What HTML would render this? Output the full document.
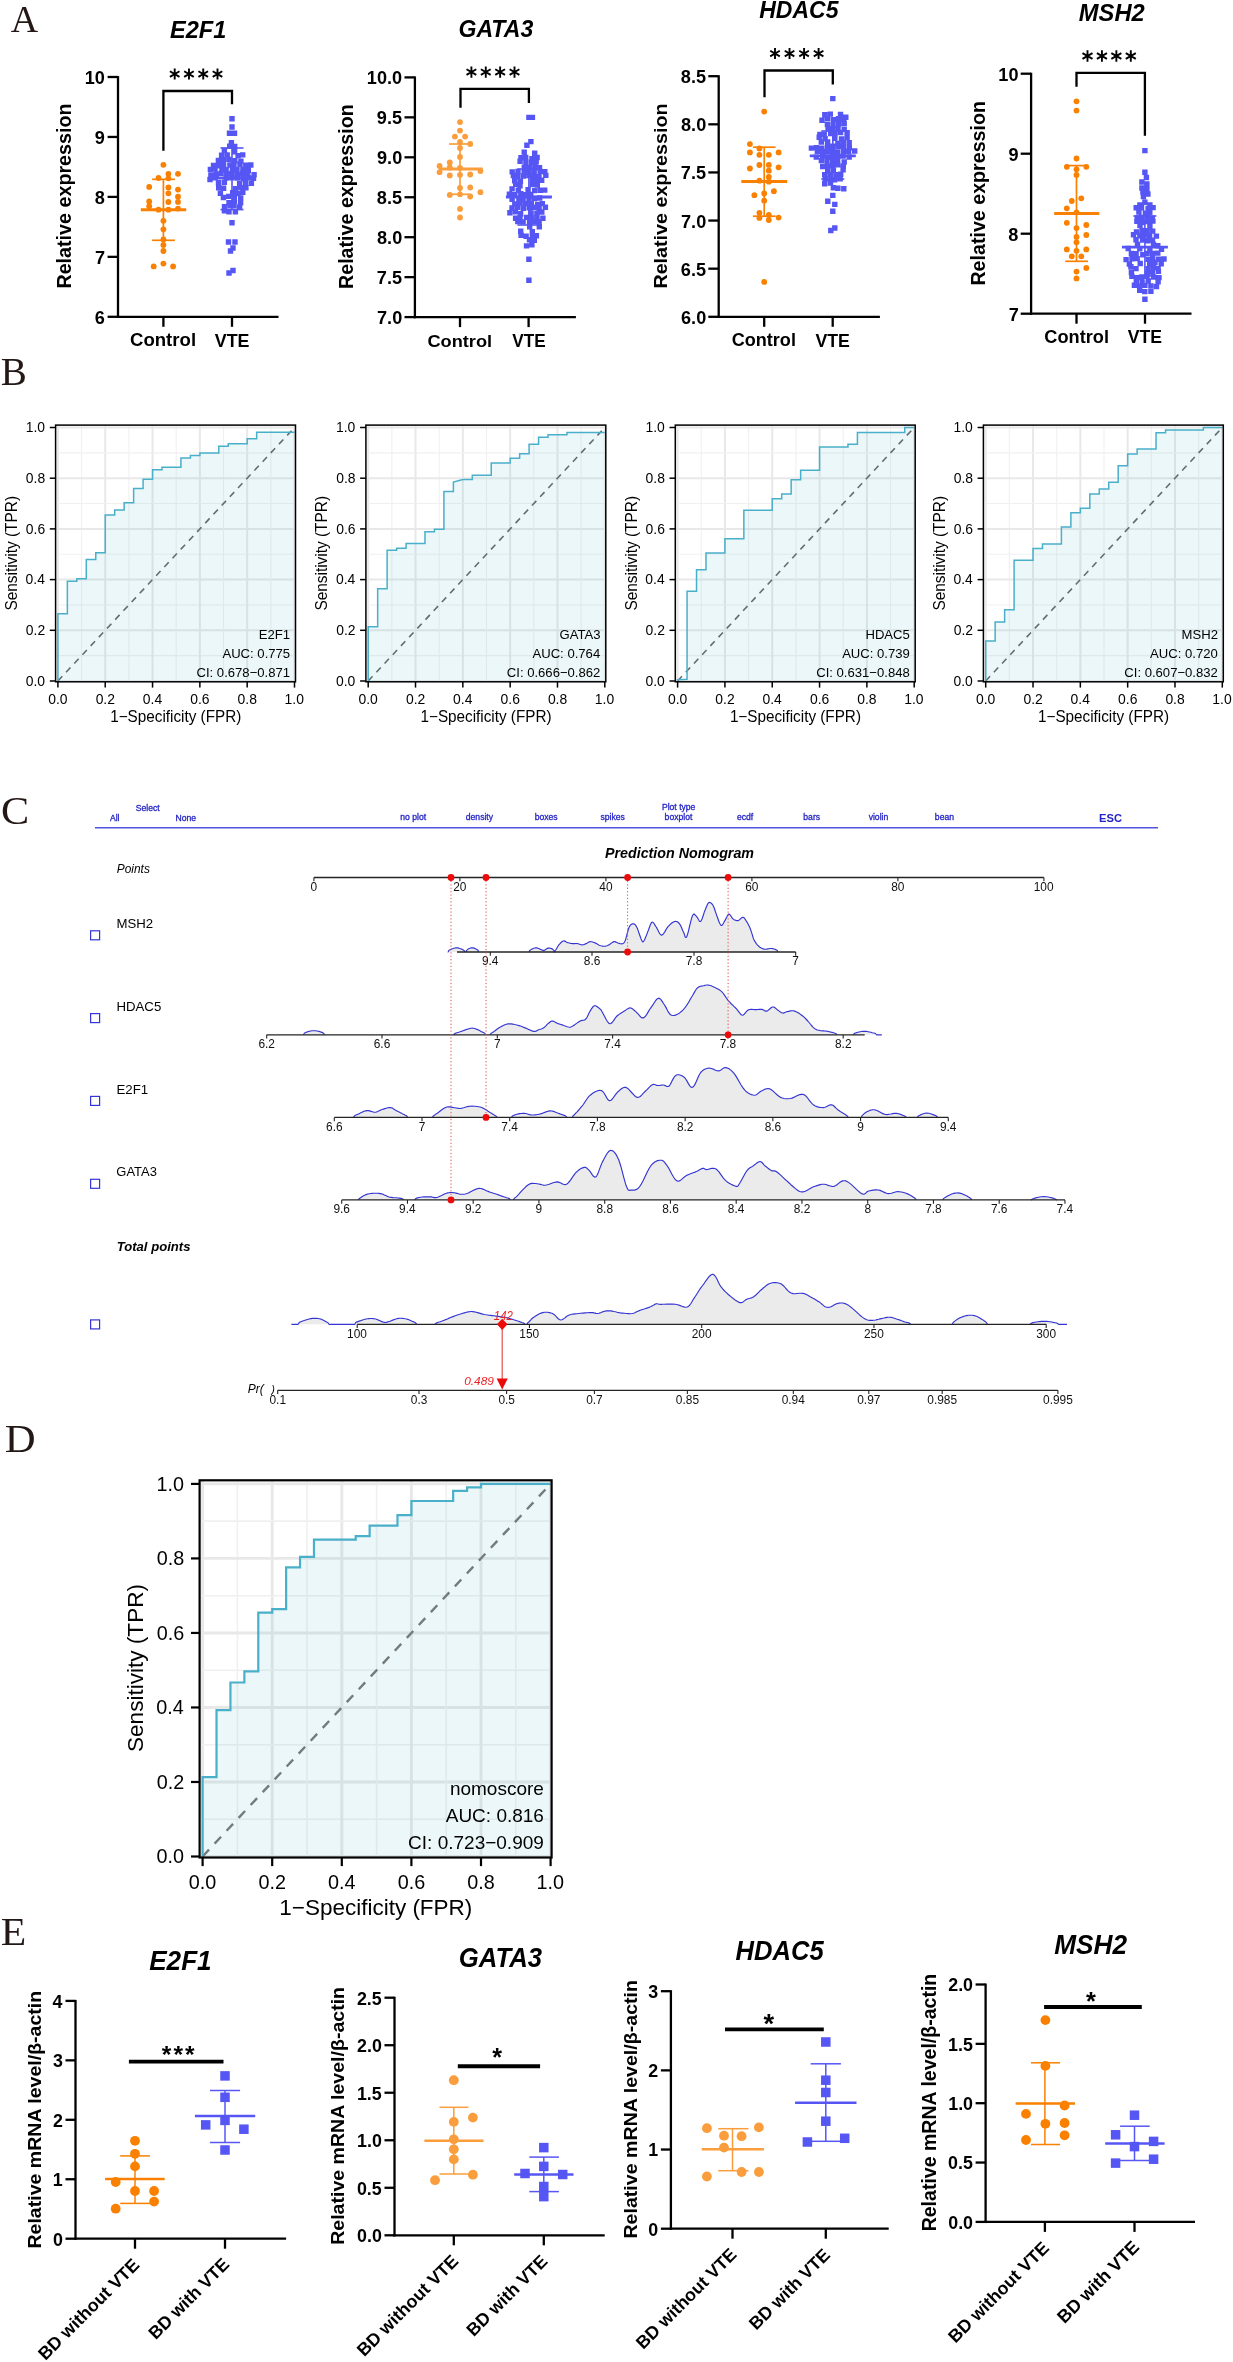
<!DOCTYPE html>
<html><head><meta charset="utf-8"><style>
html,body{margin:0;padding:0;background:#fff;overflow:hidden;}
svg{display:block;will-change:transform;}
</style></head><body>
<svg width="1233" height="2362" viewBox="0 0 1233 2362">
<rect x="0" y="0" width="1233" height="2362" fill="#fff"/>
<line x1="118.00" y1="76.05" x2="118.00" y2="317.95" stroke="#000" stroke-width="2.3" />
<line x1="116.85" y1="316.80" x2="278.50" y2="316.80" stroke="#000" stroke-width="2.3" />
<line x1="107.60" y1="77.00" x2="118.00" y2="77.00" stroke="#000" stroke-width="2.3" />
<line x1="107.60" y1="136.95" x2="118.00" y2="136.95" stroke="#000" stroke-width="2.3" />
<line x1="107.60" y1="196.90" x2="118.00" y2="196.90" stroke="#000" stroke-width="2.3" />
<line x1="107.60" y1="256.85" x2="118.00" y2="256.85" stroke="#000" stroke-width="2.3" />
<line x1="107.60" y1="316.80" x2="118.00" y2="316.80" stroke="#000" stroke-width="2.3" />
<line x1="163.40" y1="316.80" x2="163.40" y2="326.80" stroke="#000" stroke-width="2.3" />
<line x1="232.00" y1="316.80" x2="232.00" y2="326.80" stroke="#000" stroke-width="2.3" />
<text transform="translate(84.71,83.97) scale(0.9750,1)" font-size="18.60" font-family="Liberation Sans" fill="#000" font-weight="bold">10</text>
<text transform="translate(94.87,143.92) scale(0.9750,1)" font-size="18.60" font-family="Liberation Sans" fill="#000" font-weight="bold">9</text>
<text transform="translate(94.69,203.88) scale(0.9750,1)" font-size="18.60" font-family="Liberation Sans" fill="#000" font-weight="bold">8</text>
<text transform="translate(95.05,263.83) scale(0.9750,1)" font-size="18.60" font-family="Liberation Sans" fill="#000" font-weight="bold">7</text>
<text transform="translate(94.87,323.78) scale(0.9750,1)" font-size="18.60" font-family="Liberation Sans" fill="#000" font-weight="bold">6</text>
<text transform="translate(71.17,288.58) rotate(-90) scale(1.0016,1)" font-size="19.68" font-family="Liberation Sans" fill="#000" font-weight="bold">Relative expression</text>
<text transform="translate(169.93,38.00) scale(0.9830,1)" font-size="24.00" font-family="Liberation Sans" fill="#000" font-weight="bold" font-style="italic">E2F1</text>
<text transform="translate(129.96,346.32) scale(1.0214,1)" font-size="18.22" font-family="Liberation Sans" fill="#000" font-weight="bold">Control</text>
<text transform="translate(214.82,346.50) scale(0.9256,1)" font-size="19.28" font-family="Liberation Sans" fill="#000" font-weight="bold">VTE</text>
<polyline points="163.40,150.80 163.40,91.00 232.00,91.00 232.00,104.30" stroke="#000" stroke-width="2.3" fill="none" stroke-linejoin="miter" stroke-linecap="butt"/>
<path d="M174.70,79.60L174.70,68.50M169.89,76.82L179.51,71.28M169.89,71.28L179.51,76.82" stroke="#000" stroke-width="1.9" fill="none"/>
<path d="M188.97,79.60L188.97,68.50M184.16,76.82L193.77,71.28M184.16,71.28L193.77,76.82" stroke="#000" stroke-width="1.9" fill="none"/>
<path d="M203.23,79.60L203.23,68.50M198.43,76.82L208.04,71.28M198.43,71.28L208.04,76.82" stroke="#000" stroke-width="1.9" fill="none"/>
<path d="M217.50,79.60L217.50,68.50M212.69,76.82L222.31,71.28M212.69,71.28L222.31,76.82" stroke="#000" stroke-width="1.9" fill="none"/>
<path d="M228.7,140.0h5.4v5.4h-5.4zM227.0,143.4h5.4v5.4h-5.4zM232.0,143.8h5.4v5.4h-5.4zM221.7,147.7h5.4v5.4h-5.4zM231.9,149.0h5.4v5.4h-5.4zM218.9,152.6h5.4v5.4h-5.4zM224.5,152.2h5.4v5.4h-5.4zM235.4,152.9h5.4v5.4h-5.4zM240.0,152.2h5.4v5.4h-5.4zM215.7,157.7h5.4v5.4h-5.4zM220.8,157.1h5.4v5.4h-5.4zM226.3,156.7h5.4v5.4h-5.4zM232.1,158.0h5.4v5.4h-5.4zM238.2,158.4h5.4v5.4h-5.4zM210.8,162.7h5.4v5.4h-5.4zM215.7,163.0h5.4v5.4h-5.4zM220.9,162.5h5.4v5.4h-5.4zM227.2,162.3h5.4v5.4h-5.4zM231.3,161.8h5.4v5.4h-5.4zM237.3,161.6h5.4v5.4h-5.4zM243.1,162.6h5.4v5.4h-5.4zM248.1,162.3h5.4v5.4h-5.4zM207.7,166.7h5.4v5.4h-5.4zM212.3,166.0h5.4v5.4h-5.4zM219.3,167.1h5.4v5.4h-5.4zM223.4,166.9h5.4v5.4h-5.4zM229.7,167.0h5.4v5.4h-5.4zM234.3,166.9h5.4v5.4h-5.4zM240.2,166.8h5.4v5.4h-5.4zM245.6,167.8h5.4v5.4h-5.4zM208.2,172.3h5.4v5.4h-5.4zM213.6,171.5h5.4v5.4h-5.4zM218.4,170.6h5.4v5.4h-5.4zM224.0,170.9h5.4v5.4h-5.4zM229.3,171.2h5.4v5.4h-5.4zM234.8,171.7h5.4v5.4h-5.4zM240.0,170.6h5.4v5.4h-5.4zM245.0,171.7h5.4v5.4h-5.4zM251.4,172.1h5.4v5.4h-5.4zM207.3,176.8h5.4v5.4h-5.4zM212.4,175.1h5.4v5.4h-5.4zM223.5,175.3h5.4v5.4h-5.4zM229.1,175.2h5.4v5.4h-5.4zM234.7,175.4h5.4v5.4h-5.4zM240.4,176.0h5.4v5.4h-5.4zM245.5,175.1h5.4v5.4h-5.4zM250.8,175.5h5.4v5.4h-5.4zM215.8,180.1h5.4v5.4h-5.4zM221.7,179.7h5.4v5.4h-5.4zM236.9,181.1h5.4v5.4h-5.4zM242.9,180.1h5.4v5.4h-5.4zM248.7,180.7h5.4v5.4h-5.4zM216.0,185.1h5.4v5.4h-5.4zM220.9,185.6h5.4v5.4h-5.4zM232.7,186.1h5.4v5.4h-5.4zM238.0,184.9h5.4v5.4h-5.4zM243.2,185.1h5.4v5.4h-5.4zM217.7,190.7h5.4v5.4h-5.4zM230.0,190.0h5.4v5.4h-5.4zM235.3,190.8h5.4v5.4h-5.4zM240.1,189.7h5.4v5.4h-5.4zM220.7,194.8h5.4v5.4h-5.4zM226.1,193.7h5.4v5.4h-5.4zM231.7,194.5h5.4v5.4h-5.4zM238.0,195.3h5.4v5.4h-5.4zM226.3,200.1h5.4v5.4h-5.4zM231.7,198.5h5.4v5.4h-5.4zM237.9,200.0h5.4v5.4h-5.4zM221.8,204.1h5.4v5.4h-5.4zM227.4,203.2h5.4v5.4h-5.4zM231.3,203.0h5.4v5.4h-5.4zM236.9,204.2h5.4v5.4h-5.4zM221.7,208.0h5.4v5.4h-5.4zM226.3,209.0h5.4v5.4h-5.4zM232.7,209.1h5.4v5.4h-5.4zM229.3,116.0h5.4v5.4h-5.4zM229.3,124.3h5.4v5.4h-5.4zM226.8,130.6h5.4v5.4h-5.4zM231.8,130.6h5.4v5.4h-5.4zM229.3,220.0h5.4v5.4h-5.4zM225.8,239.3h5.4v5.4h-5.4zM232.3,239.3h5.4v5.4h-5.4zM230.3,245.3h5.4v5.4h-5.4zM227.8,248.3h5.4v5.4h-5.4zM230.3,267.8h5.4v5.4h-5.4zM226.3,270.3h5.4v5.4h-5.4z" fill="#5656F4"/>
<line x1="209.00" y1="178.00" x2="255.00" y2="178.00" stroke="#5656F4" stroke-width="2.8" />
<line x1="220.50" y1="148.00" x2="243.50" y2="148.00" stroke="#5656F4" stroke-width="1.6" />
<line x1="220.50" y1="209.60" x2="243.50" y2="209.60" stroke="#5656F4" stroke-width="1.6" />
<line x1="232.00" y1="148.00" x2="232.00" y2="209.60" stroke="#5656F4" stroke-width="1.6" />
<circle cx="163.40" cy="164.80" r="2.90" fill="#F98000"/>
<circle cx="168.40" cy="173.80" r="2.90" fill="#F98000"/>
<circle cx="178.00" cy="173.80" r="2.90" fill="#F98000"/>
<circle cx="158.50" cy="178.00" r="2.90" fill="#F98000"/>
<circle cx="168.40" cy="178.30" r="2.90" fill="#F98000"/>
<circle cx="149.20" cy="186.90" r="2.90" fill="#F98000"/>
<circle cx="168.40" cy="187.50" r="2.90" fill="#F98000"/>
<circle cx="178.00" cy="189.60" r="2.90" fill="#F98000"/>
<circle cx="168.40" cy="193.30" r="2.90" fill="#F98000"/>
<circle cx="178.00" cy="196.70" r="2.90" fill="#F98000"/>
<circle cx="149.20" cy="201.40" r="2.90" fill="#F98000"/>
<circle cx="168.40" cy="202.00" r="2.90" fill="#F98000"/>
<circle cx="178.00" cy="201.90" r="2.90" fill="#F98000"/>
<circle cx="149.20" cy="206.20" r="2.90" fill="#F98000"/>
<circle cx="158.50" cy="209.70" r="2.90" fill="#F98000"/>
<circle cx="168.40" cy="209.70" r="2.90" fill="#F98000"/>
<circle cx="178.00" cy="208.60" r="2.90" fill="#F98000"/>
<circle cx="163.40" cy="220.80" r="2.90" fill="#F98000"/>
<circle cx="163.40" cy="229.30" r="2.90" fill="#F98000"/>
<circle cx="163.40" cy="239.50" r="2.90" fill="#F98000"/>
<circle cx="163.40" cy="245.00" r="2.90" fill="#F98000"/>
<circle cx="163.40" cy="251.00" r="2.90" fill="#F98000"/>
<circle cx="163.40" cy="263.60" r="2.90" fill="#F98000"/>
<circle cx="153.70" cy="266.40" r="2.90" fill="#F98000"/>
<circle cx="173.10" cy="266.40" r="2.90" fill="#F98000"/>
<line x1="140.80" y1="209.80" x2="186.20" y2="209.80" stroke="#F98000" stroke-width="3.0" />
<line x1="152.10" y1="179.30" x2="174.90" y2="179.30" stroke="#F98000" stroke-width="1.7" />
<line x1="152.10" y1="240.30" x2="174.90" y2="240.30" stroke="#F98000" stroke-width="1.7" />
<line x1="163.40" y1="179.30" x2="163.40" y2="240.30" stroke="#F98000" stroke-width="1.7" />
<line x1="414.90" y1="76.45" x2="414.90" y2="318.25" stroke="#000" stroke-width="2.3" />
<line x1="413.75" y1="317.10" x2="575.90" y2="317.10" stroke="#000" stroke-width="2.3" />
<line x1="404.50" y1="77.40" x2="414.90" y2="77.40" stroke="#000" stroke-width="2.3" />
<line x1="404.50" y1="117.35" x2="414.90" y2="117.35" stroke="#000" stroke-width="2.3" />
<line x1="404.50" y1="157.30" x2="414.90" y2="157.30" stroke="#000" stroke-width="2.3" />
<line x1="404.50" y1="197.25" x2="414.90" y2="197.25" stroke="#000" stroke-width="2.3" />
<line x1="404.50" y1="237.20" x2="414.90" y2="237.20" stroke="#000" stroke-width="2.3" />
<line x1="404.50" y1="277.15" x2="414.90" y2="277.15" stroke="#000" stroke-width="2.3" />
<line x1="404.50" y1="317.10" x2="414.90" y2="317.10" stroke="#000" stroke-width="2.3" />
<line x1="460.00" y1="317.10" x2="460.00" y2="327.10" stroke="#000" stroke-width="2.3" />
<line x1="528.60" y1="317.10" x2="528.60" y2="327.10" stroke="#000" stroke-width="2.3" />
<text transform="translate(366.86,84.38) scale(0.9750,1)" font-size="18.60" font-family="Liberation Sans" fill="#000" font-weight="bold">10.0</text>
<text transform="translate(376.84,124.33) scale(0.9750,1)" font-size="18.60" font-family="Liberation Sans" fill="#000" font-weight="bold">9.5</text>
<text transform="translate(377.02,164.28) scale(0.9750,1)" font-size="18.60" font-family="Liberation Sans" fill="#000" font-weight="bold">9.0</text>
<text transform="translate(376.84,204.22) scale(0.9750,1)" font-size="18.60" font-family="Liberation Sans" fill="#000" font-weight="bold">8.5</text>
<text transform="translate(377.02,244.18) scale(0.9750,1)" font-size="18.60" font-family="Liberation Sans" fill="#000" font-weight="bold">8.0</text>
<text transform="translate(376.84,284.12) scale(0.9750,1)" font-size="18.60" font-family="Liberation Sans" fill="#000" font-weight="bold">7.5</text>
<text transform="translate(377.02,324.08) scale(0.9750,1)" font-size="18.60" font-family="Liberation Sans" fill="#000" font-weight="bold">7.0</text>
<text transform="translate(353.19,288.98) rotate(-90) scale(1.0049,1)" font-size="19.57" font-family="Liberation Sans" fill="#000" font-weight="bold">Relative expression</text>
<text transform="translate(458.45,37.46) scale(0.9701,1)" font-size="23.80" font-family="Liberation Sans" fill="#000" font-weight="bold" font-style="italic">GATA3</text>
<text transform="translate(427.47,346.83) scale(1.0546,1)" font-size="17.26" font-family="Liberation Sans" fill="#000" font-weight="bold">Control</text>
<text transform="translate(512.23,347.00) scale(0.9425,1)" font-size="18.26" font-family="Liberation Sans" fill="#000" font-weight="bold">VTE</text>
<polyline points="460.50,107.70 460.50,88.90 528.90,88.90 528.90,102.90" stroke="#000" stroke-width="2.3" fill="none" stroke-linejoin="miter" stroke-linecap="butt"/>
<path d="M471.40,77.70L471.40,66.40M466.51,74.88L476.29,69.23M466.51,69.23L476.29,74.88" stroke="#000" stroke-width="1.9" fill="none"/>
<path d="M485.77,77.70L485.77,66.40M480.87,74.88L490.66,69.23M480.87,69.23L490.66,74.88" stroke="#000" stroke-width="1.9" fill="none"/>
<path d="M500.13,77.70L500.13,66.40M495.24,74.88L505.03,69.23M495.24,69.23L505.03,74.88" stroke="#000" stroke-width="1.9" fill="none"/>
<path d="M514.50,77.70L514.50,66.40M509.61,74.88L519.39,69.23M509.61,69.23L519.39,74.88" stroke="#000" stroke-width="1.9" fill="none"/>
<path d="M521.5,149.4h5.4v5.4h-5.4zM532.0,150.6h5.4v5.4h-5.4zM518.3,155.1h5.4v5.4h-5.4zM523.0,154.8h5.4v5.4h-5.4zM529.3,155.9h5.4v5.4h-5.4zM534.4,154.8h5.4v5.4h-5.4zM517.4,158.6h5.4v5.4h-5.4zM523.2,159.3h5.4v5.4h-5.4zM528.9,159.6h5.4v5.4h-5.4zM533.5,159.2h5.4v5.4h-5.4zM521.6,164.4h5.4v5.4h-5.4zM526.8,164.7h5.4v5.4h-5.4zM532.3,164.6h5.4v5.4h-5.4zM536.8,165.1h5.4v5.4h-5.4zM509.5,169.2h5.4v5.4h-5.4zM515.3,168.8h5.4v5.4h-5.4zM521.5,168.7h5.4v5.4h-5.4zM526.0,169.5h5.4v5.4h-5.4zM531.5,168.8h5.4v5.4h-5.4zM537.4,168.7h5.4v5.4h-5.4zM542.1,169.1h5.4v5.4h-5.4zM510.7,172.8h5.4v5.4h-5.4zM515.1,174.2h5.4v5.4h-5.4zM520.8,173.3h5.4v5.4h-5.4zM526.3,172.9h5.4v5.4h-5.4zM531.6,174.2h5.4v5.4h-5.4zM536.3,173.9h5.4v5.4h-5.4zM543.1,172.7h5.4v5.4h-5.4zM512.0,178.2h5.4v5.4h-5.4zM517.7,178.7h5.4v5.4h-5.4zM529.5,177.4h5.4v5.4h-5.4zM534.9,177.7h5.4v5.4h-5.4zM539.0,177.6h5.4v5.4h-5.4zM513.0,181.7h5.4v5.4h-5.4zM517.3,183.0h5.4v5.4h-5.4zM529.4,181.8h5.4v5.4h-5.4zM534.6,182.3h5.4v5.4h-5.4zM509.4,186.2h5.4v5.4h-5.4zM515.6,187.6h5.4v5.4h-5.4zM525.4,187.0h5.4v5.4h-5.4zM532.0,187.9h5.4v5.4h-5.4zM537.6,187.5h5.4v5.4h-5.4zM542.0,187.4h5.4v5.4h-5.4zM506.7,191.6h5.4v5.4h-5.4zM512.1,191.9h5.4v5.4h-5.4zM518.1,191.0h5.4v5.4h-5.4zM523.1,191.9h5.4v5.4h-5.4zM528.1,191.8h5.4v5.4h-5.4zM509.4,196.6h5.4v5.4h-5.4zM516.2,197.2h5.4v5.4h-5.4zM520.4,196.2h5.4v5.4h-5.4zM526.3,196.5h5.4v5.4h-5.4zM531.9,195.8h5.4v5.4h-5.4zM537.0,195.3h5.4v5.4h-5.4zM512.1,201.3h5.4v5.4h-5.4zM517.5,200.3h5.4v5.4h-5.4zM523.0,200.9h5.4v5.4h-5.4zM528.6,201.2h5.4v5.4h-5.4zM535.0,201.8h5.4v5.4h-5.4zM539.6,200.9h5.4v5.4h-5.4zM509.3,205.3h5.4v5.4h-5.4zM514.9,204.7h5.4v5.4h-5.4zM520.6,205.5h5.4v5.4h-5.4zM526.4,205.1h5.4v5.4h-5.4zM531.4,204.5h5.4v5.4h-5.4zM536.4,205.1h5.4v5.4h-5.4zM542.7,204.5h5.4v5.4h-5.4zM507.2,210.1h5.4v5.4h-5.4zM512.8,209.2h5.4v5.4h-5.4zM517.9,211.0h5.4v5.4h-5.4zM528.4,210.2h5.4v5.4h-5.4zM534.2,210.6h5.4v5.4h-5.4zM539.1,209.3h5.4v5.4h-5.4zM512.9,215.6h5.4v5.4h-5.4zM517.3,215.0h5.4v5.4h-5.4zM523.9,214.7h5.4v5.4h-5.4zM528.8,215.3h5.4v5.4h-5.4zM534.3,214.7h5.4v5.4h-5.4zM540.2,215.6h5.4v5.4h-5.4zM515.1,218.8h5.4v5.4h-5.4zM520.4,219.2h5.4v5.4h-5.4zM526.9,219.5h5.4v5.4h-5.4zM531.0,219.0h5.4v5.4h-5.4zM536.4,219.1h5.4v5.4h-5.4zM527.0,224.2h5.4v5.4h-5.4zM536.6,224.2h5.4v5.4h-5.4zM518.0,228.5h5.4v5.4h-5.4zM529.6,229.0h5.4v5.4h-5.4zM518.4,232.6h5.4v5.4h-5.4zM523.4,233.5h5.4v5.4h-5.4zM529.7,233.7h5.4v5.4h-5.4zM533.7,233.0h5.4v5.4h-5.4zM526.8,237.1h5.4v5.4h-5.4zM531.6,237.5h5.4v5.4h-5.4zM523.8,243.2h5.4v5.4h-5.4zM529.2,242.2h5.4v5.4h-5.4zM526.2,114.7h5.4v5.4h-5.4zM529.7,114.7h5.4v5.4h-5.4zM528.2,138.9h5.4v5.4h-5.4zM524.2,142.6h5.4v5.4h-5.4zM526.2,256.5h5.4v5.4h-5.4zM526.2,277.6h5.4v5.4h-5.4z" fill="#5656F4"/>
<line x1="505.90" y1="197.00" x2="551.90" y2="197.00" stroke="#5656F4" stroke-width="2.8" />
<line x1="517.40" y1="169.00" x2="540.40" y2="169.00" stroke="#5656F4" stroke-width="1.6" />
<line x1="517.40" y1="225.00" x2="540.40" y2="225.00" stroke="#5656F4" stroke-width="1.6" />
<line x1="528.90" y1="169.00" x2="528.90" y2="225.00" stroke="#5656F4" stroke-width="1.6" />
<circle cx="460.00" cy="122.10" r="2.90" fill="#FA9D3C"/>
<circle cx="460.00" cy="130.60" r="2.90" fill="#FA9D3C"/>
<circle cx="454.90" cy="136.60" r="2.90" fill="#FA9D3C"/>
<circle cx="465.10" cy="136.60" r="2.90" fill="#FA9D3C"/>
<circle cx="460.00" cy="141.80" r="2.90" fill="#FA9D3C"/>
<circle cx="470.20" cy="144.00" r="2.90" fill="#FA9D3C"/>
<circle cx="460.00" cy="148.00" r="2.90" fill="#FA9D3C"/>
<circle cx="460.00" cy="156.90" r="2.90" fill="#FA9D3C"/>
<circle cx="449.80" cy="162.40" r="2.90" fill="#FA9D3C"/>
<circle cx="439.60" cy="165.90" r="2.90" fill="#FA9D3C"/>
<circle cx="439.60" cy="172.20" r="2.90" fill="#FA9D3C"/>
<circle cx="449.80" cy="167.50" r="2.90" fill="#FA9D3C"/>
<circle cx="460.00" cy="168.00" r="2.90" fill="#FA9D3C"/>
<circle cx="480.40" cy="171.00" r="2.90" fill="#FA9D3C"/>
<circle cx="449.80" cy="175.40" r="2.90" fill="#FA9D3C"/>
<circle cx="460.00" cy="174.80" r="2.90" fill="#FA9D3C"/>
<circle cx="470.20" cy="174.50" r="2.90" fill="#FA9D3C"/>
<circle cx="460.00" cy="188.00" r="2.90" fill="#FA9D3C"/>
<circle cx="470.20" cy="187.50" r="2.90" fill="#FA9D3C"/>
<circle cx="480.40" cy="192.20" r="2.90" fill="#FA9D3C"/>
<circle cx="449.80" cy="194.90" r="2.90" fill="#FA9D3C"/>
<circle cx="460.00" cy="194.30" r="2.90" fill="#FA9D3C"/>
<circle cx="470.20" cy="196.50" r="2.90" fill="#FA9D3C"/>
<circle cx="460.00" cy="208.90" r="2.90" fill="#FA9D3C"/>
<circle cx="460.00" cy="217.50" r="2.90" fill="#FA9D3C"/>
<line x1="439.00" y1="169.00" x2="482.70" y2="169.00" stroke="#FA9D3C" stroke-width="3.0" />
<line x1="449.00" y1="144.00" x2="470.40" y2="144.00" stroke="#FA9D3C" stroke-width="1.7" />
<line x1="449.00" y1="194.30" x2="470.40" y2="194.30" stroke="#FA9D3C" stroke-width="1.7" />
<line x1="460.00" y1="144.00" x2="460.00" y2="194.30" stroke="#FA9D3C" stroke-width="1.7" />
<line x1="718.70" y1="75.25" x2="718.70" y2="317.95" stroke="#000" stroke-width="2.3" />
<line x1="717.55" y1="316.80" x2="879.90" y2="316.80" stroke="#000" stroke-width="2.3" />
<line x1="708.30" y1="76.20" x2="718.70" y2="76.20" stroke="#000" stroke-width="2.3" />
<line x1="708.30" y1="124.32" x2="718.70" y2="124.32" stroke="#000" stroke-width="2.3" />
<line x1="708.30" y1="172.44" x2="718.70" y2="172.44" stroke="#000" stroke-width="2.3" />
<line x1="708.30" y1="220.56" x2="718.70" y2="220.56" stroke="#000" stroke-width="2.3" />
<line x1="708.30" y1="268.68" x2="718.70" y2="268.68" stroke="#000" stroke-width="2.3" />
<line x1="708.30" y1="316.80" x2="718.70" y2="316.80" stroke="#000" stroke-width="2.3" />
<line x1="764.20" y1="316.80" x2="764.20" y2="326.80" stroke="#000" stroke-width="2.3" />
<line x1="832.70" y1="316.80" x2="832.70" y2="326.80" stroke="#000" stroke-width="2.3" />
<text transform="translate(680.84,83.17) scale(0.9750,1)" font-size="18.60" font-family="Liberation Sans" fill="#000" font-weight="bold">8.5</text>
<text transform="translate(681.02,131.29) scale(0.9750,1)" font-size="18.60" font-family="Liberation Sans" fill="#000" font-weight="bold">8.0</text>
<text transform="translate(680.84,179.41) scale(0.9750,1)" font-size="18.60" font-family="Liberation Sans" fill="#000" font-weight="bold">7.5</text>
<text transform="translate(681.02,227.53) scale(0.9750,1)" font-size="18.60" font-family="Liberation Sans" fill="#000" font-weight="bold">7.0</text>
<text transform="translate(680.84,275.66) scale(0.9750,1)" font-size="18.60" font-family="Liberation Sans" fill="#000" font-weight="bold">6.5</text>
<text transform="translate(681.02,323.78) scale(0.9750,1)" font-size="18.60" font-family="Liberation Sans" fill="#000" font-weight="bold">6.0</text>
<text transform="translate(666.96,288.58) rotate(-90) scale(1.0240,1)" font-size="19.25" font-family="Liberation Sans" fill="#000" font-weight="bold">Relative expression</text>
<text transform="translate(759.24,18.45) scale(0.9329,1)" font-size="24.65" font-family="Liberation Sans" fill="#000" font-weight="bold" font-style="italic">HDAC5</text>
<text transform="translate(731.68,346.32) scale(0.9927,1)" font-size="18.22" font-family="Liberation Sans" fill="#000" font-weight="bold">Control</text>
<text transform="translate(815.42,346.50) scale(0.9202,1)" font-size="19.28" font-family="Liberation Sans" fill="#000" font-weight="bold">VTE</text>
<polyline points="764.50,97.30 764.50,70.50 832.80,70.50 832.80,84.50" stroke="#000" stroke-width="2.3" fill="none" stroke-linejoin="miter" stroke-linecap="butt"/>
<path d="M775.00,59.10L775.00,48.00M770.19,56.32L779.81,50.77M770.19,50.77L779.81,56.32" stroke="#000" stroke-width="1.9" fill="none"/>
<path d="M789.53,59.10L789.53,48.00M784.73,56.32L794.34,50.77M784.73,50.77L794.34,56.32" stroke="#000" stroke-width="1.9" fill="none"/>
<path d="M804.07,59.10L804.07,48.00M799.26,56.32L808.87,50.77M799.26,50.77L808.87,56.32" stroke="#000" stroke-width="1.9" fill="none"/>
<path d="M818.60,59.10L818.60,48.00M813.79,56.32L823.41,50.77M813.79,50.77L823.41,56.32" stroke="#000" stroke-width="1.9" fill="none"/>
<path d="M822.1,112.0h5.4v5.4h-5.4zM827.6,111.4h5.4v5.4h-5.4zM837.8,111.8h5.4v5.4h-5.4zM819.3,117.6h5.4v5.4h-5.4zM824.9,116.2h5.4v5.4h-5.4zM830.7,116.9h5.4v5.4h-5.4zM835.8,116.0h5.4v5.4h-5.4zM841.0,116.5h5.4v5.4h-5.4zM824.7,121.9h5.4v5.4h-5.4zM830.4,122.3h5.4v5.4h-5.4zM836.0,121.4h5.4v5.4h-5.4zM841.5,120.7h5.4v5.4h-5.4zM825.4,126.0h5.4v5.4h-5.4zM829.8,126.1h5.4v5.4h-5.4zM835.3,126.3h5.4v5.4h-5.4zM841.5,126.5h5.4v5.4h-5.4zM817.2,131.7h5.4v5.4h-5.4zM821.5,131.4h5.4v5.4h-5.4zM828.0,130.8h5.4v5.4h-5.4zM832.3,131.4h5.4v5.4h-5.4zM837.9,129.8h5.4v5.4h-5.4zM844.4,129.9h5.4v5.4h-5.4zM816.5,134.6h5.4v5.4h-5.4zM822.4,136.0h5.4v5.4h-5.4zM832.1,135.7h5.4v5.4h-5.4zM838.8,136.3h5.4v5.4h-5.4zM844.4,134.9h5.4v5.4h-5.4zM818.6,139.3h5.4v5.4h-5.4zM824.9,139.2h5.4v5.4h-5.4zM835.2,140.8h5.4v5.4h-5.4zM840.7,139.8h5.4v5.4h-5.4zM846.5,140.1h5.4v5.4h-5.4zM808.7,145.4h5.4v5.4h-5.4zM813.8,144.9h5.4v5.4h-5.4zM819.0,145.5h5.4v5.4h-5.4zM824.8,143.5h5.4v5.4h-5.4zM830.2,143.5h5.4v5.4h-5.4zM835.7,143.6h5.4v5.4h-5.4zM840.8,144.9h5.4v5.4h-5.4zM846.6,145.0h5.4v5.4h-5.4zM814.6,148.6h5.4v5.4h-5.4zM819.4,148.7h5.4v5.4h-5.4zM824.4,148.8h5.4v5.4h-5.4zM829.8,148.9h5.4v5.4h-5.4zM834.7,149.2h5.4v5.4h-5.4zM840.6,148.5h5.4v5.4h-5.4zM845.9,148.5h5.4v5.4h-5.4zM852.0,148.3h5.4v5.4h-5.4zM813.6,154.4h5.4v5.4h-5.4zM819.9,153.0h5.4v5.4h-5.4zM824.9,154.5h5.4v5.4h-5.4zM829.7,152.9h5.4v5.4h-5.4zM835.0,154.3h5.4v5.4h-5.4zM840.4,153.3h5.4v5.4h-5.4zM846.5,154.3h5.4v5.4h-5.4zM818.7,157.9h5.4v5.4h-5.4zM824.3,158.0h5.4v5.4h-5.4zM830.0,158.1h5.4v5.4h-5.4zM834.9,157.3h5.4v5.4h-5.4zM841.5,159.3h5.4v5.4h-5.4zM820.0,163.8h5.4v5.4h-5.4zM825.1,163.6h5.4v5.4h-5.4zM830.1,162.5h5.4v5.4h-5.4zM835.1,162.0h5.4v5.4h-5.4zM840.6,163.5h5.4v5.4h-5.4zM825.0,168.3h5.4v5.4h-5.4zM830.7,167.7h5.4v5.4h-5.4zM840.4,167.1h5.4v5.4h-5.4zM822.0,171.9h5.4v5.4h-5.4zM827.6,171.8h5.4v5.4h-5.4zM833.4,172.1h5.4v5.4h-5.4zM838.0,171.5h5.4v5.4h-5.4zM822.5,176.0h5.4v5.4h-5.4zM828.1,177.3h5.4v5.4h-5.4zM832.0,177.0h5.4v5.4h-5.4zM837.5,176.2h5.4v5.4h-5.4zM822.0,181.1h5.4v5.4h-5.4zM827.8,180.3h5.4v5.4h-5.4zM830.7,185.1h5.4v5.4h-5.4zM835.2,185.5h5.4v5.4h-5.4zM841.1,186.1h5.4v5.4h-5.4zM830.1,95.9h5.4v5.4h-5.4zM843.1,114.5h5.4v5.4h-5.4zM830.1,192.7h5.4v5.4h-5.4zM825.1,198.5h5.4v5.4h-5.4zM832.1,201.7h5.4v5.4h-5.4zM830.1,208.5h5.4v5.4h-5.4zM828.1,227.8h5.4v5.4h-5.4zM832.1,225.3h5.4v5.4h-5.4z" fill="#5656F4"/>
<line x1="809.80" y1="155.90" x2="855.80" y2="155.90" stroke="#5656F4" stroke-width="2.8" />
<line x1="821.30" y1="131.00" x2="844.30" y2="131.00" stroke="#5656F4" stroke-width="1.6" />
<line x1="821.30" y1="179.00" x2="844.30" y2="179.00" stroke="#5656F4" stroke-width="1.6" />
<line x1="832.80" y1="131.00" x2="832.80" y2="179.00" stroke="#5656F4" stroke-width="1.6" />
<circle cx="764.20" cy="111.60" r="2.90" fill="#F98000"/>
<circle cx="749.90" cy="144.10" r="2.90" fill="#F98000"/>
<circle cx="759.40" cy="148.50" r="2.90" fill="#F98000"/>
<circle cx="749.90" cy="152.40" r="2.90" fill="#F98000"/>
<circle cx="778.60" cy="152.40" r="2.90" fill="#F98000"/>
<circle cx="759.40" cy="154.80" r="2.90" fill="#F98000"/>
<circle cx="768.80" cy="154.80" r="2.90" fill="#F98000"/>
<circle cx="759.40" cy="165.00" r="2.90" fill="#F98000"/>
<circle cx="768.80" cy="164.90" r="2.90" fill="#F98000"/>
<circle cx="749.90" cy="168.50" r="2.90" fill="#F98000"/>
<circle cx="778.60" cy="167.30" r="2.90" fill="#F98000"/>
<circle cx="768.80" cy="170.70" r="2.90" fill="#F98000"/>
<circle cx="768.80" cy="177.00" r="2.90" fill="#F98000"/>
<circle cx="759.40" cy="180.70" r="2.90" fill="#F98000"/>
<circle cx="768.80" cy="181.70" r="2.90" fill="#F98000"/>
<circle cx="773.90" cy="191.20" r="2.90" fill="#F98000"/>
<circle cx="754.40" cy="195.20" r="2.90" fill="#F98000"/>
<circle cx="764.20" cy="193.50" r="2.90" fill="#F98000"/>
<circle cx="764.20" cy="200.70" r="2.90" fill="#F98000"/>
<circle cx="759.40" cy="212.80" r="2.90" fill="#F98000"/>
<circle cx="759.40" cy="217.90" r="2.90" fill="#F98000"/>
<circle cx="768.80" cy="214.90" r="2.90" fill="#F98000"/>
<circle cx="778.60" cy="217.60" r="2.90" fill="#F98000"/>
<circle cx="768.80" cy="220.00" r="2.90" fill="#F98000"/>
<circle cx="764.20" cy="281.90" r="2.90" fill="#F98000"/>
<line x1="741.30" y1="181.50" x2="787.20" y2="181.50" stroke="#F98000" stroke-width="3.0" />
<line x1="752.90" y1="147.20" x2="775.60" y2="147.20" stroke="#F98000" stroke-width="1.7" />
<line x1="752.90" y1="216.20" x2="775.60" y2="216.20" stroke="#F98000" stroke-width="1.7" />
<line x1="764.20" y1="147.20" x2="764.20" y2="216.20" stroke="#F98000" stroke-width="1.7" />
<line x1="1031.10" y1="72.75" x2="1031.10" y2="314.85" stroke="#000" stroke-width="2.3" />
<line x1="1029.95" y1="313.70" x2="1191.50" y2="313.70" stroke="#000" stroke-width="2.3" />
<line x1="1020.70" y1="73.70" x2="1031.10" y2="73.70" stroke="#000" stroke-width="2.3" />
<line x1="1020.70" y1="153.70" x2="1031.10" y2="153.70" stroke="#000" stroke-width="2.3" />
<line x1="1020.70" y1="233.70" x2="1031.10" y2="233.70" stroke="#000" stroke-width="2.3" />
<line x1="1020.70" y1="313.70" x2="1031.10" y2="313.70" stroke="#000" stroke-width="2.3" />
<line x1="1076.50" y1="313.70" x2="1076.50" y2="323.70" stroke="#000" stroke-width="2.3" />
<line x1="1145.00" y1="313.70" x2="1145.00" y2="323.70" stroke="#000" stroke-width="2.3" />
<text transform="translate(998.31,80.67) scale(0.9750,1)" font-size="18.60" font-family="Liberation Sans" fill="#000" font-weight="bold">10</text>
<text transform="translate(1008.47,160.67) scale(0.9750,1)" font-size="18.60" font-family="Liberation Sans" fill="#000" font-weight="bold">9</text>
<text transform="translate(1008.29,240.67) scale(0.9750,1)" font-size="18.60" font-family="Liberation Sans" fill="#000" font-weight="bold">8</text>
<text transform="translate(1008.65,320.68) scale(0.9750,1)" font-size="18.60" font-family="Liberation Sans" fill="#000" font-weight="bold">7</text>
<text transform="translate(985.19,285.58) rotate(-90) scale(1.0043,1)" font-size="19.57" font-family="Liberation Sans" fill="#000" font-weight="bold">Relative expression</text>
<text transform="translate(1078.83,21.46) scale(0.9787,1)" font-size="24.23" font-family="Liberation Sans" fill="#000" font-weight="bold" font-style="italic">MSH2</text>
<text transform="translate(1044.27,343.02) scale(1.0144,1)" font-size="17.95" font-family="Liberation Sans" fill="#000" font-weight="bold">Control</text>
<text transform="translate(1127.72,343.20) scale(0.9287,1)" font-size="18.99" font-family="Liberation Sans" fill="#000" font-weight="bold">VTE</text>
<polyline points="1076.50,86.70 1076.50,72.80 1144.90,72.80 1144.90,135.80" stroke="#000" stroke-width="2.3" fill="none" stroke-linejoin="miter" stroke-linecap="butt"/>
<path d="M1087.50,61.80L1087.50,50.20M1082.48,58.90L1092.52,53.10M1082.48,53.10L1092.52,58.90" stroke="#000" stroke-width="1.9" fill="none"/>
<path d="M1101.93,61.80L1101.93,50.20M1096.91,58.90L1106.96,53.10M1096.91,53.10L1106.96,58.90" stroke="#000" stroke-width="1.9" fill="none"/>
<path d="M1116.37,61.80L1116.37,50.20M1111.34,58.90L1121.39,53.10M1111.34,53.10L1121.39,58.90" stroke="#000" stroke-width="1.9" fill="none"/>
<path d="M1130.80,61.80L1130.80,50.20M1125.78,58.90L1135.82,53.10M1125.78,53.10L1135.82,58.90" stroke="#000" stroke-width="1.9" fill="none"/>
<path d="M1133.5,205.1h5.4v5.4h-5.4zM1138.8,205.1h5.4v5.4h-5.4zM1145.4,205.8h5.4v5.4h-5.4zM1150.4,204.9h5.4v5.4h-5.4zM1136.2,209.3h5.4v5.4h-5.4zM1142.7,210.5h5.4v5.4h-5.4zM1147.1,209.5h5.4v5.4h-5.4zM1134.5,215.2h5.4v5.4h-5.4zM1138.8,214.7h5.4v5.4h-5.4zM1144.9,213.9h5.4v5.4h-5.4zM1149.6,215.4h5.4v5.4h-5.4zM1134.2,218.7h5.4v5.4h-5.4zM1139.6,219.9h5.4v5.4h-5.4zM1144.9,218.9h5.4v5.4h-5.4zM1150.2,218.4h5.4v5.4h-5.4zM1137.3,222.8h5.4v5.4h-5.4zM1147.2,223.8h5.4v5.4h-5.4zM1133.8,229.3h5.4v5.4h-5.4zM1139.4,227.7h5.4v5.4h-5.4zM1144.5,228.0h5.4v5.4h-5.4zM1150.0,228.4h5.4v5.4h-5.4zM1130.8,232.0h5.4v5.4h-5.4zM1137.2,233.1h5.4v5.4h-5.4zM1141.9,232.3h5.4v5.4h-5.4zM1146.9,233.3h5.4v5.4h-5.4zM1153.7,233.4h5.4v5.4h-5.4zM1133.3,237.1h5.4v5.4h-5.4zM1139.9,237.3h5.4v5.4h-5.4zM1145.1,238.1h5.4v5.4h-5.4zM1149.8,237.4h5.4v5.4h-5.4zM1134.8,241.8h5.4v5.4h-5.4zM1150.8,241.8h5.4v5.4h-5.4zM1155.1,243.1h5.4v5.4h-5.4zM1125.5,245.8h5.4v5.4h-5.4zM1137.1,246.0h5.4v5.4h-5.4zM1147.2,247.7h5.4v5.4h-5.4zM1158.8,246.5h5.4v5.4h-5.4zM1128.7,250.8h5.4v5.4h-5.4zM1133.4,251.1h5.4v5.4h-5.4zM1140.1,252.0h5.4v5.4h-5.4zM1144.2,250.8h5.4v5.4h-5.4zM1149.8,250.8h5.4v5.4h-5.4zM1155.1,250.4h5.4v5.4h-5.4zM1123.4,256.9h5.4v5.4h-5.4zM1129.3,256.2h5.4v5.4h-5.4zM1134.5,255.9h5.4v5.4h-5.4zM1145.5,256.7h5.4v5.4h-5.4zM1150.0,256.2h5.4v5.4h-5.4zM1155.9,256.5h5.4v5.4h-5.4zM1161.3,256.3h5.4v5.4h-5.4zM1126.7,261.4h5.4v5.4h-5.4zM1137.5,260.8h5.4v5.4h-5.4zM1147.0,261.4h5.4v5.4h-5.4zM1152.3,259.8h5.4v5.4h-5.4zM1158.5,261.0h5.4v5.4h-5.4zM1128.2,264.1h5.4v5.4h-5.4zM1133.3,265.9h5.4v5.4h-5.4zM1145.4,265.9h5.4v5.4h-5.4zM1150.9,264.5h5.4v5.4h-5.4zM1155.4,265.9h5.4v5.4h-5.4zM1128.7,269.8h5.4v5.4h-5.4zM1144.9,270.4h5.4v5.4h-5.4zM1149.7,269.4h5.4v5.4h-5.4zM1155.7,268.7h5.4v5.4h-5.4zM1129.2,273.5h5.4v5.4h-5.4zM1133.9,274.9h5.4v5.4h-5.4zM1139.1,274.3h5.4v5.4h-5.4zM1144.3,273.5h5.4v5.4h-5.4zM1150.9,274.3h5.4v5.4h-5.4zM1156.3,274.9h5.4v5.4h-5.4zM1133.6,278.5h5.4v5.4h-5.4zM1139.4,279.5h5.4v5.4h-5.4zM1145.5,278.3h5.4v5.4h-5.4zM1155.4,279.0h5.4v5.4h-5.4zM1131.7,282.5h5.4v5.4h-5.4zM1136.9,283.5h5.4v5.4h-5.4zM1142.2,282.7h5.4v5.4h-5.4zM1148.2,283.2h5.4v5.4h-5.4zM1153.8,283.8h5.4v5.4h-5.4zM1137.0,287.7h5.4v5.4h-5.4zM1142.1,288.9h5.4v5.4h-5.4zM1148.2,288.7h5.4v5.4h-5.4zM1142.2,147.9h5.4v5.4h-5.4zM1142.2,169.5h5.4v5.4h-5.4zM1143.7,174.8h5.4v5.4h-5.4zM1139.2,179.3h5.4v5.4h-5.4zM1144.2,181.3h5.4v5.4h-5.4zM1139.2,185.3h5.4v5.4h-5.4zM1144.2,186.3h5.4v5.4h-5.4zM1140.2,189.3h5.4v5.4h-5.4zM1145.2,191.3h5.4v5.4h-5.4zM1140.7,193.8h5.4v5.4h-5.4zM1142.2,199.6h5.4v5.4h-5.4zM1142.2,296.6h5.4v5.4h-5.4zM1137.2,202.3h5.4v5.4h-5.4zM1147.2,202.3h5.4v5.4h-5.4z" fill="#5656F4"/>
<line x1="1121.90" y1="247.10" x2="1167.90" y2="247.10" stroke="#5656F4" stroke-width="2.8" />
<line x1="1133.40" y1="216.00" x2="1156.40" y2="216.00" stroke="#5656F4" stroke-width="1.6" />
<line x1="1133.40" y1="276.00" x2="1156.40" y2="276.00" stroke="#5656F4" stroke-width="1.6" />
<line x1="1144.90" y1="216.00" x2="1144.90" y2="276.00" stroke="#5656F4" stroke-width="1.6" />
<circle cx="1076.50" cy="101.30" r="2.90" fill="#F98000"/>
<circle cx="1076.50" cy="110.60" r="2.90" fill="#F98000"/>
<circle cx="1076.50" cy="158.50" r="2.90" fill="#F98000"/>
<circle cx="1066.80" cy="166.80" r="2.90" fill="#F98000"/>
<circle cx="1086.30" cy="166.80" r="2.90" fill="#F98000"/>
<circle cx="1076.50" cy="169.30" r="2.90" fill="#F98000"/>
<circle cx="1076.50" cy="174.90" r="2.90" fill="#F98000"/>
<circle cx="1081.30" cy="198.30" r="2.90" fill="#F98000"/>
<circle cx="1071.80" cy="201.00" r="2.90" fill="#F98000"/>
<circle cx="1066.80" cy="208.30" r="2.90" fill="#F98000"/>
<circle cx="1076.50" cy="212.30" r="2.90" fill="#F98000"/>
<circle cx="1066.80" cy="222.80" r="2.90" fill="#F98000"/>
<circle cx="1086.30" cy="225.00" r="2.90" fill="#F98000"/>
<circle cx="1076.50" cy="228.10" r="2.90" fill="#F98000"/>
<circle cx="1086.30" cy="235.00" r="2.90" fill="#F98000"/>
<circle cx="1076.50" cy="236.90" r="2.90" fill="#F98000"/>
<circle cx="1076.50" cy="242.30" r="2.90" fill="#F98000"/>
<circle cx="1066.80" cy="249.40" r="2.90" fill="#F98000"/>
<circle cx="1076.50" cy="250.80" r="2.90" fill="#F98000"/>
<circle cx="1086.30" cy="249.40" r="2.90" fill="#F98000"/>
<circle cx="1071.80" cy="256.30" r="2.90" fill="#F98000"/>
<circle cx="1081.30" cy="256.30" r="2.90" fill="#F98000"/>
<circle cx="1086.30" cy="267.90" r="2.90" fill="#F98000"/>
<circle cx="1076.50" cy="271.60" r="2.90" fill="#F98000"/>
<circle cx="1076.50" cy="278.40" r="2.90" fill="#F98000"/>
<line x1="1054.20" y1="213.40" x2="1099.30" y2="213.40" stroke="#F98000" stroke-width="3.0" />
<line x1="1065.30" y1="165.60" x2="1088.00" y2="165.60" stroke="#F98000" stroke-width="1.7" />
<line x1="1065.30" y1="261.30" x2="1088.00" y2="261.30" stroke="#F98000" stroke-width="1.7" />
<line x1="1076.50" y1="165.60" x2="1076.50" y2="261.30" stroke="#F98000" stroke-width="1.7" />
<line x1="57.90" y1="425.10" x2="57.90" y2="681.80" stroke="#e8e8e8" stroke-width="2.0" />
<line x1="55.60" y1="681.00" x2="295.50" y2="681.00" stroke="#e8e8e8" stroke-width="2.0" />
<line x1="81.56" y1="425.10" x2="81.56" y2="681.80" stroke="#f0f0f0" stroke-width="1.1" />
<line x1="55.60" y1="655.65" x2="295.50" y2="655.65" stroke="#f0f0f0" stroke-width="1.1" />
<line x1="105.22" y1="425.10" x2="105.22" y2="681.80" stroke="#e8e8e8" stroke-width="2.0" />
<line x1="55.60" y1="630.30" x2="295.50" y2="630.30" stroke="#e8e8e8" stroke-width="2.0" />
<line x1="128.88" y1="425.10" x2="128.88" y2="681.80" stroke="#f0f0f0" stroke-width="1.1" />
<line x1="55.60" y1="604.95" x2="295.50" y2="604.95" stroke="#f0f0f0" stroke-width="1.1" />
<line x1="152.54" y1="425.10" x2="152.54" y2="681.80" stroke="#e8e8e8" stroke-width="2.0" />
<line x1="55.60" y1="579.60" x2="295.50" y2="579.60" stroke="#e8e8e8" stroke-width="2.0" />
<line x1="176.20" y1="425.10" x2="176.20" y2="681.80" stroke="#f0f0f0" stroke-width="1.1" />
<line x1="55.60" y1="554.25" x2="295.50" y2="554.25" stroke="#f0f0f0" stroke-width="1.1" />
<line x1="199.86" y1="425.10" x2="199.86" y2="681.80" stroke="#e8e8e8" stroke-width="2.0" />
<line x1="55.60" y1="528.90" x2="295.50" y2="528.90" stroke="#e8e8e8" stroke-width="2.0" />
<line x1="223.52" y1="425.10" x2="223.52" y2="681.80" stroke="#f0f0f0" stroke-width="1.1" />
<line x1="55.60" y1="503.55" x2="295.50" y2="503.55" stroke="#f0f0f0" stroke-width="1.1" />
<line x1="247.18" y1="425.10" x2="247.18" y2="681.80" stroke="#e8e8e8" stroke-width="2.0" />
<line x1="55.60" y1="478.20" x2="295.50" y2="478.20" stroke="#e8e8e8" stroke-width="2.0" />
<line x1="270.84" y1="425.10" x2="270.84" y2="681.80" stroke="#f0f0f0" stroke-width="1.1" />
<line x1="55.60" y1="452.85" x2="295.50" y2="452.85" stroke="#f0f0f0" stroke-width="1.1" />
<line x1="294.50" y1="425.10" x2="294.50" y2="681.80" stroke="#e8e8e8" stroke-width="2.0" />
<line x1="55.60" y1="427.50" x2="295.50" y2="427.50" stroke="#e8e8e8" stroke-width="2.0" />
<polygon points="57.90,681.00 57.90,613.87 67.36,613.87 67.36,581.30 76.83,581.30 76.83,578.80 86.29,578.80 86.29,559.51 95.76,559.51 95.76,552.75 105.22,552.75 105.22,514.92 114.68,514.92 114.68,509.91 124.15,509.91 124.15,502.65 133.61,502.65 133.61,488.62 143.08,488.62 143.08,479.35 152.54,479.35 152.54,469.83 162.00,469.83 162.00,467.33 180.93,467.33 180.93,458.06 190.40,458.06 190.40,455.56 199.86,455.56 199.86,453.05 218.79,453.05 218.79,446.29 228.25,446.29 228.25,443.78 247.18,443.78 247.18,438.77 256.64,438.77 256.64,432.26 294.50,432.26 294.50,681.00 57.90,681.00" fill="#4AAFC9" fill-opacity="0.105" stroke="none"/>
<line x1="57.90" y1="681.00" x2="294.50" y2="427.50" stroke="#5f6f6f" stroke-width="1.6" stroke-dasharray="6.4,5.6"/>
<polyline points="57.90,681.00 57.90,613.87 67.36,613.87 67.36,581.30 76.83,581.30 76.83,578.80 86.29,578.80 86.29,559.51 95.76,559.51 95.76,552.75 105.22,552.75 105.22,514.92 114.68,514.92 114.68,509.91 124.15,509.91 124.15,502.65 133.61,502.65 133.61,488.62 143.08,488.62 143.08,479.35 152.54,479.35 152.54,469.83 162.00,469.83 162.00,467.33 180.93,467.33 180.93,458.06 190.40,458.06 190.40,455.56 199.86,455.56 199.86,453.05 218.79,453.05 218.79,446.29 228.25,446.29 228.25,443.78 247.18,443.78 247.18,438.77 256.64,438.77 256.64,432.26 294.50,432.26" stroke="#4AAFC9" stroke-width="1.5" fill="none" stroke-linejoin="miter"/>
<rect x="55.60" y="425.10" width="239.90" height="256.70" fill="none" stroke="#000" stroke-width="1.5" />
<line x1="49.80" y1="681.00" x2="55.60" y2="681.00" stroke="#000" stroke-width="1.5" />
<line x1="57.90" y1="681.80" x2="57.90" y2="687.60" stroke="#000" stroke-width="1.5" />
<text transform="translate(25.73,685.87) scale(1.0000,1)" font-size="13.90" font-family="Liberation Sans" fill="#000">0.0</text>
<text transform="translate(48.24,703.90) scale(1.0000,1)" font-size="13.90" font-family="Liberation Sans" fill="#000">0.0</text>
<line x1="49.80" y1="630.30" x2="55.60" y2="630.30" stroke="#000" stroke-width="1.5" />
<line x1="105.22" y1="681.80" x2="105.22" y2="687.60" stroke="#000" stroke-width="1.5" />
<text transform="translate(25.87,635.16) scale(1.0000,1)" font-size="13.90" font-family="Liberation Sans" fill="#000">0.2</text>
<text transform="translate(95.63,703.90) scale(1.0000,1)" font-size="13.90" font-family="Liberation Sans" fill="#000">0.2</text>
<line x1="49.80" y1="579.60" x2="55.60" y2="579.60" stroke="#000" stroke-width="1.5" />
<line x1="152.54" y1="681.80" x2="152.54" y2="687.60" stroke="#000" stroke-width="1.5" />
<text transform="translate(25.60,584.47) scale(1.0000,1)" font-size="13.90" font-family="Liberation Sans" fill="#000">0.4</text>
<text transform="translate(142.81,703.90) scale(1.0000,1)" font-size="13.90" font-family="Liberation Sans" fill="#000">0.4</text>
<line x1="49.80" y1="528.90" x2="55.60" y2="528.90" stroke="#000" stroke-width="1.5" />
<line x1="199.86" y1="681.80" x2="199.86" y2="687.60" stroke="#000" stroke-width="1.5" />
<text transform="translate(25.87,533.76) scale(1.0000,1)" font-size="13.90" font-family="Liberation Sans" fill="#000">0.6</text>
<text transform="translate(190.27,703.90) scale(1.0000,1)" font-size="13.90" font-family="Liberation Sans" fill="#000">0.6</text>
<line x1="49.80" y1="478.20" x2="55.60" y2="478.20" stroke="#000" stroke-width="1.5" />
<line x1="247.18" y1="681.80" x2="247.18" y2="687.60" stroke="#000" stroke-width="1.5" />
<text transform="translate(25.87,483.06) scale(1.0000,1)" font-size="13.90" font-family="Liberation Sans" fill="#000">0.8</text>
<text transform="translate(237.59,703.90) scale(1.0000,1)" font-size="13.90" font-family="Liberation Sans" fill="#000">0.8</text>
<line x1="49.80" y1="427.50" x2="55.60" y2="427.50" stroke="#000" stroke-width="1.5" />
<line x1="294.50" y1="681.80" x2="294.50" y2="687.60" stroke="#000" stroke-width="1.5" />
<text transform="translate(25.73,432.37) scale(1.0000,1)" font-size="13.90" font-family="Liberation Sans" fill="#000">1.0</text>
<text transform="translate(284.56,703.90) scale(1.0000,1)" font-size="13.90" font-family="Liberation Sans" fill="#000">1.0</text>
<text transform="translate(17.13,610.57) rotate(-90) scale(0.9879,1)" font-size="15.59" font-family="Liberation Sans" fill="#000">Sensitivity (TPR)</text>
<text transform="translate(110.18,721.63) scale(0.9803,1)" font-size="15.59" font-family="Liberation Sans" fill="#000">1−Specificity (FPR)</text>
<text transform="translate(258.85,639.20) scale(1.0000,1)" font-size="13.10" font-family="Liberation Sans" fill="#000">E2F1</text>
<text transform="translate(222.43,657.90) scale(1.0000,1)" font-size="13.10" font-family="Liberation Sans" fill="#000">AUC: 0.775</text>
<text transform="translate(196.49,676.70) scale(1.0000,1)" font-size="13.10" font-family="Liberation Sans" fill="#000">CI: 0.678−0.871</text>
<line x1="368.20" y1="425.10" x2="368.20" y2="681.80" stroke="#e8e8e8" stroke-width="2.0" />
<line x1="365.90" y1="681.00" x2="605.80" y2="681.00" stroke="#e8e8e8" stroke-width="2.0" />
<line x1="391.86" y1="425.10" x2="391.86" y2="681.80" stroke="#f0f0f0" stroke-width="1.1" />
<line x1="365.90" y1="655.65" x2="605.80" y2="655.65" stroke="#f0f0f0" stroke-width="1.1" />
<line x1="415.52" y1="425.10" x2="415.52" y2="681.80" stroke="#e8e8e8" stroke-width="2.0" />
<line x1="365.90" y1="630.30" x2="605.80" y2="630.30" stroke="#e8e8e8" stroke-width="2.0" />
<line x1="439.18" y1="425.10" x2="439.18" y2="681.80" stroke="#f0f0f0" stroke-width="1.1" />
<line x1="365.90" y1="604.95" x2="605.80" y2="604.95" stroke="#f0f0f0" stroke-width="1.1" />
<line x1="462.84" y1="425.10" x2="462.84" y2="681.80" stroke="#e8e8e8" stroke-width="2.0" />
<line x1="365.90" y1="579.60" x2="605.80" y2="579.60" stroke="#e8e8e8" stroke-width="2.0" />
<line x1="486.50" y1="425.10" x2="486.50" y2="681.80" stroke="#f0f0f0" stroke-width="1.1" />
<line x1="365.90" y1="554.25" x2="605.80" y2="554.25" stroke="#f0f0f0" stroke-width="1.1" />
<line x1="510.16" y1="425.10" x2="510.16" y2="681.80" stroke="#e8e8e8" stroke-width="2.0" />
<line x1="365.90" y1="528.90" x2="605.80" y2="528.90" stroke="#e8e8e8" stroke-width="2.0" />
<line x1="533.82" y1="425.10" x2="533.82" y2="681.80" stroke="#f0f0f0" stroke-width="1.1" />
<line x1="365.90" y1="503.55" x2="605.80" y2="503.55" stroke="#f0f0f0" stroke-width="1.1" />
<line x1="557.48" y1="425.10" x2="557.48" y2="681.80" stroke="#e8e8e8" stroke-width="2.0" />
<line x1="365.90" y1="478.20" x2="605.80" y2="478.20" stroke="#e8e8e8" stroke-width="2.0" />
<line x1="581.14" y1="425.10" x2="581.14" y2="681.80" stroke="#f0f0f0" stroke-width="1.1" />
<line x1="365.90" y1="452.85" x2="605.80" y2="452.85" stroke="#f0f0f0" stroke-width="1.1" />
<line x1="604.80" y1="425.10" x2="604.80" y2="681.80" stroke="#e8e8e8" stroke-width="2.0" />
<line x1="365.90" y1="427.50" x2="605.80" y2="427.50" stroke="#e8e8e8" stroke-width="2.0" />
<polygon points="368.20,681.00 368.20,626.68 377.66,626.68 377.66,588.65 387.13,588.65 387.13,550.37 396.59,550.37 396.59,548.30 406.06,548.30 406.06,543.39 424.98,543.39 424.98,531.75 434.45,531.75 434.45,529.16 443.91,529.16 443.91,491.39 453.38,491.39 453.38,482.08 462.84,479.49 472.30,479.49 472.30,475.35 491.23,475.35 491.23,462.94 510.16,462.94 510.16,458.28 519.62,458.28 519.62,453.63 529.09,453.63 529.09,444.31 538.55,444.31 538.55,437.33 548.02,437.33 548.02,434.74 566.94,434.74 566.94,432.41 604.80,432.41 604.80,681.00 368.20,681.00" fill="#4AAFC9" fill-opacity="0.105" stroke="none"/>
<line x1="368.20" y1="681.00" x2="604.80" y2="427.50" stroke="#5f6f6f" stroke-width="1.6" stroke-dasharray="6.4,5.6"/>
<polyline points="368.20,681.00 368.20,626.68 377.66,626.68 377.66,588.65 387.13,588.65 387.13,550.37 396.59,550.37 396.59,548.30 406.06,548.30 406.06,543.39 424.98,543.39 424.98,531.75 434.45,531.75 434.45,529.16 443.91,529.16 443.91,491.39 453.38,491.39 453.38,482.08 462.84,479.49 472.30,479.49 472.30,475.35 491.23,475.35 491.23,462.94 510.16,462.94 510.16,458.28 519.62,458.28 519.62,453.63 529.09,453.63 529.09,444.31 538.55,444.31 538.55,437.33 548.02,437.33 548.02,434.74 566.94,434.74 566.94,432.41 604.80,432.41" stroke="#4AAFC9" stroke-width="1.5" fill="none" stroke-linejoin="miter"/>
<rect x="365.90" y="425.10" width="239.90" height="256.70" fill="none" stroke="#000" stroke-width="1.5" />
<line x1="360.10" y1="681.00" x2="365.90" y2="681.00" stroke="#000" stroke-width="1.5" />
<line x1="368.20" y1="681.80" x2="368.20" y2="687.60" stroke="#000" stroke-width="1.5" />
<text transform="translate(336.03,685.87) scale(1.0000,1)" font-size="13.90" font-family="Liberation Sans" fill="#000">0.0</text>
<text transform="translate(358.54,703.90) scale(1.0000,1)" font-size="13.90" font-family="Liberation Sans" fill="#000">0.0</text>
<line x1="360.10" y1="630.30" x2="365.90" y2="630.30" stroke="#000" stroke-width="1.5" />
<line x1="415.52" y1="681.80" x2="415.52" y2="687.60" stroke="#000" stroke-width="1.5" />
<text transform="translate(336.17,635.16) scale(1.0000,1)" font-size="13.90" font-family="Liberation Sans" fill="#000">0.2</text>
<text transform="translate(405.93,703.90) scale(1.0000,1)" font-size="13.90" font-family="Liberation Sans" fill="#000">0.2</text>
<line x1="360.10" y1="579.60" x2="365.90" y2="579.60" stroke="#000" stroke-width="1.5" />
<line x1="462.84" y1="681.80" x2="462.84" y2="687.60" stroke="#000" stroke-width="1.5" />
<text transform="translate(335.90,584.47) scale(1.0000,1)" font-size="13.90" font-family="Liberation Sans" fill="#000">0.4</text>
<text transform="translate(453.11,703.90) scale(1.0000,1)" font-size="13.90" font-family="Liberation Sans" fill="#000">0.4</text>
<line x1="360.10" y1="528.90" x2="365.90" y2="528.90" stroke="#000" stroke-width="1.5" />
<line x1="510.16" y1="681.80" x2="510.16" y2="687.60" stroke="#000" stroke-width="1.5" />
<text transform="translate(336.17,533.76) scale(1.0000,1)" font-size="13.90" font-family="Liberation Sans" fill="#000">0.6</text>
<text transform="translate(500.57,703.90) scale(1.0000,1)" font-size="13.90" font-family="Liberation Sans" fill="#000">0.6</text>
<line x1="360.10" y1="478.20" x2="365.90" y2="478.20" stroke="#000" stroke-width="1.5" />
<line x1="557.48" y1="681.80" x2="557.48" y2="687.60" stroke="#000" stroke-width="1.5" />
<text transform="translate(336.17,483.06) scale(1.0000,1)" font-size="13.90" font-family="Liberation Sans" fill="#000">0.8</text>
<text transform="translate(547.89,703.90) scale(1.0000,1)" font-size="13.90" font-family="Liberation Sans" fill="#000">0.8</text>
<line x1="360.10" y1="427.50" x2="365.90" y2="427.50" stroke="#000" stroke-width="1.5" />
<line x1="604.80" y1="681.80" x2="604.80" y2="687.60" stroke="#000" stroke-width="1.5" />
<text transform="translate(336.03,432.37) scale(1.0000,1)" font-size="13.90" font-family="Liberation Sans" fill="#000">1.0</text>
<text transform="translate(594.86,703.90) scale(1.0000,1)" font-size="13.90" font-family="Liberation Sans" fill="#000">1.0</text>
<text transform="translate(327.43,610.57) rotate(-90) scale(0.9879,1)" font-size="15.59" font-family="Liberation Sans" fill="#000">Sensitivity (TPR)</text>
<text transform="translate(420.48,721.63) scale(0.9803,1)" font-size="15.59" font-family="Liberation Sans" fill="#000">1−Specificity (FPR)</text>
<text transform="translate(559.45,639.20) scale(1.0000,1)" font-size="13.10" font-family="Liberation Sans" fill="#000">GATA3</text>
<text transform="translate(532.47,657.90) scale(1.0000,1)" font-size="13.10" font-family="Liberation Sans" fill="#000">AUC: 0.764</text>
<text transform="translate(506.79,676.70) scale(1.0000,1)" font-size="13.10" font-family="Liberation Sans" fill="#000">CI: 0.666−0.862</text>
<line x1="677.60" y1="425.10" x2="677.60" y2="681.80" stroke="#e8e8e8" stroke-width="2.0" />
<line x1="675.30" y1="681.00" x2="915.20" y2="681.00" stroke="#e8e8e8" stroke-width="2.0" />
<line x1="701.26" y1="425.10" x2="701.26" y2="681.80" stroke="#f0f0f0" stroke-width="1.1" />
<line x1="675.30" y1="655.65" x2="915.20" y2="655.65" stroke="#f0f0f0" stroke-width="1.1" />
<line x1="724.92" y1="425.10" x2="724.92" y2="681.80" stroke="#e8e8e8" stroke-width="2.0" />
<line x1="675.30" y1="630.30" x2="915.20" y2="630.30" stroke="#e8e8e8" stroke-width="2.0" />
<line x1="748.58" y1="425.10" x2="748.58" y2="681.80" stroke="#f0f0f0" stroke-width="1.1" />
<line x1="675.30" y1="604.95" x2="915.20" y2="604.95" stroke="#f0f0f0" stroke-width="1.1" />
<line x1="772.24" y1="425.10" x2="772.24" y2="681.80" stroke="#e8e8e8" stroke-width="2.0" />
<line x1="675.30" y1="579.60" x2="915.20" y2="579.60" stroke="#e8e8e8" stroke-width="2.0" />
<line x1="795.90" y1="425.10" x2="795.90" y2="681.80" stroke="#f0f0f0" stroke-width="1.1" />
<line x1="675.30" y1="554.25" x2="915.20" y2="554.25" stroke="#f0f0f0" stroke-width="1.1" />
<line x1="819.56" y1="425.10" x2="819.56" y2="681.80" stroke="#e8e8e8" stroke-width="2.0" />
<line x1="675.30" y1="528.90" x2="915.20" y2="528.90" stroke="#e8e8e8" stroke-width="2.0" />
<line x1="843.22" y1="425.10" x2="843.22" y2="681.80" stroke="#f0f0f0" stroke-width="1.1" />
<line x1="675.30" y1="503.55" x2="915.20" y2="503.55" stroke="#f0f0f0" stroke-width="1.1" />
<line x1="866.88" y1="425.10" x2="866.88" y2="681.80" stroke="#e8e8e8" stroke-width="2.0" />
<line x1="675.30" y1="478.20" x2="915.20" y2="478.20" stroke="#e8e8e8" stroke-width="2.0" />
<line x1="890.54" y1="425.10" x2="890.54" y2="681.80" stroke="#f0f0f0" stroke-width="1.1" />
<line x1="675.30" y1="452.85" x2="915.20" y2="452.85" stroke="#f0f0f0" stroke-width="1.1" />
<line x1="914.20" y1="425.10" x2="914.20" y2="681.80" stroke="#e8e8e8" stroke-width="2.0" />
<line x1="675.30" y1="427.50" x2="915.20" y2="427.50" stroke="#e8e8e8" stroke-width="2.0" />
<polygon points="677.60,681.00 677.60,679.71 687.06,679.19 687.06,591.24 696.53,591.24 696.53,569.77 705.99,569.77 705.99,552.96 724.92,552.96 724.92,538.73 743.85,538.73 743.85,510.28 772.24,510.28 772.24,498.64 781.70,498.64 781.70,493.98 791.17,493.98 791.17,479.75 800.63,479.75 800.63,470.18 819.56,470.18 819.56,446.90 847.95,446.90 847.95,444.31 857.42,444.31 857.42,432.41 904.74,432.41 904.74,427.50 914.20,427.50 914.20,681.00 677.60,681.00" fill="#4AAFC9" fill-opacity="0.105" stroke="none"/>
<line x1="677.60" y1="681.00" x2="914.20" y2="427.50" stroke="#5f6f6f" stroke-width="1.6" stroke-dasharray="6.4,5.6"/>
<polyline points="677.60,681.00 677.60,679.71 687.06,679.19 687.06,591.24 696.53,591.24 696.53,569.77 705.99,569.77 705.99,552.96 724.92,552.96 724.92,538.73 743.85,538.73 743.85,510.28 772.24,510.28 772.24,498.64 781.70,498.64 781.70,493.98 791.17,493.98 791.17,479.75 800.63,479.75 800.63,470.18 819.56,470.18 819.56,446.90 847.95,446.90 847.95,444.31 857.42,444.31 857.42,432.41 904.74,432.41 904.74,427.50 914.20,427.50" stroke="#4AAFC9" stroke-width="1.5" fill="none" stroke-linejoin="miter"/>
<rect x="675.30" y="425.10" width="239.90" height="256.70" fill="none" stroke="#000" stroke-width="1.5" />
<line x1="669.50" y1="681.00" x2="675.30" y2="681.00" stroke="#000" stroke-width="1.5" />
<line x1="677.60" y1="681.80" x2="677.60" y2="687.60" stroke="#000" stroke-width="1.5" />
<text transform="translate(645.43,685.87) scale(1.0000,1)" font-size="13.90" font-family="Liberation Sans" fill="#000">0.0</text>
<text transform="translate(667.94,703.90) scale(1.0000,1)" font-size="13.90" font-family="Liberation Sans" fill="#000">0.0</text>
<line x1="669.50" y1="630.30" x2="675.30" y2="630.30" stroke="#000" stroke-width="1.5" />
<line x1="724.92" y1="681.80" x2="724.92" y2="687.60" stroke="#000" stroke-width="1.5" />
<text transform="translate(645.57,635.16) scale(1.0000,1)" font-size="13.90" font-family="Liberation Sans" fill="#000">0.2</text>
<text transform="translate(715.33,703.90) scale(1.0000,1)" font-size="13.90" font-family="Liberation Sans" fill="#000">0.2</text>
<line x1="669.50" y1="579.60" x2="675.30" y2="579.60" stroke="#000" stroke-width="1.5" />
<line x1="772.24" y1="681.80" x2="772.24" y2="687.60" stroke="#000" stroke-width="1.5" />
<text transform="translate(645.30,584.47) scale(1.0000,1)" font-size="13.90" font-family="Liberation Sans" fill="#000">0.4</text>
<text transform="translate(762.51,703.90) scale(1.0000,1)" font-size="13.90" font-family="Liberation Sans" fill="#000">0.4</text>
<line x1="669.50" y1="528.90" x2="675.30" y2="528.90" stroke="#000" stroke-width="1.5" />
<line x1="819.56" y1="681.80" x2="819.56" y2="687.60" stroke="#000" stroke-width="1.5" />
<text transform="translate(645.57,533.76) scale(1.0000,1)" font-size="13.90" font-family="Liberation Sans" fill="#000">0.6</text>
<text transform="translate(809.97,703.90) scale(1.0000,1)" font-size="13.90" font-family="Liberation Sans" fill="#000">0.6</text>
<line x1="669.50" y1="478.20" x2="675.30" y2="478.20" stroke="#000" stroke-width="1.5" />
<line x1="866.88" y1="681.80" x2="866.88" y2="687.60" stroke="#000" stroke-width="1.5" />
<text transform="translate(645.57,483.06) scale(1.0000,1)" font-size="13.90" font-family="Liberation Sans" fill="#000">0.8</text>
<text transform="translate(857.29,703.90) scale(1.0000,1)" font-size="13.90" font-family="Liberation Sans" fill="#000">0.8</text>
<line x1="669.50" y1="427.50" x2="675.30" y2="427.50" stroke="#000" stroke-width="1.5" />
<line x1="914.20" y1="681.80" x2="914.20" y2="687.60" stroke="#000" stroke-width="1.5" />
<text transform="translate(645.43,432.37) scale(1.0000,1)" font-size="13.90" font-family="Liberation Sans" fill="#000">1.0</text>
<text transform="translate(904.26,703.90) scale(1.0000,1)" font-size="13.90" font-family="Liberation Sans" fill="#000">1.0</text>
<text transform="translate(636.83,610.57) rotate(-90) scale(0.9879,1)" font-size="15.59" font-family="Liberation Sans" fill="#000">Sensitivity (TPR)</text>
<text transform="translate(729.88,721.63) scale(0.9803,1)" font-size="15.59" font-family="Liberation Sans" fill="#000">1−Specificity (FPR)</text>
<text transform="translate(865.45,639.20) scale(1.0000,1)" font-size="13.10" font-family="Liberation Sans" fill="#000">HDAC5</text>
<text transform="translate(842.13,657.90) scale(1.0000,1)" font-size="13.10" font-family="Liberation Sans" fill="#000">AUC: 0.739</text>
<text transform="translate(816.19,676.70) scale(1.0000,1)" font-size="13.10" font-family="Liberation Sans" fill="#000">CI: 0.631−0.848</text>
<line x1="985.70" y1="425.10" x2="985.70" y2="681.80" stroke="#e8e8e8" stroke-width="2.0" />
<line x1="983.40" y1="681.00" x2="1223.30" y2="681.00" stroke="#e8e8e8" stroke-width="2.0" />
<line x1="1009.36" y1="425.10" x2="1009.36" y2="681.80" stroke="#f0f0f0" stroke-width="1.1" />
<line x1="983.40" y1="655.65" x2="1223.30" y2="655.65" stroke="#f0f0f0" stroke-width="1.1" />
<line x1="1033.02" y1="425.10" x2="1033.02" y2="681.80" stroke="#e8e8e8" stroke-width="2.0" />
<line x1="983.40" y1="630.30" x2="1223.30" y2="630.30" stroke="#e8e8e8" stroke-width="2.0" />
<line x1="1056.68" y1="425.10" x2="1056.68" y2="681.80" stroke="#f0f0f0" stroke-width="1.1" />
<line x1="983.40" y1="604.95" x2="1223.30" y2="604.95" stroke="#f0f0f0" stroke-width="1.1" />
<line x1="1080.34" y1="425.10" x2="1080.34" y2="681.80" stroke="#e8e8e8" stroke-width="2.0" />
<line x1="983.40" y1="579.60" x2="1223.30" y2="579.60" stroke="#e8e8e8" stroke-width="2.0" />
<line x1="1104.00" y1="425.10" x2="1104.00" y2="681.80" stroke="#f0f0f0" stroke-width="1.1" />
<line x1="983.40" y1="554.25" x2="1223.30" y2="554.25" stroke="#f0f0f0" stroke-width="1.1" />
<line x1="1127.66" y1="425.10" x2="1127.66" y2="681.80" stroke="#e8e8e8" stroke-width="2.0" />
<line x1="983.40" y1="528.90" x2="1223.30" y2="528.90" stroke="#e8e8e8" stroke-width="2.0" />
<line x1="1151.32" y1="425.10" x2="1151.32" y2="681.80" stroke="#f0f0f0" stroke-width="1.1" />
<line x1="983.40" y1="503.55" x2="1223.30" y2="503.55" stroke="#f0f0f0" stroke-width="1.1" />
<line x1="1174.98" y1="425.10" x2="1174.98" y2="681.80" stroke="#e8e8e8" stroke-width="2.0" />
<line x1="983.40" y1="478.20" x2="1223.30" y2="478.20" stroke="#e8e8e8" stroke-width="2.0" />
<line x1="1198.64" y1="425.10" x2="1198.64" y2="681.80" stroke="#f0f0f0" stroke-width="1.1" />
<line x1="983.40" y1="452.85" x2="1223.30" y2="452.85" stroke="#f0f0f0" stroke-width="1.1" />
<line x1="1222.30" y1="425.10" x2="1222.30" y2="681.80" stroke="#e8e8e8" stroke-width="2.0" />
<line x1="983.40" y1="427.50" x2="1223.30" y2="427.50" stroke="#e8e8e8" stroke-width="2.0" />
<polygon points="985.70,681.00 985.70,640.91 995.16,640.91 995.16,622.02 1004.63,622.02 1004.63,609.86 1014.09,609.86 1014.09,560.20 1033.02,560.20 1033.02,548.56 1042.48,548.56 1042.48,543.90 1061.41,543.90 1061.41,527.09 1070.88,527.09 1070.88,512.86 1080.34,512.86 1080.34,508.21 1089.80,508.21 1089.80,493.98 1099.27,493.98 1099.27,489.06 1108.73,489.06 1108.73,482.34 1118.20,482.34 1118.20,465.78 1127.66,465.78 1127.66,453.88 1137.12,453.88 1137.12,448.97 1156.05,448.97 1156.05,432.67 1165.52,432.67 1165.52,430.09 1203.37,430.09 1203.37,427.50 1222.30,427.50 1222.30,681.00 985.70,681.00" fill="#4AAFC9" fill-opacity="0.105" stroke="none"/>
<line x1="985.70" y1="681.00" x2="1222.30" y2="427.50" stroke="#5f6f6f" stroke-width="1.6" stroke-dasharray="6.4,5.6"/>
<polyline points="985.70,681.00 985.70,640.91 995.16,640.91 995.16,622.02 1004.63,622.02 1004.63,609.86 1014.09,609.86 1014.09,560.20 1033.02,560.20 1033.02,548.56 1042.48,548.56 1042.48,543.90 1061.41,543.90 1061.41,527.09 1070.88,527.09 1070.88,512.86 1080.34,512.86 1080.34,508.21 1089.80,508.21 1089.80,493.98 1099.27,493.98 1099.27,489.06 1108.73,489.06 1108.73,482.34 1118.20,482.34 1118.20,465.78 1127.66,465.78 1127.66,453.88 1137.12,453.88 1137.12,448.97 1156.05,448.97 1156.05,432.67 1165.52,432.67 1165.52,430.09 1203.37,430.09 1203.37,427.50 1222.30,427.50" stroke="#4AAFC9" stroke-width="1.5" fill="none" stroke-linejoin="miter"/>
<rect x="983.40" y="425.10" width="239.90" height="256.70" fill="none" stroke="#000" stroke-width="1.5" />
<line x1="977.60" y1="681.00" x2="983.40" y2="681.00" stroke="#000" stroke-width="1.5" />
<line x1="985.70" y1="681.80" x2="985.70" y2="687.60" stroke="#000" stroke-width="1.5" />
<text transform="translate(953.53,685.87) scale(1.0000,1)" font-size="13.90" font-family="Liberation Sans" fill="#000">0.0</text>
<text transform="translate(976.04,703.90) scale(1.0000,1)" font-size="13.90" font-family="Liberation Sans" fill="#000">0.0</text>
<line x1="977.60" y1="630.30" x2="983.40" y2="630.30" stroke="#000" stroke-width="1.5" />
<line x1="1033.02" y1="681.80" x2="1033.02" y2="687.60" stroke="#000" stroke-width="1.5" />
<text transform="translate(953.67,635.16) scale(1.0000,1)" font-size="13.90" font-family="Liberation Sans" fill="#000">0.2</text>
<text transform="translate(1023.43,703.90) scale(1.0000,1)" font-size="13.90" font-family="Liberation Sans" fill="#000">0.2</text>
<line x1="977.60" y1="579.60" x2="983.40" y2="579.60" stroke="#000" stroke-width="1.5" />
<line x1="1080.34" y1="681.80" x2="1080.34" y2="687.60" stroke="#000" stroke-width="1.5" />
<text transform="translate(953.40,584.47) scale(1.0000,1)" font-size="13.90" font-family="Liberation Sans" fill="#000">0.4</text>
<text transform="translate(1070.61,703.90) scale(1.0000,1)" font-size="13.90" font-family="Liberation Sans" fill="#000">0.4</text>
<line x1="977.60" y1="528.90" x2="983.40" y2="528.90" stroke="#000" stroke-width="1.5" />
<line x1="1127.66" y1="681.80" x2="1127.66" y2="687.60" stroke="#000" stroke-width="1.5" />
<text transform="translate(953.67,533.76) scale(1.0000,1)" font-size="13.90" font-family="Liberation Sans" fill="#000">0.6</text>
<text transform="translate(1118.07,703.90) scale(1.0000,1)" font-size="13.90" font-family="Liberation Sans" fill="#000">0.6</text>
<line x1="977.60" y1="478.20" x2="983.40" y2="478.20" stroke="#000" stroke-width="1.5" />
<line x1="1174.98" y1="681.80" x2="1174.98" y2="687.60" stroke="#000" stroke-width="1.5" />
<text transform="translate(953.67,483.06) scale(1.0000,1)" font-size="13.90" font-family="Liberation Sans" fill="#000">0.8</text>
<text transform="translate(1165.39,703.90) scale(1.0000,1)" font-size="13.90" font-family="Liberation Sans" fill="#000">0.8</text>
<line x1="977.60" y1="427.50" x2="983.40" y2="427.50" stroke="#000" stroke-width="1.5" />
<line x1="1222.30" y1="681.80" x2="1222.30" y2="687.60" stroke="#000" stroke-width="1.5" />
<text transform="translate(953.53,432.37) scale(1.0000,1)" font-size="13.90" font-family="Liberation Sans" fill="#000">1.0</text>
<text transform="translate(1212.36,703.90) scale(1.0000,1)" font-size="13.90" font-family="Liberation Sans" fill="#000">1.0</text>
<text transform="translate(944.93,610.57) rotate(-90) scale(0.9879,1)" font-size="15.59" font-family="Liberation Sans" fill="#000">Sensitivity (TPR)</text>
<text transform="translate(1037.98,721.63) scale(0.9803,1)" font-size="15.59" font-family="Liberation Sans" fill="#000">1−Specificity (FPR)</text>
<text transform="translate(1181.54,639.20) scale(1.0000,1)" font-size="13.10" font-family="Liberation Sans" fill="#000">MSH2</text>
<text transform="translate(1150.10,657.90) scale(1.0000,1)" font-size="13.10" font-family="Liberation Sans" fill="#000">AUC: 0.720</text>
<text transform="translate(1124.29,676.70) scale(1.0000,1)" font-size="13.10" font-family="Liberation Sans" fill="#000">CI: 0.607−0.832</text>
<line x1="202.60" y1="1480.30" x2="202.60" y2="1857.50" stroke="#e8e8e8" stroke-width="2.9" />
<line x1="199.60" y1="1856.50" x2="551.60" y2="1856.50" stroke="#e8e8e8" stroke-width="2.9" />
<line x1="237.40" y1="1480.30" x2="237.40" y2="1857.50" stroke="#f0f0f0" stroke-width="1.6" />
<line x1="199.60" y1="1819.24" x2="551.60" y2="1819.24" stroke="#f0f0f0" stroke-width="1.6" />
<line x1="272.20" y1="1480.30" x2="272.20" y2="1857.50" stroke="#e8e8e8" stroke-width="2.9" />
<line x1="199.60" y1="1781.98" x2="551.60" y2="1781.98" stroke="#e8e8e8" stroke-width="2.9" />
<line x1="307.00" y1="1480.30" x2="307.00" y2="1857.50" stroke="#f0f0f0" stroke-width="1.6" />
<line x1="199.60" y1="1744.72" x2="551.60" y2="1744.72" stroke="#f0f0f0" stroke-width="1.6" />
<line x1="341.80" y1="1480.30" x2="341.80" y2="1857.50" stroke="#e8e8e8" stroke-width="2.9" />
<line x1="199.60" y1="1707.46" x2="551.60" y2="1707.46" stroke="#e8e8e8" stroke-width="2.9" />
<line x1="376.60" y1="1480.30" x2="376.60" y2="1857.50" stroke="#f0f0f0" stroke-width="1.6" />
<line x1="199.60" y1="1670.20" x2="551.60" y2="1670.20" stroke="#f0f0f0" stroke-width="1.6" />
<line x1="411.40" y1="1480.30" x2="411.40" y2="1857.50" stroke="#e8e8e8" stroke-width="2.9" />
<line x1="199.60" y1="1632.94" x2="551.60" y2="1632.94" stroke="#e8e8e8" stroke-width="2.9" />
<line x1="446.20" y1="1480.30" x2="446.20" y2="1857.50" stroke="#f0f0f0" stroke-width="1.6" />
<line x1="199.60" y1="1595.68" x2="551.60" y2="1595.68" stroke="#f0f0f0" stroke-width="1.6" />
<line x1="481.00" y1="1480.30" x2="481.00" y2="1857.50" stroke="#e8e8e8" stroke-width="2.9" />
<line x1="199.60" y1="1558.42" x2="551.60" y2="1558.42" stroke="#e8e8e8" stroke-width="2.9" />
<line x1="515.80" y1="1480.30" x2="515.80" y2="1857.50" stroke="#f0f0f0" stroke-width="1.6" />
<line x1="199.60" y1="1521.16" x2="551.60" y2="1521.16" stroke="#f0f0f0" stroke-width="1.6" />
<line x1="550.60" y1="1480.30" x2="550.60" y2="1857.50" stroke="#e8e8e8" stroke-width="2.9" />
<line x1="199.60" y1="1483.90" x2="551.60" y2="1483.90" stroke="#e8e8e8" stroke-width="2.9" />
<polygon points="202.60,1856.50 202.60,1777.05 216.52,1777.05 216.52,1710.18 230.44,1710.18 230.44,1682.52 244.36,1682.52 244.36,1671.46 258.28,1671.46 258.28,1612.63 272.20,1612.63 272.20,1609.11 286.12,1609.11 286.12,1567.37 300.04,1567.37 300.04,1556.81 313.96,1556.81 313.96,1539.71 355.72,1539.71 355.72,1536.19 369.64,1536.19 369.64,1525.64 397.48,1525.64 397.48,1515.08 411.40,1515.08 411.40,1501.00 453.16,1501.00 453.16,1490.94 467.08,1490.94 467.08,1487.42 481.00,1487.42 481.00,1483.90 550.60,1483.90 550.60,1856.50 202.60,1856.50" fill="#4AAFC9" fill-opacity="0.105" stroke="none"/>
<line x1="202.60" y1="1856.50" x2="550.60" y2="1483.90" stroke="#747b7b" stroke-width="2.4" stroke-dasharray="9.4,8.2"/>
<polyline points="202.60,1856.50 202.60,1777.05 216.52,1777.05 216.52,1710.18 230.44,1710.18 230.44,1682.52 244.36,1682.52 244.36,1671.46 258.28,1671.46 258.28,1612.63 272.20,1612.63 272.20,1609.11 286.12,1609.11 286.12,1567.37 300.04,1567.37 300.04,1556.81 313.96,1556.81 313.96,1539.71 355.72,1539.71 355.72,1536.19 369.64,1536.19 369.64,1525.64 397.48,1525.64 397.48,1515.08 411.40,1515.08 411.40,1501.00 453.16,1501.00 453.16,1490.94 467.08,1490.94 467.08,1487.42 481.00,1487.42 481.00,1483.90 550.60,1483.90" stroke="#4AAFC9" stroke-width="2.2" fill="none" stroke-linejoin="miter"/>
<rect x="199.60" y="1480.30" width="352.00" height="377.20" fill="none" stroke="#000" stroke-width="2.2" />
<line x1="191.00" y1="1856.50" x2="199.60" y2="1856.50" stroke="#000" stroke-width="2.2" />
<line x1="202.60" y1="1857.50" x2="202.60" y2="1866.10" stroke="#000" stroke-width="2.2" />
<text transform="translate(156.57,1863.43) scale(1.0000,1)" font-size="19.80" font-family="Liberation Sans" fill="#000">0.0</text>
<text transform="translate(188.84,1888.80) scale(1.0000,1)" font-size="19.80" font-family="Liberation Sans" fill="#000">0.0</text>
<line x1="191.00" y1="1781.98" x2="199.60" y2="1781.98" stroke="#000" stroke-width="2.2" />
<line x1="272.20" y1="1857.50" x2="272.20" y2="1866.10" stroke="#000" stroke-width="2.2" />
<text transform="translate(156.77,1788.91) scale(1.0000,1)" font-size="19.80" font-family="Liberation Sans" fill="#000">0.2</text>
<text transform="translate(258.54,1888.80) scale(1.0000,1)" font-size="19.80" font-family="Liberation Sans" fill="#000">0.2</text>
<line x1="191.00" y1="1707.46" x2="199.60" y2="1707.46" stroke="#000" stroke-width="2.2" />
<line x1="341.80" y1="1857.50" x2="341.80" y2="1866.10" stroke="#000" stroke-width="2.2" />
<text transform="translate(156.37,1714.39) scale(1.0000,1)" font-size="19.80" font-family="Liberation Sans" fill="#000">0.4</text>
<text transform="translate(327.94,1888.80) scale(1.0000,1)" font-size="19.80" font-family="Liberation Sans" fill="#000">0.4</text>
<line x1="191.00" y1="1632.94" x2="199.60" y2="1632.94" stroke="#000" stroke-width="2.2" />
<line x1="411.40" y1="1857.50" x2="411.40" y2="1866.10" stroke="#000" stroke-width="2.2" />
<text transform="translate(156.77,1639.87) scale(1.0000,1)" font-size="19.80" font-family="Liberation Sans" fill="#000">0.6</text>
<text transform="translate(397.74,1888.80) scale(1.0000,1)" font-size="19.80" font-family="Liberation Sans" fill="#000">0.6</text>
<line x1="191.00" y1="1558.42" x2="199.60" y2="1558.42" stroke="#000" stroke-width="2.2" />
<line x1="481.00" y1="1857.50" x2="481.00" y2="1866.10" stroke="#000" stroke-width="2.2" />
<text transform="translate(156.77,1565.35) scale(1.0000,1)" font-size="19.80" font-family="Liberation Sans" fill="#000">0.8</text>
<text transform="translate(467.34,1888.80) scale(1.0000,1)" font-size="19.80" font-family="Liberation Sans" fill="#000">0.8</text>
<line x1="191.00" y1="1483.90" x2="199.60" y2="1483.90" stroke="#000" stroke-width="2.2" />
<line x1="550.60" y1="1857.50" x2="550.60" y2="1866.10" stroke="#000" stroke-width="2.2" />
<text transform="translate(156.57,1490.83) scale(1.0000,1)" font-size="19.80" font-family="Liberation Sans" fill="#000">1.0</text>
<text transform="translate(536.44,1888.80) scale(1.0000,1)" font-size="19.80" font-family="Liberation Sans" fill="#000">1.0</text>
<text transform="translate(143.14,1752.03) rotate(-90) scale(0.9952,1)" font-size="22.69" font-family="Liberation Sans" fill="#000">Sensitivity (TPR)</text>
<text transform="translate(279.30,1915.08) scale(1.0012,1)" font-size="22.47" font-family="Liberation Sans" fill="#000">1−Specificity (FPR)</text>
<text transform="translate(449.90,1794.70) scale(1.0000,1)" font-size="19.00" font-family="Liberation Sans" fill="#000">nomoscore</text>
<text transform="translate(445.72,1822.00) scale(1.0000,1)" font-size="19.00" font-family="Liberation Sans" fill="#000">AUC: 0.816</text>
<text transform="translate(408.10,1849.20) scale(1.0000,1)" font-size="19.00" font-family="Liberation Sans" fill="#000">CI: 0.723−0.909</text>
<line x1="95.00" y1="827.70" x2="1158.00" y2="827.70" stroke="#5252E0" stroke-width="1.4" />
<text stroke="#2424C4" stroke-width="0.3" transform="translate(109.98,821.00) scale(1.0000,1)" font-size="8.60" font-family="Liberation Sans" fill="#2424C4">All</text>
<text stroke="#2424C4" stroke-width="0.3" transform="translate(175.59,821.00) scale(1.0000,1)" font-size="8.60" font-family="Liberation Sans" fill="#2424C4">None</text>
<text stroke="#2424C4" stroke-width="0.3" transform="translate(135.77,811.20) scale(1.0000,1)" font-size="8.60" font-family="Liberation Sans" fill="#2424C4">Select</text>
<text stroke="#2424C4" stroke-width="0.3" transform="translate(400.34,820.30) scale(1.0000,1)" font-size="8.60" font-family="Liberation Sans" fill="#2424C4">no plot</text>
<text stroke="#2424C4" stroke-width="0.3" transform="translate(465.80,820.30) scale(1.0000,1)" font-size="8.60" font-family="Liberation Sans" fill="#2424C4">density</text>
<text stroke="#2424C4" stroke-width="0.3" transform="translate(534.63,820.30) scale(1.0000,1)" font-size="8.60" font-family="Liberation Sans" fill="#2424C4">boxes</text>
<text stroke="#2424C4" stroke-width="0.3" transform="translate(600.47,820.30) scale(1.0000,1)" font-size="8.60" font-family="Liberation Sans" fill="#2424C4">spikes</text>
<text stroke="#2424C4" stroke-width="0.3" transform="translate(661.94,810.00) scale(1.0000,1)" font-size="8.60" font-family="Liberation Sans" fill="#2424C4">Plot type</text>
<text stroke="#2424C4" stroke-width="0.3" transform="translate(664.60,820.30) scale(1.0000,1)" font-size="8.60" font-family="Liberation Sans" fill="#2424C4">boxplot</text>
<text stroke="#2424C4" stroke-width="0.3" transform="translate(737.00,820.30) scale(1.0000,1)" font-size="8.60" font-family="Liberation Sans" fill="#2424C4">ecdf</text>
<text stroke="#2424C4" stroke-width="0.3" transform="translate(803.33,820.30) scale(1.0000,1)" font-size="8.60" font-family="Liberation Sans" fill="#2424C4">bars</text>
<text stroke="#2424C4" stroke-width="0.3" transform="translate(868.65,820.30) scale(1.0000,1)" font-size="8.60" font-family="Liberation Sans" fill="#2424C4">violin</text>
<text stroke="#2424C4" stroke-width="0.3" transform="translate(934.85,820.30) scale(1.0000,1)" font-size="8.60" font-family="Liberation Sans" fill="#2424C4">bean</text>
<text transform="translate(1099.00,822.20) scale(1.0000,1)" font-size="11.20" font-family="Liberation Sans" fill="#2424C4" font-weight="bold">ESC</text>
<text transform="translate(605.01,857.74) scale(1.0133,1)" font-size="14.09" font-family="Liberation Sans" fill="#000" font-weight="bold" font-style="italic">Prediction Nomogram</text>
<text transform="translate(116.74,872.67) scale(0.9373,1)" font-size="12.74" font-family="Liberation Sans" fill="#000" font-style="italic">Points</text>
<text transform="translate(116.44,928.27) scale(0.9976,1)" font-size="13.24" font-family="Liberation Sans" fill="#000">MSH2</text>
<text transform="translate(116.44,1010.87) scale(1.0093,1)" font-size="13.10" font-family="Liberation Sans" fill="#000">HDAC5</text>
<text transform="translate(116.44,1093.80) scale(0.9991,1)" font-size="13.29" font-family="Liberation Sans" fill="#000">E2F1</text>
<text transform="translate(116.35,1176.47) scale(1.0010,1)" font-size="12.96" font-family="Liberation Sans" fill="#000">GATA3</text>
<text transform="translate(116.68,1251.11) scale(1.0250,1)" font-size="12.80" font-family="Liberation Sans" fill="#000" font-weight="bold" font-style="italic">Total points</text>
<rect x="90.60" y="930.80" width="9.00" height="9.00" fill="none" stroke="#3535D5" stroke-width="1.2" />
<rect x="90.60" y="1013.60" width="9.00" height="9.00" fill="none" stroke="#3535D5" stroke-width="1.2" />
<rect x="90.60" y="1096.40" width="9.00" height="9.00" fill="none" stroke="#3535D5" stroke-width="1.2" />
<rect x="90.60" y="1179.30" width="9.00" height="9.00" fill="none" stroke="#3535D5" stroke-width="1.2" />
<rect x="90.60" y="1319.90" width="9.00" height="9.00" fill="none" stroke="#3535D5" stroke-width="1.2" />
<polygon points="447.6,952.0 448.1,952.0 448.8,950.6 449.7,950.1 450.6,949.6 451.6,949.1 452.4,948.8 453.3,948.5 454.1,948.2 454.9,948.0 455.7,947.9 456.5,947.8 457.3,947.8 458.1,947.9 459.0,948.2 459.8,948.5 460.7,948.8 461.5,949.1 462.2,949.4 462.8,949.7 463.4,950.1 463.9,950.5 464.4,950.8 464.9,952.0 465.4,952.0 466.0,952.0 466.5,950.5 467.0,950.1 467.5,949.6 468.1,949.1 468.7,948.8 469.3,948.5 469.9,948.3 470.5,948.0 471.2,947.9 471.9,947.8 472.6,947.8 473.3,947.9 474.0,948.1 474.8,948.4 475.5,948.8 476.2,949.1 476.8,949.4 477.3,949.8 477.8,950.1 478.2,950.5 478.5,952.0 478.8,952.0 479.0,952.0 479.0,952.0 447.6,952.0" fill="#ebebeb" stroke="none"/>
<polygon points="528.7,952.0 529.0,952.0 529.5,950.7 530.0,950.3 530.6,949.9 531.3,949.4 531.9,949.1 532.6,948.8 533.2,948.5 533.9,948.2 534.7,948.0 535.4,947.8 536.1,947.8 536.9,947.9 537.7,948.2 538.5,948.5 539.3,948.8 540.0,949.2 540.7,949.4 541.3,949.7 541.8,949.9 542.3,950.2 542.8,950.3 543.3,950.4 543.9,950.4 544.6,950.2 545.3,949.8 546.0,949.3 546.7,948.8 547.4,948.4 548.1,948.1 548.8,948.1 549.5,948.1 550.2,948.2 550.8,948.4 551.4,948.6 552.0,948.8 552.6,949.1 553.0,949.6 553.5,950.2 553.9,950.6 554.4,952.0 555.0,950.7 555.5,950.2 556.2,949.3 556.8,948.2 557.5,947.0 558.2,945.8 558.8,944.9 559.6,944.1 560.3,943.2 561.1,942.5 561.9,941.8 562.6,941.3 563.4,941.0 564.1,940.9 564.8,941.1 565.5,941.5 566.2,941.9 566.9,942.3 567.6,942.6 568.4,942.8 569.2,943.0 570.0,943.2 570.8,943.4 571.7,943.5 572.5,943.6 573.3,943.6 574.1,943.6 574.9,943.6 575.7,943.5 576.5,943.5 577.3,943.6 578.2,943.8 579.0,944.0 579.8,944.3 580.7,944.6 581.5,944.8 582.2,944.9 582.9,944.8 583.6,944.7 584.2,944.4 584.8,944.2 585.4,943.9 586.1,943.6 586.8,943.3 587.5,942.9 588.1,942.4 588.9,942.1 589.6,941.8 590.3,941.6 591.1,941.7 591.9,941.8 592.7,942.0 593.5,942.3 594.4,942.6 595.2,942.9 596.0,943.3 596.8,943.8 597.6,944.3 598.4,944.8 599.2,945.2 600.0,945.5 600.9,945.8 601.7,946.0 602.5,946.1 603.4,946.2 604.2,946.2 604.9,946.2 605.6,946.1 606.2,946.0 606.8,945.8 607.5,945.5 608.1,945.2 608.8,944.9 609.6,944.4 610.5,943.8 611.4,943.1 612.3,942.4 613.2,941.9 614.0,941.6 614.8,941.6 615.6,941.9 616.3,942.2 617.1,942.6 617.8,943.0 618.5,943.3 619.3,943.4 620.0,943.6 620.8,943.7 621.5,943.8 622.2,943.8 622.8,943.6 623.3,943.3 623.7,943.0 624.1,942.6 624.5,942.0 624.9,941.2 625.4,940.0 625.9,938.3 626.6,936.0 627.2,933.5 627.9,931.0 628.6,928.7 629.2,927.0 629.9,925.9 630.6,925.0 631.2,924.4 631.9,924.0 632.5,923.8 633.1,923.8 633.7,923.8 634.3,924.0 634.9,924.4 635.4,925.0 636.0,925.9 636.7,927.0 637.5,928.8 638.3,931.1 639.2,933.7 640.1,936.2 640.9,938.4 641.6,940.0 642.1,941.0 642.5,941.6 642.8,941.9 643.1,941.9 643.4,941.5 643.8,941.0 644.4,940.1 645.0,938.7 645.7,937.1 646.4,935.4 647.1,933.6 647.7,931.9 648.4,930.2 649.1,928.2 649.8,926.2 650.5,924.4 651.2,923.0 652.0,922.2 652.6,922.1 653.3,922.6 654.0,923.5 654.7,924.6 655.4,925.9 656.2,927.0 657.0,928.4 657.9,930.1 658.8,931.9 659.7,933.6 660.7,934.7 661.7,935.2 662.7,934.6 663.8,933.3 664.9,931.6 666.0,929.6 667.1,927.8 668.2,926.4 669.3,925.3 670.4,924.2 671.5,923.3 672.6,922.5 673.7,921.9 674.7,921.5 675.6,921.4 676.4,921.5 677.3,921.8 678.0,922.3 678.8,923.0 679.5,923.8 680.2,924.8 680.9,926.2 681.6,927.7 682.2,929.2 682.8,930.7 683.4,931.9 684.0,933.2 684.5,934.7 684.9,936.2 685.4,937.2 686.0,937.5 686.7,936.8 687.5,934.5 688.5,930.9 689.5,926.5 690.6,922.1 691.6,918.2 692.5,915.7 693.3,914.5 693.9,914.1 694.6,914.4 695.1,915.0 695.8,915.7 696.4,916.3 697.1,917.1 697.8,918.3 698.5,919.6 699.2,920.8 699.9,921.5 700.6,921.5 701.3,920.6 702.0,919.0 702.7,917.0 703.5,914.8 704.1,912.6 704.8,910.8 705.5,909.2 706.1,907.5 706.8,905.9 707.4,904.5 708.1,903.4 708.7,902.7 709.4,902.4 710.1,902.5 710.8,902.9 711.6,903.5 712.3,904.3 712.9,905.3 713.6,906.6 714.3,908.2 714.9,910.0 715.5,912.0 716.2,913.9 716.8,915.7 717.5,917.5 718.2,919.5 718.9,921.5 719.7,923.3 720.4,924.6 721.1,925.4 721.7,925.5 722.4,924.9 723.0,924.0 723.7,922.8 724.3,921.6 724.9,920.6 725.6,919.4 726.2,918.1 726.9,916.7 727.5,915.4 728.2,914.5 728.8,914.1 729.5,914.3 730.2,915.0 730.9,916.0 731.6,917.1 732.3,918.2 733.1,918.9 733.8,919.4 734.6,919.9 735.5,920.2 736.3,920.5 737.1,920.6 737.9,920.6 738.8,920.2 739.6,919.6 740.5,918.8 741.3,918.1 742.1,917.5 742.8,917.3 743.4,917.4 744.0,917.7 744.5,918.2 744.9,918.9 745.5,919.7 746.0,920.6 746.7,921.6 747.4,922.8 748.1,924.1 748.8,925.5 749.6,927.1 750.3,928.7 750.9,930.4 751.5,932.4 752.2,934.4 752.8,936.5 753.4,938.4 754.1,940.0 754.9,941.4 755.7,942.7 756.5,943.8 757.3,944.8 758.2,945.7 759.0,946.5 759.9,947.2 760.8,947.8 761.7,948.2 762.6,948.6 763.5,948.9 764.5,949.1 765.6,949.2 766.7,949.1 767.9,948.9 769.0,948.7 770.1,948.5 771.0,948.5 771.9,948.5 772.6,948.6 773.3,948.8 774.0,949.0 774.6,949.2 775.2,949.4 775.9,949.7 776.6,950.1 777.3,950.5 777.9,952.0 778.4,952.0 778.8,952.0 778.8,952.0 528.7,952.0" fill="#ebebeb" stroke="none"/>
<path d="M447.6,952.0L448.1,952.0L448.8,950.6L449.7,950.1L450.6,949.6L451.6,949.1L452.4,948.8L453.3,948.5L454.1,948.2L454.9,948.0L455.7,947.9L456.5,947.8L457.3,947.8L458.1,947.9L459.0,948.2L459.8,948.5L460.7,948.8L461.5,949.1L462.2,949.4L462.8,949.7L463.4,950.1L463.9,950.5L464.4,950.8L464.9,952.0M466.0,952.0L466.5,950.5L467.0,950.1L467.5,949.6L468.1,949.1L468.7,948.8L469.3,948.5L469.9,948.3L470.5,948.0L471.2,947.9L471.9,947.8L472.6,947.8L473.3,947.9L474.0,948.1L474.8,948.4L475.5,948.8L476.2,949.1L476.8,949.4L477.3,949.8L477.8,950.1L478.2,950.5L478.5,952.0M529.0,952.0L529.5,950.7L530.0,950.3L530.6,949.9L531.3,949.4L531.9,949.1L532.6,948.8L533.2,948.5L533.9,948.2L534.7,948.0L535.4,947.8L536.1,947.8L536.9,947.9L537.7,948.2L538.5,948.5L539.3,948.8L540.0,949.2L540.7,949.4L541.3,949.7L541.8,949.9L542.3,950.2L542.8,950.3L543.3,950.4L543.9,950.4L544.6,950.2L545.3,949.8L546.0,949.3L546.7,948.8L547.4,948.4L548.1,948.1L548.8,948.1L549.5,948.1L550.2,948.2L550.8,948.4L551.4,948.6L552.0,948.8L552.6,949.1L553.0,949.6L553.5,950.2L553.9,950.6L554.4,952.0L555.0,950.7L555.5,950.2L556.2,949.3L556.8,948.2L557.5,947.0L558.2,945.8L558.8,944.9L559.6,944.1L560.3,943.2L561.1,942.5L561.9,941.8L562.6,941.3L563.4,941.0L564.1,940.9L564.8,941.1L565.5,941.5L566.2,941.9L566.9,942.3L567.6,942.6L568.4,942.8L569.2,943.0L570.0,943.2L570.8,943.4L571.7,943.5L572.5,943.6L573.3,943.6L574.1,943.6L574.9,943.6L575.7,943.5L576.5,943.5L577.3,943.6L578.2,943.8L579.0,944.0L579.8,944.3L580.7,944.6L581.5,944.8L582.2,944.9L582.9,944.8L583.6,944.7L584.2,944.4L584.8,944.2L585.4,943.9L586.1,943.6L586.8,943.3L587.5,942.9L588.1,942.4L588.9,942.1L589.6,941.8L590.3,941.6L591.1,941.7L591.9,941.8L592.7,942.0L593.5,942.3L594.4,942.6L595.2,942.9L596.0,943.3L596.8,943.8L597.6,944.3L598.4,944.8L599.2,945.2L600.0,945.5L600.9,945.8L601.7,946.0L602.5,946.1L603.4,946.2L604.2,946.2L604.9,946.2L605.6,946.1L606.2,946.0L606.8,945.8L607.5,945.5L608.1,945.2L608.8,944.9L609.6,944.4L610.5,943.8L611.4,943.1L612.3,942.4L613.2,941.9L614.0,941.6L614.8,941.6L615.6,941.9L616.3,942.2L617.1,942.6L617.8,943.0L618.5,943.3L619.3,943.4L620.0,943.6L620.8,943.7L621.5,943.8L622.2,943.8L622.8,943.6L623.3,943.3L623.7,943.0L624.1,942.6L624.5,942.0L624.9,941.2L625.4,940.0L625.9,938.3L626.6,936.0L627.2,933.5L627.9,931.0L628.6,928.7L629.2,927.0L629.9,925.9L630.6,925.0L631.2,924.4L631.9,924.0L632.5,923.8L633.1,923.8L633.7,923.8L634.3,924.0L634.9,924.4L635.4,925.0L636.0,925.9L636.7,927.0L637.5,928.8L638.3,931.1L639.2,933.7L640.1,936.2L640.9,938.4L641.6,940.0L642.1,941.0L642.5,941.6L642.8,941.9L643.1,941.9L643.4,941.5L643.8,941.0L644.4,940.1L645.0,938.7L645.7,937.1L646.4,935.4L647.1,933.6L647.7,931.9L648.4,930.2L649.1,928.2L649.8,926.2L650.5,924.4L651.2,923.0L652.0,922.2L652.6,922.1L653.3,922.6L654.0,923.5L654.7,924.6L655.4,925.9L656.2,927.0L657.0,928.4L657.9,930.1L658.8,931.9L659.7,933.6L660.7,934.7L661.7,935.2L662.7,934.6L663.8,933.3L664.9,931.6L666.0,929.6L667.1,927.8L668.2,926.4L669.3,925.3L670.4,924.2L671.5,923.3L672.6,922.5L673.7,921.9L674.7,921.5L675.6,921.4L676.4,921.5L677.3,921.8L678.0,922.3L678.8,923.0L679.5,923.8L680.2,924.8L680.9,926.2L681.6,927.7L682.2,929.2L682.8,930.7L683.4,931.9L684.0,933.2L684.5,934.7L684.9,936.2L685.4,937.2L686.0,937.5L686.7,936.8L687.5,934.5L688.5,930.9L689.5,926.5L690.6,922.1L691.6,918.2L692.5,915.7L693.3,914.5L693.9,914.1L694.6,914.4L695.1,915.0L695.8,915.7L696.4,916.3L697.1,917.1L697.8,918.3L698.5,919.6L699.2,920.8L699.9,921.5L700.6,921.5L701.3,920.6L702.0,919.0L702.7,917.0L703.5,914.8L704.1,912.6L704.8,910.8L705.5,909.2L706.1,907.5L706.8,905.9L707.4,904.5L708.1,903.4L708.7,902.7L709.4,902.4L710.1,902.5L710.8,902.9L711.6,903.5L712.3,904.3L712.9,905.3L713.6,906.6L714.3,908.2L714.9,910.0L715.5,912.0L716.2,913.9L716.8,915.7L717.5,917.5L718.2,919.5L718.9,921.5L719.7,923.3L720.4,924.6L721.1,925.4L721.7,925.5L722.4,924.9L723.0,924.0L723.7,922.8L724.3,921.6L724.9,920.6L725.6,919.4L726.2,918.1L726.9,916.7L727.5,915.4L728.2,914.5L728.8,914.1L729.5,914.3L730.2,915.0L730.9,916.0L731.6,917.1L732.3,918.2L733.1,918.9L733.8,919.4L734.6,919.9L735.5,920.2L736.3,920.5L737.1,920.6L737.9,920.6L738.8,920.2L739.6,919.6L740.5,918.8L741.3,918.1L742.1,917.5L742.8,917.3L743.4,917.4L744.0,917.7L744.5,918.2L744.9,918.9L745.5,919.7L746.0,920.6L746.7,921.6L747.4,922.8L748.1,924.1L748.8,925.5L749.6,927.1L750.3,928.7L750.9,930.4L751.5,932.4L752.2,934.4L752.8,936.5L753.4,938.4L754.1,940.0L754.9,941.4L755.7,942.7L756.5,943.8L757.3,944.8L758.2,945.7L759.0,946.5L759.9,947.2L760.8,947.8L761.7,948.2L762.6,948.6L763.5,948.9L764.5,949.1L765.6,949.2L766.7,949.1L767.9,948.9L769.0,948.7L770.1,948.5L771.0,948.5L771.9,948.5L772.6,948.6L773.3,948.8L774.0,949.0L774.6,949.2L775.2,949.4L775.9,949.7L776.6,950.1L777.3,950.5L777.9,952.0" fill="none" stroke="#3434D2" stroke-width="1.15" stroke-linejoin="round"/>
<polygon points="301.9,1034.8 302.5,1034.8 303.4,1034.8 304.4,1033.2 305.6,1032.6 306.7,1032.1 307.7,1031.7 308.8,1031.4 309.8,1031.2 310.8,1031.0 311.8,1030.8 312.9,1030.7 313.9,1030.7 314.9,1030.7 316.0,1030.8 317.0,1031.0 318.0,1031.2 319.0,1031.4 320.1,1031.7 321.2,1032.1 322.4,1032.6 323.5,1033.2 324.6,1034.8 325.6,1034.8 326.2,1034.8 326.2,1034.8 301.9,1034.8" fill="#ebebeb" stroke="none"/>
<polygon points="451.1,1034.8 452.2,1034.8 453.6,1034.8 455.3,1033.3 457.0,1032.7 458.8,1032.2 460.2,1031.7 461.5,1031.3 462.6,1030.9 463.7,1030.5 464.7,1030.1 465.7,1029.7 466.7,1029.4 467.7,1029.1 468.6,1028.8 469.6,1028.6 470.5,1028.3 471.4,1028.2 472.2,1028.1 473.1,1028.2 473.9,1028.3 474.6,1028.5 475.4,1028.8 476.2,1029.1 477.1,1029.4 478.0,1029.8 479.0,1030.3 480.0,1030.8 481.0,1031.4 482.0,1031.9 482.9,1032.3 483.9,1032.8 484.8,1033.2 485.7,1034.8 486.7,1034.8 487.6,1034.8 488.4,1034.8 489.3,1034.8 490.1,1034.8 490.9,1033.5 491.6,1033.1 492.4,1032.6 493.3,1032.0 494.2,1031.4 495.1,1030.7 496.0,1030.0 496.9,1029.3 498.0,1028.5 499.1,1027.8 500.4,1027.1 501.8,1026.3 503.3,1025.5 504.8,1024.8 506.4,1024.3 507.9,1023.9 509.5,1023.8 511.1,1023.9 512.8,1024.1 514.5,1024.5 516.1,1024.8 517.6,1025.2 519.1,1025.6 520.5,1026.0 521.8,1026.5 523.1,1027.1 524.4,1027.6 525.8,1028.1 527.1,1028.7 528.6,1029.4 530.0,1030.0 531.4,1030.6 532.7,1031.1 533.9,1031.4 534.9,1031.4 535.7,1031.2 536.5,1030.9 537.2,1030.5 538.0,1030.1 538.7,1029.7 539.5,1029.5 540.3,1029.2 541.2,1029.0 542.0,1028.7 542.8,1028.3 543.6,1027.8 544.4,1027.2 545.3,1026.4 546.1,1025.6 546.9,1024.7 547.7,1023.9 548.5,1023.3 549.2,1022.7 549.8,1022.2 550.4,1021.7 551.1,1021.3 551.7,1021.1 552.4,1021.0 553.0,1021.1 553.7,1021.3 554.4,1021.7 555.1,1022.1 555.8,1022.6 556.6,1022.9 557.4,1023.3 558.2,1023.6 559.1,1023.9 560.1,1024.2 561.0,1024.5 562.1,1024.9 563.2,1025.3 564.5,1025.8 565.9,1026.3 567.2,1026.7 568.4,1027.0 569.5,1027.2 570.5,1027.1 571.3,1026.8 572.1,1026.4 572.8,1025.9 573.6,1025.4 574.4,1024.9 575.3,1024.3 576.3,1023.6 577.3,1022.9 578.3,1022.2 579.3,1021.5 580.3,1021.0 581.2,1020.6 582.2,1020.4 583.1,1020.3 584.0,1020.1 584.9,1019.7 585.8,1019.0 586.5,1018.1 587.3,1016.8 587.9,1015.4 588.6,1013.9 589.3,1012.5 590.0,1011.3 590.7,1010.1 591.4,1008.9 592.2,1007.8 592.9,1006.8 593.7,1006.1 594.5,1005.7 595.5,1005.8 596.5,1006.3 597.6,1007.0 598.6,1007.8 599.6,1008.6 600.4,1009.3 600.9,1009.7 601.1,1010.0 601.3,1010.3 601.5,1010.7 601.8,1011.3 602.4,1012.3 603.3,1014.0 604.5,1016.2 605.8,1018.7 607.1,1021.0 608.5,1022.9 609.7,1023.7 610.9,1023.5 612.2,1022.5 613.4,1020.9 614.6,1019.1 615.8,1017.3 617.0,1016.0 618.3,1015.0 619.5,1014.1 620.8,1013.2 622.0,1012.5 623.2,1011.8 624.3,1011.1 625.4,1010.4 626.4,1009.6 627.4,1008.9 628.4,1008.4 629.4,1008.0 630.4,1007.9 631.4,1008.2 632.4,1008.8 633.4,1009.6 634.4,1010.5 635.4,1011.4 636.5,1012.3 637.6,1013.4 638.7,1014.7 639.8,1016.0 640.9,1017.2 642.1,1017.9 643.3,1017.9 644.6,1017.1 645.9,1015.6 647.2,1013.6 648.5,1011.4 649.8,1009.3 651.1,1007.4 652.4,1005.6 653.6,1003.7 654.9,1001.7 656.1,1000.0 657.3,998.8 658.4,998.2 659.5,998.4 660.5,999.2 661.5,1000.4 662.5,1001.9 663.5,1003.5 664.5,1005.0 665.5,1006.6 666.5,1008.4 667.4,1010.3 668.4,1012.2 669.5,1013.7 670.6,1014.7 671.7,1015.3 672.9,1015.5 674.1,1015.4 675.4,1015.1 676.6,1014.6 677.9,1014.0 679.1,1013.3 680.3,1012.4 681.6,1011.3 682.8,1010.1 684.0,1008.8 685.2,1007.4 686.2,1006.0 687.3,1004.4 688.3,1002.8 689.3,1001.1 690.2,999.4 691.2,997.7 692.3,996.0 693.3,994.2 694.3,992.4 695.3,990.7 696.3,989.2 697.3,988.0 698.4,987.2 699.4,986.6 700.4,986.3 701.5,986.1 702.5,986.0 703.4,985.8 704.3,985.6 705.1,985.3 705.8,985.2 706.6,985.0 707.4,985.0 708.3,985.1 709.2,985.2 710.2,985.5 711.2,985.8 712.2,986.3 713.3,986.7 714.4,987.3 715.5,987.8 716.7,988.4 717.9,989.0 719.2,989.7 720.4,990.6 721.7,991.6 722.9,993.0 724.1,994.6 725.3,996.3 726.5,998.1 727.7,999.8 729.0,1001.4 730.2,1002.7 731.4,1004.0 732.7,1005.2 733.9,1006.4 735.1,1007.5 736.3,1008.7 737.3,1009.9 738.4,1011.3 739.4,1012.7 740.4,1014.0 741.3,1014.8 742.3,1015.2 743.3,1015.0 744.3,1014.1 745.3,1013.0 746.3,1011.7 747.3,1010.6 748.4,1009.9 749.6,1009.5 750.8,1009.4 752.1,1009.4 753.3,1009.5 754.6,1009.6 755.7,1009.6 756.8,1009.6 757.9,1009.5 758.9,1009.4 759.9,1009.3 760.9,1009.3 761.8,1009.4 762.7,1009.6 763.5,1010.0 764.2,1010.5 765.0,1010.9 765.8,1011.1 766.7,1011.1 767.6,1010.7 768.6,1009.9 769.7,1009.0 770.8,1008.0 771.8,1007.3 772.7,1007.0 773.6,1007.0 774.5,1007.4 775.3,1008.0 776.0,1008.6 776.8,1009.3 777.6,1009.9 778.4,1010.4 779.2,1011.1 780.0,1011.7 780.9,1012.3 781.7,1012.8 782.5,1013.0 783.3,1013.1 784.0,1012.9 784.8,1012.5 785.5,1012.2 786.4,1011.8 787.3,1011.6 788.4,1011.4 789.5,1011.1 790.7,1010.9 791.9,1010.7 793.3,1010.8 794.6,1011.1 796.1,1011.7 797.7,1012.5 799.4,1013.6 801.0,1014.7 802.7,1016.0 804.4,1017.4 806.0,1019.0 807.8,1021.0 809.5,1023.0 811.1,1025.0 812.7,1026.8 814.1,1028.1 815.3,1029.0 816.4,1029.6 817.3,1030.0 818.2,1030.2 819.2,1030.3 820.2,1030.6 821.3,1030.8 822.5,1030.9 823.7,1030.9 824.9,1031.0 826.2,1031.1 827.5,1031.3 828.9,1031.6 830.4,1032.0 832.0,1032.4 833.5,1032.8 834.9,1033.2 836.0,1033.5 836.9,1034.8 837.7,1034.8 838.4,1034.8 838.9,1034.8 839.3,1034.8 839.7,1034.8 839.7,1034.8 451.1,1034.8" fill="#ebebeb" stroke="none"/>
<polygon points="851.8,1034.8 852.5,1034.8 853.4,1034.8 854.4,1033.4 855.6,1033.0 856.8,1032.6 857.9,1032.3 859.0,1032.0 860.2,1031.7 861.4,1031.5 862.6,1031.4 863.9,1031.3 865.2,1031.3 866.6,1031.4 868.0,1031.7 869.4,1032.0 870.9,1032.3 872.3,1032.7 873.7,1033.0 875.2,1033.3 876.7,1034.8 878.3,1034.8 879.7,1034.8 880.9,1034.8 881.8,1034.8 881.8,1034.8 851.8,1034.8" fill="#ebebeb" stroke="none"/>
<path d="M303.4,1034.8L304.4,1033.2L305.6,1032.6L306.7,1032.1L307.7,1031.7L308.8,1031.4L309.8,1031.2L310.8,1031.0L311.8,1030.8L312.9,1030.7L313.9,1030.7L314.9,1030.7L316.0,1030.8L317.0,1031.0L318.0,1031.2L319.0,1031.4L320.1,1031.7L321.2,1032.1L322.4,1032.6L323.5,1033.2L324.6,1034.8M453.6,1034.8L455.3,1033.3L457.0,1032.7L458.8,1032.2L460.2,1031.7L461.5,1031.3L462.6,1030.9L463.7,1030.5L464.7,1030.1L465.7,1029.7L466.7,1029.4L467.7,1029.1L468.6,1028.8L469.6,1028.6L470.5,1028.3L471.4,1028.2L472.2,1028.1L473.1,1028.2L473.9,1028.3L474.6,1028.5L475.4,1028.8L476.2,1029.1L477.1,1029.4L478.0,1029.8L479.0,1030.3L480.0,1030.8L481.0,1031.4L482.0,1031.9L482.9,1032.3L483.9,1032.8L484.8,1033.2L485.7,1034.8M490.1,1034.8L490.9,1033.5L491.6,1033.1L492.4,1032.6L493.3,1032.0L494.2,1031.4L495.1,1030.7L496.0,1030.0L496.9,1029.3L498.0,1028.5L499.1,1027.8L500.4,1027.1L501.8,1026.3L503.3,1025.5L504.8,1024.8L506.4,1024.3L507.9,1023.9L509.5,1023.8L511.1,1023.9L512.8,1024.1L514.5,1024.5L516.1,1024.8L517.6,1025.2L519.1,1025.6L520.5,1026.0L521.8,1026.5L523.1,1027.1L524.4,1027.6L525.8,1028.1L527.1,1028.7L528.6,1029.4L530.0,1030.0L531.4,1030.6L532.7,1031.1L533.9,1031.4L534.9,1031.4L535.7,1031.2L536.5,1030.9L537.2,1030.5L538.0,1030.1L538.7,1029.7L539.5,1029.5L540.3,1029.2L541.2,1029.0L542.0,1028.7L542.8,1028.3L543.6,1027.8L544.4,1027.2L545.3,1026.4L546.1,1025.6L546.9,1024.7L547.7,1023.9L548.5,1023.3L549.2,1022.7L549.8,1022.2L550.4,1021.7L551.1,1021.3L551.7,1021.1L552.4,1021.0L553.0,1021.1L553.7,1021.3L554.4,1021.7L555.1,1022.1L555.8,1022.6L556.6,1022.9L557.4,1023.3L558.2,1023.6L559.1,1023.9L560.1,1024.2L561.0,1024.5L562.1,1024.9L563.2,1025.3L564.5,1025.8L565.9,1026.3L567.2,1026.7L568.4,1027.0L569.5,1027.2L570.5,1027.1L571.3,1026.8L572.1,1026.4L572.8,1025.9L573.6,1025.4L574.4,1024.9L575.3,1024.3L576.3,1023.6L577.3,1022.9L578.3,1022.2L579.3,1021.5L580.3,1021.0L581.2,1020.6L582.2,1020.4L583.1,1020.3L584.0,1020.1L584.9,1019.7L585.8,1019.0L586.5,1018.1L587.3,1016.8L587.9,1015.4L588.6,1013.9L589.3,1012.5L590.0,1011.3L590.7,1010.1L591.4,1008.9L592.2,1007.8L592.9,1006.8L593.7,1006.1L594.5,1005.7L595.5,1005.8L596.5,1006.3L597.6,1007.0L598.6,1007.8L599.6,1008.6L600.4,1009.3L600.9,1009.7L601.1,1010.0L601.3,1010.3L601.5,1010.7L601.8,1011.3L602.4,1012.3L603.3,1014.0L604.5,1016.2L605.8,1018.7L607.1,1021.0L608.5,1022.9L609.7,1023.7L610.9,1023.5L612.2,1022.5L613.4,1020.9L614.6,1019.1L615.8,1017.3L617.0,1016.0L618.3,1015.0L619.5,1014.1L620.8,1013.2L622.0,1012.5L623.2,1011.8L624.3,1011.1L625.4,1010.4L626.4,1009.6L627.4,1008.9L628.4,1008.4L629.4,1008.0L630.4,1007.9L631.4,1008.2L632.4,1008.8L633.4,1009.6L634.4,1010.5L635.4,1011.4L636.5,1012.3L637.6,1013.4L638.7,1014.7L639.8,1016.0L640.9,1017.2L642.1,1017.9L643.3,1017.9L644.6,1017.1L645.9,1015.6L647.2,1013.6L648.5,1011.4L649.8,1009.3L651.1,1007.4L652.4,1005.6L653.6,1003.7L654.9,1001.7L656.1,1000.0L657.3,998.8L658.4,998.2L659.5,998.4L660.5,999.2L661.5,1000.4L662.5,1001.9L663.5,1003.5L664.5,1005.0L665.5,1006.6L666.5,1008.4L667.4,1010.3L668.4,1012.2L669.5,1013.7L670.6,1014.7L671.7,1015.3L672.9,1015.5L674.1,1015.4L675.4,1015.1L676.6,1014.6L677.9,1014.0L679.1,1013.3L680.3,1012.4L681.6,1011.3L682.8,1010.1L684.0,1008.8L685.2,1007.4L686.2,1006.0L687.3,1004.4L688.3,1002.8L689.3,1001.1L690.2,999.4L691.2,997.7L692.3,996.0L693.3,994.2L694.3,992.4L695.3,990.7L696.3,989.2L697.3,988.0L698.4,987.2L699.4,986.6L700.4,986.3L701.5,986.1L702.5,986.0L703.4,985.8L704.3,985.6L705.1,985.3L705.8,985.2L706.6,985.0L707.4,985.0L708.3,985.1L709.2,985.2L710.2,985.5L711.2,985.8L712.2,986.3L713.3,986.7L714.4,987.3L715.5,987.8L716.7,988.4L717.9,989.0L719.2,989.7L720.4,990.6L721.7,991.6L722.9,993.0L724.1,994.6L725.3,996.3L726.5,998.1L727.7,999.8L729.0,1001.4L730.2,1002.7L731.4,1004.0L732.7,1005.2L733.9,1006.4L735.1,1007.5L736.3,1008.7L737.3,1009.9L738.4,1011.3L739.4,1012.7L740.4,1014.0L741.3,1014.8L742.3,1015.2L743.3,1015.0L744.3,1014.1L745.3,1013.0L746.3,1011.7L747.3,1010.6L748.4,1009.9L749.6,1009.5L750.8,1009.4L752.1,1009.4L753.3,1009.5L754.6,1009.6L755.7,1009.6L756.8,1009.6L757.9,1009.5L758.9,1009.4L759.9,1009.3L760.9,1009.3L761.8,1009.4L762.7,1009.6L763.5,1010.0L764.2,1010.5L765.0,1010.9L765.8,1011.1L766.7,1011.1L767.6,1010.7L768.6,1009.9L769.7,1009.0L770.8,1008.0L771.8,1007.3L772.7,1007.0L773.6,1007.0L774.5,1007.4L775.3,1008.0L776.0,1008.6L776.8,1009.3L777.6,1009.9L778.4,1010.4L779.2,1011.1L780.0,1011.7L780.9,1012.3L781.7,1012.8L782.5,1013.0L783.3,1013.1L784.0,1012.9L784.8,1012.5L785.5,1012.2L786.4,1011.8L787.3,1011.6L788.4,1011.4L789.5,1011.1L790.7,1010.9L791.9,1010.7L793.3,1010.8L794.6,1011.1L796.1,1011.7L797.7,1012.5L799.4,1013.6L801.0,1014.7L802.7,1016.0L804.4,1017.4L806.0,1019.0L807.8,1021.0L809.5,1023.0L811.1,1025.0L812.7,1026.8L814.1,1028.1L815.3,1029.0L816.4,1029.6L817.3,1030.0L818.2,1030.2L819.2,1030.3L820.2,1030.6L821.3,1030.8L822.5,1030.9L823.7,1030.9L824.9,1031.0L826.2,1031.1L827.5,1031.3L828.9,1031.6L830.4,1032.0L832.0,1032.4L833.5,1032.8L834.9,1033.2L836.0,1033.5L836.9,1034.8M853.4,1034.8L854.4,1033.4L855.6,1033.0L856.8,1032.6L857.9,1032.3L859.0,1032.0L860.2,1031.7L861.4,1031.5L862.6,1031.4L863.9,1031.3L865.2,1031.3L866.6,1031.4L868.0,1031.7L869.4,1032.0L870.9,1032.3L872.3,1032.7L873.7,1033.0L875.2,1033.3L876.7,1034.8L878.3,1034.8L879.7,1034.8L880.9,1034.8L881.8,1034.8" fill="none" stroke="#3434D2" stroke-width="1.15" stroke-linejoin="round"/>
<polygon points="351.7,1117.4 352.4,1117.4 353.5,1117.4 354.6,1115.8 356.0,1115.1 357.3,1114.5 358.6,1113.9 359.9,1113.3 361.3,1112.6 362.7,1111.9 364.1,1111.3 365.5,1110.9 366.9,1110.6 368.3,1110.6 369.7,1110.9 371.1,1111.4 372.5,1111.8 373.9,1112.2 375.2,1112.3 376.4,1112.0 377.5,1111.6 378.6,1111.1 379.7,1110.5 380.8,1110.0 382.1,1109.5 383.4,1109.1 384.8,1108.6 386.3,1108.2 387.7,1107.8 389.1,1107.6 390.3,1107.6 391.4,1107.7 392.3,1108.1 393.2,1108.6 394.0,1109.2 394.9,1109.8 395.8,1110.3 396.9,1110.9 398.0,1111.5 399.2,1112.1 400.4,1112.7 401.6,1113.3 402.7,1113.9 404.0,1114.5 405.3,1115.2 406.6,1115.8 407.8,1117.4 408.9,1117.4 409.6,1117.4 409.6,1117.4 351.7,1117.4" fill="#ebebeb" stroke="none"/>
<polygon points="431.7,1117.4 432.4,1117.4 433.4,1115.9 434.6,1115.1 435.9,1114.1 437.3,1113.2 438.6,1112.3 439.9,1111.3 441.2,1110.3 442.6,1109.3 444.1,1108.3 445.5,1107.5 446.9,1107.0 448.3,1106.8 449.7,1106.9 451.2,1107.1 452.6,1107.4 453.9,1107.7 455.1,1107.8 456.2,1108.0 457.0,1108.1 457.8,1108.3 458.6,1108.4 459.5,1108.5 460.7,1108.4 462.0,1108.2 463.6,1107.8 465.2,1107.3 466.9,1106.8 468.6,1106.4 470.3,1106.2 472.0,1106.1 473.7,1106.2 475.4,1106.3 477.0,1106.5 478.6,1106.7 480.0,1107.0 481.1,1107.3 482.1,1107.7 483.0,1108.1 483.8,1108.5 484.6,1109.0 485.5,1109.5 486.4,1110.0 487.3,1110.6 488.1,1111.2 489.0,1111.8 490.0,1112.4 491.0,1113.1 492.1,1113.8 493.4,1114.6 494.8,1115.4 496.0,1116.1 497.1,1117.4 497.9,1117.4 497.9,1117.4 431.7,1117.4" fill="#ebebeb" stroke="none"/>
<polygon points="510.3,1117.4 510.9,1117.4 511.6,1117.4 512.5,1115.9 513.6,1115.4 514.7,1114.9 515.8,1114.5 517.0,1114.2 518.4,1113.9 519.8,1113.6 521.2,1113.5 522.7,1113.4 524.1,1113.4 525.5,1113.5 526.8,1113.8 528.2,1114.2 529.6,1114.6 531.0,1114.9 532.4,1115.0 533.7,1115.0 535.1,1114.9 536.4,1114.8 537.8,1114.5 539.2,1114.2 540.6,1113.9 542.2,1113.4 543.7,1112.8 545.4,1112.1 547.0,1111.5 548.7,1111.1 550.3,1110.9 551.9,1111.0 553.5,1111.4 555.1,1112.0 556.7,1112.7 558.3,1113.3 559.9,1113.9 561.7,1114.5 563.5,1115.1 565.4,1115.8 567.1,1117.4 568.5,1117.4 569.6,1117.4 569.6,1117.4 510.3,1117.4" fill="#ebebeb" stroke="none"/>
<polygon points="571.5,1117.4 571.9,1117.4 572.3,1117.4 572.9,1116.0 573.5,1115.5 574.3,1114.8 575.1,1113.9 576.0,1112.9 577.1,1111.8 578.3,1110.5 579.5,1109.2 580.7,1107.7 582.0,1106.2 583.3,1104.5 584.6,1102.5 585.9,1100.5 587.3,1098.5 588.7,1096.7 590.3,1095.2 592.0,1093.8 593.8,1092.6 595.8,1091.5 597.7,1090.7 599.6,1090.3 601.3,1090.5 602.8,1091.5 604.3,1093.5 605.6,1095.8 606.9,1098.1 608.2,1099.9 609.6,1100.7 611.0,1100.3 612.3,1099.0 613.7,1097.2 615.1,1095.2 616.5,1093.3 617.8,1091.8 619.2,1090.7 620.5,1089.5 621.8,1088.5 623.2,1087.7 624.6,1087.3 626.1,1087.4 627.8,1088.4 629.7,1090.3 631.6,1092.5 633.6,1094.7 635.4,1096.5 637.2,1097.4 638.7,1097.2 640.2,1096.5 641.6,1095.2 642.9,1093.7 644.2,1092.3 645.5,1091.0 646.8,1089.9 648.0,1088.6 649.1,1087.4 650.3,1086.3 651.4,1085.3 652.4,1084.7 653.4,1084.4 654.4,1084.5 655.3,1084.7 656.1,1085.1 657.0,1085.4 657.9,1085.5 658.8,1085.5 659.8,1085.4 660.7,1085.2 661.6,1085.1 662.5,1085.0 663.4,1085.0 664.3,1085.2 665.2,1085.6 666.1,1086.1 667.0,1086.5 668.0,1086.5 669.0,1086.1 670.0,1084.8 671.1,1082.9 672.2,1080.6 673.4,1078.4 674.6,1076.5 675.9,1075.3 677.2,1074.8 678.5,1074.7 679.9,1075.0 681.3,1075.5 682.7,1076.3 684.1,1077.2 685.5,1078.7 686.9,1080.9 688.3,1083.4 689.6,1085.6 691.0,1087.1 692.4,1087.4 693.8,1086.3 695.2,1083.9 696.5,1080.9 697.9,1077.7 699.3,1074.7 700.7,1072.5 702.0,1071.1 703.4,1070.0 704.7,1069.2 706.1,1068.7 707.5,1068.3 708.9,1068.1 710.5,1068.2 712.2,1068.7 713.9,1069.4 715.5,1070.2 717.1,1070.7 718.6,1070.9 719.9,1070.6 721.1,1069.9 722.1,1069.1 723.2,1068.3 724.3,1067.7 725.5,1067.6 726.8,1067.9 728.0,1068.3 729.4,1069.1 730.8,1070.1 732.2,1071.4 733.8,1073.1 735.5,1075.4 737.3,1078.4 739.2,1081.7 741.1,1085.0 743.0,1087.9 744.8,1090.2 746.5,1091.8 748.2,1093.1 749.9,1094.0 751.5,1094.6 753.0,1095.0 754.5,1095.2 755.7,1095.0 756.9,1094.4 758.0,1093.5 759.0,1092.6 760.1,1091.7 761.3,1091.0 762.6,1090.4 763.9,1089.7 765.2,1089.1 766.6,1088.7 768.1,1088.5 769.6,1088.8 771.3,1089.7 773.1,1091.1 775.0,1092.9 777.0,1094.7 778.9,1096.2 780.7,1097.4 782.3,1098.0 784.0,1098.5 785.6,1098.7 787.1,1098.7 788.7,1098.7 790.3,1098.5 792.0,1098.1 793.7,1097.4 795.4,1096.5 797.0,1095.7 798.6,1095.0 800.0,1094.6 801.1,1094.4 802.0,1094.3 802.8,1094.3 803.6,1094.5 804.4,1095.0 805.5,1095.7 806.7,1096.9 808.0,1098.5 809.3,1100.3 810.8,1102.2 812.3,1103.8 813.7,1105.1 815.3,1106.0 816.9,1106.6 818.6,1107.1 820.2,1107.4 821.9,1107.5 823.4,1107.6 824.9,1107.3 826.3,1106.7 827.7,1106.0 829.1,1105.3 830.4,1104.9 831.7,1104.8 832.9,1105.2 833.9,1106.0 834.9,1107.0 836.0,1108.1 837.2,1109.2 838.6,1110.3 840.3,1111.5 842.3,1112.8 844.5,1114.1 846.6,1115.4 848.3,1117.4 849.6,1117.4 849.6,1117.4 571.5,1117.4" fill="#ebebeb" stroke="none"/>
<polygon points="860.6,1117.4 861.2,1117.4 862.0,1115.8 862.9,1114.9 863.9,1113.9 865.0,1113.0 866.1,1112.3 867.3,1111.6 868.6,1111.0 869.9,1110.4 871.4,1110.0 872.8,1109.7 874.4,1109.8 876.1,1110.2 877.9,1111.0 879.8,1112.0 881.7,1113.1 883.6,1113.9 885.4,1114.5 887.3,1114.6 889.1,1114.3 891.0,1114.0 892.8,1113.6 894.6,1113.3 896.5,1113.4 898.4,1113.8 900.6,1114.4 902.7,1115.2 904.7,1116.0 906.3,1117.4 907.5,1117.4 907.5,1117.4 860.6,1117.4" fill="#ebebeb" stroke="none"/>
<polygon points="915.8,1117.4 917.0,1117.4 918.6,1115.8 920.5,1114.9 922.6,1114.0 924.8,1113.3 926.8,1113.1 928.9,1113.3 931.3,1114.0 933.7,1114.9 936.0,1115.8 937.9,1117.4 939.2,1117.4 939.2,1117.4 915.8,1117.4" fill="#ebebeb" stroke="none"/>
<path d="M353.5,1117.4L354.6,1115.8L356.0,1115.1L357.3,1114.5L358.6,1113.9L359.9,1113.3L361.3,1112.6L362.7,1111.9L364.1,1111.3L365.5,1110.9L366.9,1110.6L368.3,1110.6L369.7,1110.9L371.1,1111.4L372.5,1111.8L373.9,1112.2L375.2,1112.3L376.4,1112.0L377.5,1111.6L378.6,1111.1L379.7,1110.5L380.8,1110.0L382.1,1109.5L383.4,1109.1L384.8,1108.6L386.3,1108.2L387.7,1107.8L389.1,1107.6L390.3,1107.6L391.4,1107.7L392.3,1108.1L393.2,1108.6L394.0,1109.2L394.9,1109.8L395.8,1110.3L396.9,1110.9L398.0,1111.5L399.2,1112.1L400.4,1112.7L401.6,1113.3L402.7,1113.9L404.0,1114.5L405.3,1115.2L406.6,1115.8L407.8,1117.4M432.4,1117.4L433.4,1115.9L434.6,1115.1L435.9,1114.1L437.3,1113.2L438.6,1112.3L439.9,1111.3L441.2,1110.3L442.6,1109.3L444.1,1108.3L445.5,1107.5L446.9,1107.0L448.3,1106.8L449.7,1106.9L451.2,1107.1L452.6,1107.4L453.9,1107.7L455.1,1107.8L456.2,1108.0L457.0,1108.1L457.8,1108.3L458.6,1108.4L459.5,1108.5L460.7,1108.4L462.0,1108.2L463.6,1107.8L465.2,1107.3L466.9,1106.8L468.6,1106.4L470.3,1106.2L472.0,1106.1L473.7,1106.2L475.4,1106.3L477.0,1106.5L478.6,1106.7L480.0,1107.0L481.1,1107.3L482.1,1107.7L483.0,1108.1L483.8,1108.5L484.6,1109.0L485.5,1109.5L486.4,1110.0L487.3,1110.6L488.1,1111.2L489.0,1111.8L490.0,1112.4L491.0,1113.1L492.1,1113.8L493.4,1114.6L494.8,1115.4L496.0,1116.1L497.1,1117.4M511.6,1117.4L512.5,1115.9L513.6,1115.4L514.7,1114.9L515.8,1114.5L517.0,1114.2L518.4,1113.9L519.8,1113.6L521.2,1113.5L522.7,1113.4L524.1,1113.4L525.5,1113.5L526.8,1113.8L528.2,1114.2L529.6,1114.6L531.0,1114.9L532.4,1115.0L533.7,1115.0L535.1,1114.9L536.4,1114.8L537.8,1114.5L539.2,1114.2L540.6,1113.9L542.2,1113.4L543.7,1112.8L545.4,1112.1L547.0,1111.5L548.7,1111.1L550.3,1110.9L551.9,1111.0L553.5,1111.4L555.1,1112.0L556.7,1112.7L558.3,1113.3L559.9,1113.9L561.7,1114.5L563.5,1115.1L565.4,1115.8L567.1,1117.4M572.3,1117.4L572.9,1116.0L573.5,1115.5L574.3,1114.8L575.1,1113.9L576.0,1112.9L577.1,1111.8L578.3,1110.5L579.5,1109.2L580.7,1107.7L582.0,1106.2L583.3,1104.5L584.6,1102.5L585.9,1100.5L587.3,1098.5L588.7,1096.7L590.3,1095.2L592.0,1093.8L593.8,1092.6L595.8,1091.5L597.7,1090.7L599.6,1090.3L601.3,1090.5L602.8,1091.5L604.3,1093.5L605.6,1095.8L606.9,1098.1L608.2,1099.9L609.6,1100.7L611.0,1100.3L612.3,1099.0L613.7,1097.2L615.1,1095.2L616.5,1093.3L617.8,1091.8L619.2,1090.7L620.5,1089.5L621.8,1088.5L623.2,1087.7L624.6,1087.3L626.1,1087.4L627.8,1088.4L629.7,1090.3L631.6,1092.5L633.6,1094.7L635.4,1096.5L637.2,1097.4L638.7,1097.2L640.2,1096.5L641.6,1095.2L642.9,1093.7L644.2,1092.3L645.5,1091.0L646.8,1089.9L648.0,1088.6L649.1,1087.4L650.3,1086.3L651.4,1085.3L652.4,1084.7L653.4,1084.4L654.4,1084.5L655.3,1084.7L656.1,1085.1L657.0,1085.4L657.9,1085.5L658.8,1085.5L659.8,1085.4L660.7,1085.2L661.6,1085.1L662.5,1085.0L663.4,1085.0L664.3,1085.2L665.2,1085.6L666.1,1086.1L667.0,1086.5L668.0,1086.5L669.0,1086.1L670.0,1084.8L671.1,1082.9L672.2,1080.6L673.4,1078.4L674.6,1076.5L675.9,1075.3L677.2,1074.8L678.5,1074.7L679.9,1075.0L681.3,1075.5L682.7,1076.3L684.1,1077.2L685.5,1078.7L686.9,1080.9L688.3,1083.4L689.6,1085.6L691.0,1087.1L692.4,1087.4L693.8,1086.3L695.2,1083.9L696.5,1080.9L697.9,1077.7L699.3,1074.7L700.7,1072.5L702.0,1071.1L703.4,1070.0L704.7,1069.2L706.1,1068.7L707.5,1068.3L708.9,1068.1L710.5,1068.2L712.2,1068.7L713.9,1069.4L715.5,1070.2L717.1,1070.7L718.6,1070.9L719.9,1070.6L721.1,1069.9L722.1,1069.1L723.2,1068.3L724.3,1067.7L725.5,1067.6L726.8,1067.9L728.0,1068.3L729.4,1069.1L730.8,1070.1L732.2,1071.4L733.8,1073.1L735.5,1075.4L737.3,1078.4L739.2,1081.7L741.1,1085.0L743.0,1087.9L744.8,1090.2L746.5,1091.8L748.2,1093.1L749.9,1094.0L751.5,1094.6L753.0,1095.0L754.5,1095.2L755.7,1095.0L756.9,1094.4L758.0,1093.5L759.0,1092.6L760.1,1091.7L761.3,1091.0L762.6,1090.4L763.9,1089.7L765.2,1089.1L766.6,1088.7L768.1,1088.5L769.6,1088.8L771.3,1089.7L773.1,1091.1L775.0,1092.9L777.0,1094.7L778.9,1096.2L780.7,1097.4L782.3,1098.0L784.0,1098.5L785.6,1098.7L787.1,1098.7L788.7,1098.7L790.3,1098.5L792.0,1098.1L793.7,1097.4L795.4,1096.5L797.0,1095.7L798.6,1095.0L800.0,1094.6L801.1,1094.4L802.0,1094.3L802.8,1094.3L803.6,1094.5L804.4,1095.0L805.5,1095.7L806.7,1096.9L808.0,1098.5L809.3,1100.3L810.8,1102.2L812.3,1103.8L813.7,1105.1L815.3,1106.0L816.9,1106.6L818.6,1107.1L820.2,1107.4L821.9,1107.5L823.4,1107.6L824.9,1107.3L826.3,1106.7L827.7,1106.0L829.1,1105.3L830.4,1104.9L831.7,1104.8L832.9,1105.2L833.9,1106.0L834.9,1107.0L836.0,1108.1L837.2,1109.2L838.6,1110.3L840.3,1111.5L842.3,1112.8L844.5,1114.1L846.6,1115.4L848.3,1117.4M861.2,1117.4L862.0,1115.8L862.9,1114.9L863.9,1113.9L865.0,1113.0L866.1,1112.3L867.3,1111.6L868.6,1111.0L869.9,1110.4L871.4,1110.0L872.8,1109.7L874.4,1109.8L876.1,1110.2L877.9,1111.0L879.8,1112.0L881.7,1113.1L883.6,1113.9L885.4,1114.5L887.3,1114.6L889.1,1114.3L891.0,1114.0L892.8,1113.6L894.6,1113.3L896.5,1113.4L898.4,1113.8L900.6,1114.4L902.7,1115.2L904.7,1116.0L906.3,1117.4M917.0,1117.4L918.6,1115.8L920.5,1114.9L922.6,1114.0L924.8,1113.3L926.8,1113.1L928.9,1113.3L931.3,1114.0L933.7,1114.9L936.0,1115.8L937.9,1117.4" fill="none" stroke="#3434D2" stroke-width="1.15" stroke-linejoin="round"/>
<polygon points="357.3,1199.9 358.2,1199.9 359.4,1198.4 360.9,1197.4 362.4,1196.4 364.0,1195.6 365.4,1194.9 366.8,1194.4 368.1,1194.0 369.5,1193.7 370.8,1193.5 372.2,1193.4 373.5,1193.3 374.9,1193.2 376.2,1193.2 377.6,1193.3 378.9,1193.4 380.3,1193.6 381.6,1193.9 383.0,1194.3 384.3,1194.9 385.6,1195.5 386.9,1196.1 388.3,1196.7 389.7,1197.2 391.3,1197.4 393.0,1197.6 394.7,1197.7 396.3,1197.8 398.0,1198.0 399.5,1198.1 400.9,1198.4 402.4,1198.7 403.8,1199.9 405.1,1199.9 406.2,1199.9 406.9,1199.9 406.9,1199.9 357.3,1199.9" fill="#ebebeb" stroke="none"/>
<polygon points="412.5,1199.9 413.3,1199.9 414.5,1199.9 415.9,1198.5 417.4,1197.9 419.0,1197.5 420.6,1197.2 422.1,1197.0 423.8,1196.8 425.5,1196.8 427.2,1196.8 428.8,1196.8 430.3,1196.8 431.5,1196.9 432.6,1197.2 433.5,1197.4 434.5,1197.6 435.6,1197.6 436.8,1197.5 438.3,1197.0 439.9,1196.3 441.7,1195.5 443.4,1194.6 445.0,1193.8 446.5,1193.3 447.8,1192.9 448.9,1192.7 449.9,1192.6 450.8,1192.5 451.9,1192.5 453.0,1192.6 454.3,1192.8 455.7,1193.1 457.1,1193.4 458.5,1193.8 459.8,1194.1 461.1,1194.2 462.2,1194.3 463.2,1194.2 464.2,1194.2 465.1,1194.0 466.3,1193.7 467.6,1193.3 469.2,1192.6 471.1,1191.6 473.1,1190.6 475.1,1189.6 477.1,1188.8 479.0,1188.4 480.7,1188.5 482.3,1188.9 483.9,1189.5 485.5,1190.3 487.1,1191.0 488.7,1191.6 490.3,1192.2 491.9,1192.7 493.6,1193.3 495.2,1193.8 496.8,1194.3 498.4,1194.9 500.1,1195.5 501.8,1196.1 503.5,1196.7 505.2,1197.3 506.7,1197.8 508.2,1198.1 509.4,1198.5 510.3,1199.9 511.2,1199.9 512.1,1199.9 513.2,1199.9 514.6,1198.1 516.5,1196.6 518.7,1194.3 521.0,1191.7 523.4,1189.1 525.7,1186.8 527.6,1185.2 529.2,1184.2 530.6,1183.6 531.9,1183.4 533.1,1183.4 534.3,1183.5 535.7,1183.5 537.2,1183.7 538.8,1184.0 540.4,1184.4 542.0,1184.8 543.7,1185.1 545.5,1185.2 547.3,1184.8 549.2,1184.2 551.1,1183.5 553.1,1182.8 555.0,1182.2 556.8,1181.9 558.5,1182.1 560.2,1182.8 561.8,1183.6 563.4,1184.3 564.9,1184.6 566.6,1184.2 568.2,1182.9 569.9,1181.0 571.5,1178.6 573.2,1176.2 574.8,1173.9 576.3,1172.2 577.8,1170.9 579.2,1169.7 580.6,1168.8 582.0,1168.1 583.3,1167.6 584.4,1167.3 585.4,1167.3 586.2,1167.7 586.9,1168.2 587.6,1168.9 588.4,1169.7 589.3,1170.6 590.2,1171.7 591.3,1173.3 592.4,1174.9 593.5,1176.3 594.7,1177.1 595.8,1177.0 596.8,1175.8 597.9,1173.6 598.9,1170.9 600.0,1167.9 601.1,1165.0 602.2,1162.4 603.5,1160.1 604.8,1157.5 606.2,1155.0 607.6,1152.8 609.0,1151.2 610.3,1150.4 611.7,1150.5 613.1,1151.1 614.4,1152.3 615.8,1154.1 617.1,1156.4 618.5,1159.2 619.8,1163.0 621.3,1167.9 622.7,1173.3 624.1,1178.7 625.4,1183.4 626.6,1186.8 627.5,1188.8 628.3,1189.9 629.0,1190.3 629.7,1190.3 630.5,1190.1 631.4,1190.0 632.6,1190.1 633.8,1190.1 635.1,1189.9 636.5,1189.4 638.0,1188.4 639.5,1186.8 641.3,1184.1 643.2,1180.5 645.1,1176.4 647.1,1172.2 649.1,1168.5 650.9,1165.7 652.7,1163.7 654.4,1162.3 656.1,1161.3 657.7,1160.6 659.2,1160.3 660.6,1160.2 661.9,1160.3 662.9,1160.8 663.9,1161.6 664.8,1162.7 665.9,1164.1 667.1,1165.7 668.6,1167.9 670.1,1170.8 671.8,1174.0 673.5,1177.0 675.2,1179.5 676.9,1180.9 678.5,1181.2 680.1,1180.6 681.7,1179.4 683.3,1177.9 685.0,1176.5 686.6,1175.4 688.2,1174.7 689.9,1174.0 691.7,1173.3 693.3,1172.7 694.9,1172.1 696.3,1171.5 697.6,1170.9 698.8,1170.2 699.9,1169.6 701.0,1169.0 701.9,1168.6 702.8,1168.3 703.5,1168.3 704.1,1168.5 704.6,1168.8 705.2,1169.2 705.7,1169.5 706.5,1169.6 707.4,1169.5 708.5,1169.2 709.7,1168.9 710.8,1168.5 712.0,1168.3 713.0,1168.3 713.8,1168.4 714.6,1168.5 715.3,1168.7 716.0,1169.1 716.9,1169.7 717.8,1170.6 719.0,1171.9 720.2,1173.6 721.6,1175.6 723.0,1177.6 724.5,1179.4 726.0,1180.9 727.6,1182.2 729.3,1183.3 731.1,1184.3 732.9,1185.1 734.4,1185.7 735.7,1186.1 736.5,1186.4 737.1,1186.5 737.4,1186.5 737.7,1186.2 738.2,1185.6 738.9,1184.5 740.0,1182.8 741.3,1180.4 742.8,1177.7 744.3,1175.0 745.7,1172.5 747.0,1170.6 748.2,1169.2 749.3,1168.2 750.4,1167.5 751.4,1166.9 752.5,1166.4 753.5,1165.7 754.6,1164.8 755.8,1163.9 756.9,1163.0 758.0,1162.2 759.0,1161.7 760.0,1161.5 760.9,1161.7 761.7,1162.2 762.4,1163.0 763.2,1163.9 764.0,1164.8 764.9,1165.7 765.9,1166.5 767.0,1167.4 768.1,1168.3 769.3,1169.2 770.4,1170.0 771.4,1170.6 772.2,1170.9 773.0,1170.9 773.7,1170.9 774.4,1170.9 775.3,1171.1 776.2,1171.5 777.3,1172.3 778.5,1173.3 779.8,1174.4 781.2,1175.7 782.7,1177.2 784.3,1178.7 786.3,1180.4 788.6,1182.5 790.9,1184.7 793.3,1186.8 795.5,1188.6 797.3,1190.0 798.7,1190.9 799.8,1191.5 800.8,1191.8 801.6,1191.9 802.6,1191.9 803.8,1191.6 805.2,1191.2 806.8,1190.4 808.5,1189.5 810.2,1188.5 811.9,1187.5 813.5,1186.8 815.2,1186.2 816.9,1185.6 818.6,1185.1 820.3,1184.6 821.8,1184.3 823.3,1184.2 824.6,1184.2 825.7,1184.5 826.8,1184.8 827.8,1185.2 828.8,1185.6 829.8,1185.8 830.6,1186.0 831.4,1186.2 832.1,1186.4 832.8,1186.5 833.7,1186.4 834.6,1186.1 835.8,1185.5 837.2,1184.5 838.6,1183.4 840.0,1182.3 841.4,1181.4 842.7,1180.9 843.8,1180.7 844.8,1180.7 845.7,1180.9 846.6,1181.3 847.8,1181.9 849.2,1182.9 851.1,1184.4 853.3,1186.4 855.7,1188.7 858.1,1190.9 860.3,1192.8 862.2,1193.9 863.6,1194.2 864.7,1193.9 865.7,1193.2 866.5,1192.3 867.5,1191.5 868.7,1191.0 870.1,1190.7 871.7,1190.4 873.4,1190.1 875.1,1189.9 876.8,1189.9 878.4,1190.0 880.0,1190.4 881.7,1191.1 883.3,1191.9 884.9,1192.6 886.5,1193.3 888.2,1193.6 889.8,1193.5 891.4,1193.2 893.0,1192.7 894.6,1192.2 896.3,1191.8 897.9,1191.6 899.5,1191.7 901.1,1192.0 902.8,1192.3 904.4,1192.7 906.0,1193.3 907.6,1193.9 909.4,1194.7 911.2,1195.8 913.1,1197.0 914.8,1198.1 916.3,1199.9 917.4,1199.9 917.4,1199.9 412.5,1199.9" fill="#ebebeb" stroke="none"/>
<polygon points="941.7,1199.9 942.6,1199.9 943.8,1198.4 945.2,1197.4 946.8,1196.5 948.4,1195.6 949.8,1194.9 951.1,1194.3 952.5,1193.8 953.9,1193.4 955.2,1193.1 956.6,1193.0 957.9,1192.9 959.3,1193.1 960.7,1193.4 962.1,1193.8 963.4,1194.4 964.8,1195.0 966.0,1195.5 967.3,1196.2 968.5,1197.0 969.8,1197.8 970.9,1198.6 971.8,1199.9 972.5,1199.9 972.5,1199.9 941.7,1199.9" fill="#ebebeb" stroke="none"/>
<polygon points="1029.3,1199.9 1030.9,1199.9 1033.1,1198.7 1035.7,1197.9 1038.5,1197.2 1041.3,1196.7 1043.9,1196.5 1046.5,1196.7 1049.3,1197.2 1052.1,1197.9 1054.7,1198.7 1056.9,1199.9 1058.5,1199.9 1058.5,1199.9 1029.3,1199.9" fill="#ebebeb" stroke="none"/>
<path d="M358.2,1199.9L359.4,1198.4L360.9,1197.4L362.4,1196.4L364.0,1195.6L365.4,1194.9L366.8,1194.4L368.1,1194.0L369.5,1193.7L370.8,1193.5L372.2,1193.4L373.5,1193.3L374.9,1193.2L376.2,1193.2L377.6,1193.3L378.9,1193.4L380.3,1193.6L381.6,1193.9L383.0,1194.3L384.3,1194.9L385.6,1195.5L386.9,1196.1L388.3,1196.7L389.7,1197.2L391.3,1197.4L393.0,1197.6L394.7,1197.7L396.3,1197.8L398.0,1198.0L399.5,1198.1L400.9,1198.4L402.4,1198.7L403.8,1199.9M414.5,1199.9L415.9,1198.5L417.4,1197.9L419.0,1197.5L420.6,1197.2L422.1,1197.0L423.8,1196.8L425.5,1196.8L427.2,1196.8L428.8,1196.8L430.3,1196.8L431.5,1196.9L432.6,1197.2L433.5,1197.4L434.5,1197.6L435.6,1197.6L436.8,1197.5L438.3,1197.0L439.9,1196.3L441.7,1195.5L443.4,1194.6L445.0,1193.8L446.5,1193.3L447.8,1192.9L448.9,1192.7L449.9,1192.6L450.8,1192.5L451.9,1192.5L453.0,1192.6L454.3,1192.8L455.7,1193.1L457.1,1193.4L458.5,1193.8L459.8,1194.1L461.1,1194.2L462.2,1194.3L463.2,1194.2L464.2,1194.2L465.1,1194.0L466.3,1193.7L467.6,1193.3L469.2,1192.6L471.1,1191.6L473.1,1190.6L475.1,1189.6L477.1,1188.8L479.0,1188.4L480.7,1188.5L482.3,1188.9L483.9,1189.5L485.5,1190.3L487.1,1191.0L488.7,1191.6L490.3,1192.2L491.9,1192.7L493.6,1193.3L495.2,1193.8L496.8,1194.3L498.4,1194.9L500.1,1195.5L501.8,1196.1L503.5,1196.7L505.2,1197.3L506.7,1197.8L508.2,1198.1L509.4,1198.5L510.3,1199.9M513.2,1199.9L514.6,1198.1L516.5,1196.6L518.7,1194.3L521.0,1191.7L523.4,1189.1L525.7,1186.8L527.6,1185.2L529.2,1184.2L530.6,1183.6L531.9,1183.4L533.1,1183.4L534.3,1183.5L535.7,1183.5L537.2,1183.7L538.8,1184.0L540.4,1184.4L542.0,1184.8L543.7,1185.1L545.5,1185.2L547.3,1184.8L549.2,1184.2L551.1,1183.5L553.1,1182.8L555.0,1182.2L556.8,1181.9L558.5,1182.1L560.2,1182.8L561.8,1183.6L563.4,1184.3L564.9,1184.6L566.6,1184.2L568.2,1182.9L569.9,1181.0L571.5,1178.6L573.2,1176.2L574.8,1173.9L576.3,1172.2L577.8,1170.9L579.2,1169.7L580.6,1168.8L582.0,1168.1L583.3,1167.6L584.4,1167.3L585.4,1167.3L586.2,1167.7L586.9,1168.2L587.6,1168.9L588.4,1169.7L589.3,1170.6L590.2,1171.7L591.3,1173.3L592.4,1174.9L593.5,1176.3L594.7,1177.1L595.8,1177.0L596.8,1175.8L597.9,1173.6L598.9,1170.9L600.0,1167.9L601.1,1165.0L602.2,1162.4L603.5,1160.1L604.8,1157.5L606.2,1155.0L607.6,1152.8L609.0,1151.2L610.3,1150.4L611.7,1150.5L613.1,1151.1L614.4,1152.3L615.8,1154.1L617.1,1156.4L618.5,1159.2L619.8,1163.0L621.3,1167.9L622.7,1173.3L624.1,1178.7L625.4,1183.4L626.6,1186.8L627.5,1188.8L628.3,1189.9L629.0,1190.3L629.7,1190.3L630.5,1190.1L631.4,1190.0L632.6,1190.1L633.8,1190.1L635.1,1189.9L636.5,1189.4L638.0,1188.4L639.5,1186.8L641.3,1184.1L643.2,1180.5L645.1,1176.4L647.1,1172.2L649.1,1168.5L650.9,1165.7L652.7,1163.7L654.4,1162.3L656.1,1161.3L657.7,1160.6L659.2,1160.3L660.6,1160.2L661.9,1160.3L662.9,1160.8L663.9,1161.6L664.8,1162.7L665.9,1164.1L667.1,1165.7L668.6,1167.9L670.1,1170.8L671.8,1174.0L673.5,1177.0L675.2,1179.5L676.9,1180.9L678.5,1181.2L680.1,1180.6L681.7,1179.4L683.3,1177.9L685.0,1176.5L686.6,1175.4L688.2,1174.7L689.9,1174.0L691.7,1173.3L693.3,1172.7L694.9,1172.1L696.3,1171.5L697.6,1170.9L698.8,1170.2L699.9,1169.6L701.0,1169.0L701.9,1168.6L702.8,1168.3L703.5,1168.3L704.1,1168.5L704.6,1168.8L705.2,1169.2L705.7,1169.5L706.5,1169.6L707.4,1169.5L708.5,1169.2L709.7,1168.9L710.8,1168.5L712.0,1168.3L713.0,1168.3L713.8,1168.4L714.6,1168.5L715.3,1168.7L716.0,1169.1L716.9,1169.7L717.8,1170.6L719.0,1171.9L720.2,1173.6L721.6,1175.6L723.0,1177.6L724.5,1179.4L726.0,1180.9L727.6,1182.2L729.3,1183.3L731.1,1184.3L732.9,1185.1L734.4,1185.7L735.7,1186.1L736.5,1186.4L737.1,1186.5L737.4,1186.5L737.7,1186.2L738.2,1185.6L738.9,1184.5L740.0,1182.8L741.3,1180.4L742.8,1177.7L744.3,1175.0L745.7,1172.5L747.0,1170.6L748.2,1169.2L749.3,1168.2L750.4,1167.5L751.4,1166.9L752.5,1166.4L753.5,1165.7L754.6,1164.8L755.8,1163.9L756.9,1163.0L758.0,1162.2L759.0,1161.7L760.0,1161.5L760.9,1161.7L761.7,1162.2L762.4,1163.0L763.2,1163.9L764.0,1164.8L764.9,1165.7L765.9,1166.5L767.0,1167.4L768.1,1168.3L769.3,1169.2L770.4,1170.0L771.4,1170.6L772.2,1170.9L773.0,1170.9L773.7,1170.9L774.4,1170.9L775.3,1171.1L776.2,1171.5L777.3,1172.3L778.5,1173.3L779.8,1174.4L781.2,1175.7L782.7,1177.2L784.3,1178.7L786.3,1180.4L788.6,1182.5L790.9,1184.7L793.3,1186.8L795.5,1188.6L797.3,1190.0L798.7,1190.9L799.8,1191.5L800.8,1191.8L801.6,1191.9L802.6,1191.9L803.8,1191.6L805.2,1191.2L806.8,1190.4L808.5,1189.5L810.2,1188.5L811.9,1187.5L813.5,1186.8L815.2,1186.2L816.9,1185.6L818.6,1185.1L820.3,1184.6L821.8,1184.3L823.3,1184.2L824.6,1184.2L825.7,1184.5L826.8,1184.8L827.8,1185.2L828.8,1185.6L829.8,1185.8L830.6,1186.0L831.4,1186.2L832.1,1186.4L832.8,1186.5L833.7,1186.4L834.6,1186.1L835.8,1185.5L837.2,1184.5L838.6,1183.4L840.0,1182.3L841.4,1181.4L842.7,1180.9L843.8,1180.7L844.8,1180.7L845.7,1180.9L846.6,1181.3L847.8,1181.9L849.2,1182.9L851.1,1184.4L853.3,1186.4L855.7,1188.7L858.1,1190.9L860.3,1192.8L862.2,1193.9L863.6,1194.2L864.7,1193.9L865.7,1193.2L866.5,1192.3L867.5,1191.5L868.7,1191.0L870.1,1190.7L871.7,1190.4L873.4,1190.1L875.1,1189.9L876.8,1189.9L878.4,1190.0L880.0,1190.4L881.7,1191.1L883.3,1191.9L884.9,1192.6L886.5,1193.3L888.2,1193.6L889.8,1193.5L891.4,1193.2L893.0,1192.7L894.6,1192.2L896.3,1191.8L897.9,1191.6L899.5,1191.7L901.1,1192.0L902.8,1192.3L904.4,1192.7L906.0,1193.3L907.6,1193.9L909.4,1194.7L911.2,1195.8L913.1,1197.0L914.8,1198.1L916.3,1199.9M942.6,1199.9L943.8,1198.4L945.2,1197.4L946.8,1196.5L948.4,1195.6L949.8,1194.9L951.1,1194.3L952.5,1193.8L953.9,1193.4L955.2,1193.1L956.6,1193.0L957.9,1192.9L959.3,1193.1L960.7,1193.4L962.1,1193.8L963.4,1194.4L964.8,1195.0L966.0,1195.5L967.3,1196.2L968.5,1197.0L969.8,1197.8L970.9,1198.6L971.8,1199.9M1030.9,1199.9L1033.1,1198.7L1035.7,1197.9L1038.5,1197.2L1041.3,1196.7L1043.9,1196.5L1046.5,1196.7L1049.3,1197.2L1052.1,1197.9L1054.7,1198.7L1056.9,1199.9" fill="none" stroke="#3434D2" stroke-width="1.15" stroke-linejoin="round"/>
<polygon points="291.4,1324.3 291.9,1324.3 292.6,1324.3 293.4,1324.3 294.3,1324.3 295.3,1324.3 296.2,1324.3 297.2,1324.3 298.1,1324.3 299.2,1322.6 300.2,1322.0 301.4,1321.5 302.7,1321.0 304.2,1320.5 305.8,1320.0 307.5,1319.5 309.2,1319.0 310.9,1318.6 312.4,1318.4 313.9,1318.3 315.3,1318.3 316.7,1318.4 318.0,1318.5 319.3,1318.7 320.6,1319.0 321.7,1319.4 322.9,1320.0 324.0,1320.6 325.1,1321.2 326.1,1321.8 327.0,1322.3 328.0,1322.7 329.0,1324.3 329.9,1324.3 330.7,1324.3 331.4,1324.3 331.9,1324.3 331.9,1324.3 291.4,1324.3" fill="#ebebeb" stroke="none"/>
<polygon points="353.0,1324.3 353.5,1324.3 354.1,1324.3 354.8,1324.3 355.7,1322.6 356.7,1322.1 357.9,1321.6 359.2,1321.1 360.8,1320.6 362.5,1320.0 364.3,1319.5 366.0,1319.0 367.6,1318.7 369.0,1318.6 370.4,1318.5 371.7,1318.5 373.1,1318.6 374.4,1318.8 375.7,1319.0 377.1,1319.5 378.5,1320.1 380.0,1320.7 381.3,1321.4 382.6,1321.9 383.8,1322.3 384.8,1322.4 385.5,1322.5 386.1,1322.4 386.8,1322.2 387.6,1321.9 388.7,1321.6 390.0,1321.2 391.6,1320.6 393.3,1319.9 395.1,1319.3 396.8,1318.7 398.4,1318.4 399.9,1318.3 401.3,1318.2 402.7,1318.4 404.0,1318.5 405.3,1318.8 406.5,1319.0 407.7,1319.4 408.9,1319.8 410.0,1320.2 411.0,1320.7 412.0,1321.2 413.0,1321.6 414.0,1322.1 414.9,1322.6 415.8,1323.1 416.7,1324.3 417.4,1324.3 417.9,1324.3 417.9,1324.3 353.0,1324.3" fill="#ebebeb" stroke="none"/>
<polygon points="432.5,1324.3 433.5,1324.3 434.9,1324.3 436.5,1322.9 438.4,1322.3 440.3,1321.7 442.2,1321.0 444.2,1320.2 446.3,1319.4 448.5,1318.4 450.7,1317.5 453.0,1316.6 455.2,1315.8 457.4,1315.0 459.7,1314.3 462.1,1313.5 464.3,1312.9 466.4,1312.3 468.2,1311.9 469.6,1311.7 470.7,1311.5 471.6,1311.5 472.5,1311.6 473.5,1311.7 474.6,1311.9 476.1,1312.2 477.7,1312.6 479.3,1313.1 481.0,1313.6 482.7,1314.1 484.4,1314.5 486.0,1314.8 487.5,1315.0 489.0,1315.2 490.6,1315.4 492.3,1315.6 494.1,1315.8 496.1,1316.1 498.3,1316.4 500.6,1316.7 502.9,1317.0 505.1,1317.4 507.1,1317.7 508.9,1318.2 510.6,1318.7 512.2,1319.2 513.7,1319.7 515.2,1320.2 516.8,1320.7 518.5,1321.2 520.2,1321.9 521.9,1322.5 523.5,1323.0 525.1,1324.3 526.6,1324.3 527.8,1322.8 528.8,1322.0 529.8,1321.0 530.8,1319.9 531.8,1318.7 533.0,1317.7 534.5,1316.8 536.0,1315.8 537.7,1314.7 539.4,1313.8 541.1,1313.1 542.8,1312.6 544.4,1312.3 546.1,1312.2 547.7,1312.3 549.4,1312.6 551.0,1313.0 552.5,1313.5 554.0,1314.4 555.3,1315.7 556.7,1317.1 558.0,1318.5 559.3,1319.5 560.6,1320.0 561.9,1319.8 563.3,1319.1 564.6,1318.1 565.9,1317.0 567.3,1315.9 568.7,1315.2 570.2,1314.7 571.7,1314.3 573.3,1314.1 574.9,1313.9 576.6,1313.7 578.5,1313.5 580.5,1313.3 582.8,1313.1 585.2,1312.9 587.5,1312.7 589.6,1312.6 591.4,1312.6 592.9,1312.6 594.1,1312.9 595.1,1313.1 596.0,1313.4 596.9,1313.5 597.9,1313.5 599.0,1313.3 600.1,1312.9 601.2,1312.5 602.2,1312.0 603.3,1311.6 604.4,1311.3 605.5,1311.1 606.5,1310.9 607.5,1310.8 608.5,1310.8 609.6,1310.8 610.9,1310.9 612.3,1311.1 613.8,1311.5 615.5,1311.8 617.1,1312.2 618.9,1312.6 620.6,1312.9 622.5,1313.1 624.4,1313.3 626.4,1313.5 628.4,1313.6 630.3,1313.7 632.0,1313.5 633.5,1313.2 634.9,1312.7 636.1,1312.1 637.4,1311.5 638.7,1310.9 640.1,1310.3 641.7,1309.7 643.3,1309.2 645.1,1308.7 646.8,1308.1 648.4,1307.6 649.8,1307.0 651.1,1306.5 652.3,1305.8 653.5,1305.2 654.5,1304.6 655.4,1304.1 656.3,1303.8 657.0,1303.7 657.3,1303.7 657.6,1303.8 658.0,1304.0 658.7,1304.2 660.0,1304.3 661.9,1304.3 664.4,1304.2 667.1,1304.1 670.0,1304.1 672.8,1304.1 675.3,1304.3 677.6,1304.7 679.7,1305.4 681.8,1306.2 683.8,1306.9 685.6,1307.2 687.2,1307.0 688.7,1306.2 689.8,1305.0 690.9,1303.5 691.9,1301.8 692.9,1300.0 694.1,1298.1 695.4,1296.2 696.7,1294.2 698.1,1292.0 699.5,1289.8 701.0,1287.6 702.6,1285.5 704.2,1283.3 705.9,1280.8 707.7,1278.3 709.4,1276.2 711.2,1274.8 712.8,1274.3 714.3,1275.1 715.8,1277.0 717.2,1279.5 718.5,1282.4 719.9,1285.1 721.3,1287.2 722.7,1288.9 724.1,1290.5 725.5,1291.9 726.9,1293.2 728.3,1294.5 729.8,1295.8 731.5,1297.1 733.2,1298.5 735.0,1299.9 736.8,1301.1 738.5,1302.1 740.0,1302.6 741.4,1302.6 742.6,1302.2 743.7,1301.4 744.7,1300.6 745.8,1299.8 746.9,1299.2 748.0,1298.8 749.1,1298.5 750.2,1298.3 751.3,1297.9 752.4,1297.5 753.7,1296.8 755.0,1295.8 756.4,1294.5 757.8,1293.1 759.3,1291.6 760.7,1290.2 762.2,1289.0 763.6,1287.8 765.0,1286.6 766.3,1285.5 767.7,1284.5 769.2,1283.7 770.7,1283.2 772.3,1282.8 774.0,1282.6 775.7,1282.6 777.4,1282.7 779.2,1283.2 780.9,1283.8 782.6,1285.0 784.3,1286.6 785.9,1288.5 787.6,1290.3 789.3,1291.9 791.1,1293.0 793.1,1293.6 795.1,1293.7 797.2,1293.5 799.3,1293.3 801.2,1293.2 803.1,1293.4 804.7,1293.8 806.1,1294.4 807.5,1295.1 808.9,1295.9 810.2,1296.7 811.6,1297.5 813.0,1298.3 814.5,1299.1 816.0,1300.0 817.5,1300.9 818.9,1301.8 820.1,1302.6 821.1,1303.4 822.0,1304.2 822.8,1304.9 823.6,1305.6 824.4,1306.2 825.2,1306.7 826.0,1307.0 826.8,1307.2 827.6,1307.3 828.5,1307.3 829.3,1307.2 830.3,1307.0 831.3,1306.6 832.4,1306.0 833.6,1305.3 834.8,1304.6 836.0,1304.0 837.1,1303.6 838.2,1303.3 839.4,1303.1 840.5,1303.0 841.7,1303.0 842.8,1303.0 843.9,1303.3 845.0,1303.6 845.9,1303.9 846.9,1304.4 848.0,1305.0 849.2,1305.9 850.7,1307.0 852.7,1308.6 855.0,1310.6 857.4,1312.9 859.9,1315.2 862.3,1317.1 864.4,1318.6 866.1,1319.5 867.6,1320.0 868.9,1320.3 870.2,1320.3 871.5,1320.3 872.9,1320.3 874.3,1320.2 875.7,1320.0 877.1,1319.6 878.6,1319.3 880.0,1318.9 881.4,1318.6 882.8,1318.3 884.2,1318.0 885.6,1317.6 887.1,1317.4 888.5,1317.2 889.9,1317.2 891.3,1317.4 892.8,1317.7 894.3,1318.2 895.7,1318.7 897.1,1319.2 898.4,1319.6 899.6,1320.0 900.7,1320.4 901.7,1320.8 902.8,1321.2 903.9,1321.6 905.2,1322.0 906.9,1322.4 908.8,1322.8 910.8,1324.3 912.7,1324.3 914.3,1324.3 915.4,1324.3 915.4,1324.3 432.5,1324.3" fill="#ebebeb" stroke="none"/>
<polygon points="951.2,1324.3 952.1,1324.3 953.4,1322.3 954.8,1321.1 956.4,1319.9 958.1,1318.8 959.7,1317.9 961.4,1317.2 963.1,1316.6 964.8,1316.0 966.6,1315.6 968.3,1315.3 969.9,1315.2 971.4,1315.2 972.8,1315.3 974.2,1315.6 975.6,1316.0 977.0,1316.5 978.5,1317.2 980.2,1318.2 982.1,1319.4 984.1,1320.8 986.0,1322.1 987.5,1324.3 988.7,1324.3 988.7,1324.3 951.2,1324.3" fill="#ebebeb" stroke="none"/>
<polygon points="1027.8,1324.3 1028.8,1324.3 1030.0,1324.3 1031.5,1323.1 1033.1,1322.6 1034.7,1322.3 1036.4,1322.0 1038.0,1321.8 1039.6,1321.6 1041.4,1321.4 1043.1,1321.3 1044.9,1321.3 1046.6,1321.3 1048.3,1321.5 1050.0,1321.7 1051.7,1322.0 1053.4,1322.4 1055.1,1322.7 1056.8,1323.0 1058.6,1324.3 1060.6,1324.3 1062.5,1324.3 1064.4,1324.3 1065.9,1324.3 1067.0,1324.3 1067.0,1324.3 1027.8,1324.3" fill="#ebebeb" stroke="none"/>
<path d="M291.4,1324.3L291.9,1324.3L292.6,1324.3L293.4,1324.3L294.3,1324.3L295.3,1324.3L296.2,1324.3L297.2,1324.3L298.1,1324.3L299.2,1322.6L300.2,1322.0L301.4,1321.5L302.7,1321.0L304.2,1320.5L305.8,1320.0L307.5,1319.5L309.2,1319.0L310.9,1318.6L312.4,1318.4L313.9,1318.3L315.3,1318.3L316.7,1318.4L318.0,1318.5L319.3,1318.7L320.6,1319.0L321.7,1319.4L322.9,1320.0L324.0,1320.6L325.1,1321.2L326.1,1321.8L327.0,1322.3L328.0,1322.7L329.0,1324.3L329.9,1324.3L330.7,1324.3L331.4,1324.3L331.9,1324.3L353.0,1324.3L353.5,1324.3L354.1,1324.3L354.8,1324.3L355.7,1322.6L356.7,1322.1L357.9,1321.6L359.2,1321.1L360.8,1320.6L362.5,1320.0L364.3,1319.5L366.0,1319.0L367.6,1318.7L369.0,1318.6L370.4,1318.5L371.7,1318.5L373.1,1318.6L374.4,1318.8L375.7,1319.0L377.1,1319.5L378.5,1320.1L380.0,1320.7L381.3,1321.4L382.6,1321.9L383.8,1322.3L384.8,1322.4L385.5,1322.5L386.1,1322.4L386.8,1322.2L387.6,1321.9L388.7,1321.6L390.0,1321.2L391.6,1320.6L393.3,1319.9L395.1,1319.3L396.8,1318.7L398.4,1318.4L399.9,1318.3L401.3,1318.2L402.7,1318.4L404.0,1318.5L405.3,1318.8L406.5,1319.0L407.7,1319.4L408.9,1319.8L410.0,1320.2L411.0,1320.7L412.0,1321.2L413.0,1321.6L414.0,1322.1L414.9,1322.6L415.8,1323.1L416.7,1324.3M434.9,1324.3L436.5,1322.9L438.4,1322.3L440.3,1321.7L442.2,1321.0L444.2,1320.2L446.3,1319.4L448.5,1318.4L450.7,1317.5L453.0,1316.6L455.2,1315.8L457.4,1315.0L459.7,1314.3L462.1,1313.5L464.3,1312.9L466.4,1312.3L468.2,1311.9L469.6,1311.7L470.7,1311.5L471.6,1311.5L472.5,1311.6L473.5,1311.7L474.6,1311.9L476.1,1312.2L477.7,1312.6L479.3,1313.1L481.0,1313.6L482.7,1314.1L484.4,1314.5L486.0,1314.8L487.5,1315.0L489.0,1315.2L490.6,1315.4L492.3,1315.6L494.1,1315.8L496.1,1316.1L498.3,1316.4L500.6,1316.7L502.9,1317.0L505.1,1317.4L507.1,1317.7L508.9,1318.2L510.6,1318.7L512.2,1319.2L513.7,1319.7L515.2,1320.2L516.8,1320.7L518.5,1321.2L520.2,1321.9L521.9,1322.5L523.5,1323.0L525.1,1324.3M526.6,1324.3L527.8,1322.8L528.8,1322.0L529.8,1321.0L530.8,1319.9L531.8,1318.7L533.0,1317.7L534.5,1316.8L536.0,1315.8L537.7,1314.7L539.4,1313.8L541.1,1313.1L542.8,1312.6L544.4,1312.3L546.1,1312.2L547.7,1312.3L549.4,1312.6L551.0,1313.0L552.5,1313.5L554.0,1314.4L555.3,1315.7L556.7,1317.1L558.0,1318.5L559.3,1319.5L560.6,1320.0L561.9,1319.8L563.3,1319.1L564.6,1318.1L565.9,1317.0L567.3,1315.9L568.7,1315.2L570.2,1314.7L571.7,1314.3L573.3,1314.1L574.9,1313.9L576.6,1313.7L578.5,1313.5L580.5,1313.3L582.8,1313.1L585.2,1312.9L587.5,1312.7L589.6,1312.6L591.4,1312.6L592.9,1312.6L594.1,1312.9L595.1,1313.1L596.0,1313.4L596.9,1313.5L597.9,1313.5L599.0,1313.3L600.1,1312.9L601.2,1312.5L602.2,1312.0L603.3,1311.6L604.4,1311.3L605.5,1311.1L606.5,1310.9L607.5,1310.8L608.5,1310.8L609.6,1310.8L610.9,1310.9L612.3,1311.1L613.8,1311.5L615.5,1311.8L617.1,1312.2L618.9,1312.6L620.6,1312.9L622.5,1313.1L624.4,1313.3L626.4,1313.5L628.4,1313.6L630.3,1313.7L632.0,1313.5L633.5,1313.2L634.9,1312.7L636.1,1312.1L637.4,1311.5L638.7,1310.9L640.1,1310.3L641.7,1309.7L643.3,1309.2L645.1,1308.7L646.8,1308.1L648.4,1307.6L649.8,1307.0L651.1,1306.5L652.3,1305.8L653.5,1305.2L654.5,1304.6L655.4,1304.1L656.3,1303.8L657.0,1303.7L657.3,1303.7L657.6,1303.8L658.0,1304.0L658.7,1304.2L660.0,1304.3L661.9,1304.3L664.4,1304.2L667.1,1304.1L670.0,1304.1L672.8,1304.1L675.3,1304.3L677.6,1304.7L679.7,1305.4L681.8,1306.2L683.8,1306.9L685.6,1307.2L687.2,1307.0L688.7,1306.2L689.8,1305.0L690.9,1303.5L691.9,1301.8L692.9,1300.0L694.1,1298.1L695.4,1296.2L696.7,1294.2L698.1,1292.0L699.5,1289.8L701.0,1287.6L702.6,1285.5L704.2,1283.3L705.9,1280.8L707.7,1278.3L709.4,1276.2L711.2,1274.8L712.8,1274.3L714.3,1275.1L715.8,1277.0L717.2,1279.5L718.5,1282.4L719.9,1285.1L721.3,1287.2L722.7,1288.9L724.1,1290.5L725.5,1291.9L726.9,1293.2L728.3,1294.5L729.8,1295.8L731.5,1297.1L733.2,1298.5L735.0,1299.9L736.8,1301.1L738.5,1302.1L740.0,1302.6L741.4,1302.6L742.6,1302.2L743.7,1301.4L744.7,1300.6L745.8,1299.8L746.9,1299.2L748.0,1298.8L749.1,1298.5L750.2,1298.3L751.3,1297.9L752.4,1297.5L753.7,1296.8L755.0,1295.8L756.4,1294.5L757.8,1293.1L759.3,1291.6L760.7,1290.2L762.2,1289.0L763.6,1287.8L765.0,1286.6L766.3,1285.5L767.7,1284.5L769.2,1283.7L770.7,1283.2L772.3,1282.8L774.0,1282.6L775.7,1282.6L777.4,1282.7L779.2,1283.2L780.9,1283.8L782.6,1285.0L784.3,1286.6L785.9,1288.5L787.6,1290.3L789.3,1291.9L791.1,1293.0L793.1,1293.6L795.1,1293.7L797.2,1293.5L799.3,1293.3L801.2,1293.2L803.1,1293.4L804.7,1293.8L806.1,1294.4L807.5,1295.1L808.9,1295.9L810.2,1296.7L811.6,1297.5L813.0,1298.3L814.5,1299.1L816.0,1300.0L817.5,1300.9L818.9,1301.8L820.1,1302.6L821.1,1303.4L822.0,1304.2L822.8,1304.9L823.6,1305.6L824.4,1306.2L825.2,1306.7L826.0,1307.0L826.8,1307.2L827.6,1307.3L828.5,1307.3L829.3,1307.2L830.3,1307.0L831.3,1306.6L832.4,1306.0L833.6,1305.3L834.8,1304.6L836.0,1304.0L837.1,1303.6L838.2,1303.3L839.4,1303.1L840.5,1303.0L841.7,1303.0L842.8,1303.0L843.9,1303.3L845.0,1303.6L845.9,1303.9L846.9,1304.4L848.0,1305.0L849.2,1305.9L850.7,1307.0L852.7,1308.6L855.0,1310.6L857.4,1312.9L859.9,1315.2L862.3,1317.1L864.4,1318.6L866.1,1319.5L867.6,1320.0L868.9,1320.3L870.2,1320.3L871.5,1320.3L872.9,1320.3L874.3,1320.2L875.7,1320.0L877.1,1319.6L878.6,1319.3L880.0,1318.9L881.4,1318.6L882.8,1318.3L884.2,1318.0L885.6,1317.6L887.1,1317.4L888.5,1317.2L889.9,1317.2L891.3,1317.4L892.8,1317.7L894.3,1318.2L895.7,1318.7L897.1,1319.2L898.4,1319.6L899.6,1320.0L900.7,1320.4L901.7,1320.8L902.8,1321.2L903.9,1321.6L905.2,1322.0L906.9,1322.4L908.8,1322.8L910.8,1324.3M952.1,1324.3L953.4,1322.3L954.8,1321.1L956.4,1319.9L958.1,1318.8L959.7,1317.9L961.4,1317.2L963.1,1316.6L964.8,1316.0L966.6,1315.6L968.3,1315.3L969.9,1315.2L971.4,1315.2L972.8,1315.3L974.2,1315.6L975.6,1316.0L977.0,1316.5L978.5,1317.2L980.2,1318.2L982.1,1319.4L984.1,1320.8L986.0,1322.1L987.5,1324.3M1030.0,1324.3L1031.5,1323.1L1033.1,1322.6L1034.7,1322.3L1036.4,1322.0L1038.0,1321.8L1039.6,1321.6L1041.4,1321.4L1043.1,1321.3L1044.9,1321.3L1046.6,1321.3L1048.3,1321.5L1050.0,1321.7L1051.7,1322.0L1053.4,1322.4L1055.1,1322.7L1056.8,1323.0L1058.6,1324.3L1060.6,1324.3L1062.5,1324.3L1064.4,1324.3L1065.9,1324.3L1067.0,1324.3" fill="none" stroke="#3434D2" stroke-width="1.15" stroke-linejoin="round"/>
<line x1="313.90" y1="877.50" x2="1043.90" y2="877.50" stroke="#242424" stroke-width="1.3" />
<line x1="313.90" y1="877.50" x2="313.90" y2="881.30" stroke="#242424" stroke-width="1.1" />
<text transform="translate(310.57,890.80) scale(1.0000,1)" font-size="11.90" font-family="Liberation Sans" fill="#111">0</text>
<line x1="459.90" y1="877.50" x2="459.90" y2="881.30" stroke="#242424" stroke-width="1.1" />
<text transform="translate(453.18,890.80) scale(1.0000,1)" font-size="11.90" font-family="Liberation Sans" fill="#111">20</text>
<line x1="605.90" y1="877.50" x2="605.90" y2="881.30" stroke="#242424" stroke-width="1.1" />
<text transform="translate(599.36,890.80) scale(1.0000,1)" font-size="11.90" font-family="Liberation Sans" fill="#111">40</text>
<line x1="751.90" y1="877.50" x2="751.90" y2="881.30" stroke="#242424" stroke-width="1.1" />
<text transform="translate(745.18,890.80) scale(1.0000,1)" font-size="11.90" font-family="Liberation Sans" fill="#111">60</text>
<line x1="897.90" y1="877.50" x2="897.90" y2="881.30" stroke="#242424" stroke-width="1.1" />
<text transform="translate(891.24,890.80) scale(1.0000,1)" font-size="11.90" font-family="Liberation Sans" fill="#111">80</text>
<line x1="1043.90" y1="877.50" x2="1043.90" y2="881.30" stroke="#242424" stroke-width="1.1" />
<text transform="translate(1033.73,890.80) scale(1.0000,1)" font-size="11.90" font-family="Liberation Sans" fill="#111">100</text>
<line x1="457.00" y1="952.00" x2="795.70" y2="952.00" stroke="#242424" stroke-width="1.3" />
<line x1="490.30" y1="952.00" x2="490.30" y2="955.80" stroke="#242424" stroke-width="1.1" />
<text transform="translate(481.91,965.30) scale(1.0000,1)" font-size="11.90" font-family="Liberation Sans" fill="#111">9.4</text>
<line x1="592.00" y1="952.00" x2="592.00" y2="955.80" stroke="#242424" stroke-width="1.1" />
<text transform="translate(583.79,965.30) scale(1.0000,1)" font-size="11.90" font-family="Liberation Sans" fill="#111">8.6</text>
<line x1="694.00" y1="952.00" x2="694.00" y2="955.80" stroke="#242424" stroke-width="1.1" />
<text transform="translate(685.73,965.30) scale(1.0000,1)" font-size="11.90" font-family="Liberation Sans" fill="#111">7.8</text>
<line x1="795.70" y1="952.00" x2="795.70" y2="955.80" stroke="#242424" stroke-width="1.1" />
<text transform="translate(792.37,965.30) scale(1.0000,1)" font-size="11.90" font-family="Liberation Sans" fill="#111">7</text>
<line x1="266.70" y1="1034.80" x2="864.70" y2="1034.80" stroke="#242424" stroke-width="1.3" />
<line x1="266.70" y1="1034.80" x2="266.70" y2="1038.60" stroke="#242424" stroke-width="1.1" />
<text transform="translate(258.43,1048.10) scale(1.0000,1)" font-size="11.90" font-family="Liberation Sans" fill="#111">6.2</text>
<line x1="382.00" y1="1034.80" x2="382.00" y2="1038.60" stroke="#242424" stroke-width="1.1" />
<text transform="translate(373.73,1048.10) scale(1.0000,1)" font-size="11.90" font-family="Liberation Sans" fill="#111">6.6</text>
<line x1="497.30" y1="1034.80" x2="497.30" y2="1038.60" stroke="#242424" stroke-width="1.1" />
<text transform="translate(493.97,1048.10) scale(1.0000,1)" font-size="11.90" font-family="Liberation Sans" fill="#111">7</text>
<line x1="612.60" y1="1034.80" x2="612.60" y2="1038.60" stroke="#242424" stroke-width="1.1" />
<text transform="translate(604.21,1048.10) scale(1.0000,1)" font-size="11.90" font-family="Liberation Sans" fill="#111">7.4</text>
<line x1="727.90" y1="1034.80" x2="727.90" y2="1038.60" stroke="#242424" stroke-width="1.1" />
<text transform="translate(719.63,1048.10) scale(1.0000,1)" font-size="11.90" font-family="Liberation Sans" fill="#111">7.8</text>
<line x1="843.20" y1="1034.80" x2="843.20" y2="1038.60" stroke="#242424" stroke-width="1.1" />
<text transform="translate(834.99,1048.10) scale(1.0000,1)" font-size="11.90" font-family="Liberation Sans" fill="#111">8.2</text>
<line x1="334.30" y1="1117.40" x2="948.30" y2="1117.40" stroke="#242424" stroke-width="1.3" />
<line x1="334.30" y1="1117.40" x2="334.30" y2="1121.20" stroke="#242424" stroke-width="1.1" />
<text transform="translate(326.03,1130.70) scale(1.0000,1)" font-size="11.90" font-family="Liberation Sans" fill="#111">6.6</text>
<line x1="422.01" y1="1117.40" x2="422.01" y2="1121.20" stroke="#242424" stroke-width="1.1" />
<text transform="translate(418.68,1130.70) scale(1.0000,1)" font-size="11.90" font-family="Liberation Sans" fill="#111">7</text>
<line x1="509.72" y1="1117.40" x2="509.72" y2="1121.20" stroke="#242424" stroke-width="1.1" />
<text transform="translate(501.33,1130.70) scale(1.0000,1)" font-size="11.90" font-family="Liberation Sans" fill="#111">7.4</text>
<line x1="597.43" y1="1117.40" x2="597.43" y2="1121.20" stroke="#242424" stroke-width="1.1" />
<text transform="translate(589.16,1130.70) scale(1.0000,1)" font-size="11.90" font-family="Liberation Sans" fill="#111">7.8</text>
<line x1="685.14" y1="1117.40" x2="685.14" y2="1121.20" stroke="#242424" stroke-width="1.1" />
<text transform="translate(676.93,1130.70) scale(1.0000,1)" font-size="11.90" font-family="Liberation Sans" fill="#111">8.2</text>
<line x1="772.85" y1="1117.40" x2="772.85" y2="1121.20" stroke="#242424" stroke-width="1.1" />
<text transform="translate(764.64,1130.70) scale(1.0000,1)" font-size="11.90" font-family="Liberation Sans" fill="#111">8.6</text>
<line x1="860.56" y1="1117.40" x2="860.56" y2="1121.20" stroke="#242424" stroke-width="1.1" />
<text transform="translate(857.23,1130.70) scale(1.0000,1)" font-size="11.90" font-family="Liberation Sans" fill="#111">9</text>
<line x1="948.27" y1="1117.40" x2="948.27" y2="1121.20" stroke="#242424" stroke-width="1.1" />
<text transform="translate(939.88,1130.70) scale(1.0000,1)" font-size="11.90" font-family="Liberation Sans" fill="#111">9.4</text>
<line x1="341.70" y1="1199.90" x2="1065.00" y2="1199.90" stroke="#242424" stroke-width="1.3" />
<line x1="341.70" y1="1199.90" x2="341.70" y2="1203.70" stroke="#242424" stroke-width="1.1" />
<text transform="translate(333.43,1213.20) scale(1.0000,1)" font-size="11.90" font-family="Liberation Sans" fill="#111">9.6</text>
<line x1="407.45" y1="1199.90" x2="407.45" y2="1203.70" stroke="#242424" stroke-width="1.1" />
<text transform="translate(399.06,1213.20) scale(1.0000,1)" font-size="11.90" font-family="Liberation Sans" fill="#111">9.4</text>
<line x1="473.20" y1="1199.90" x2="473.20" y2="1203.70" stroke="#242424" stroke-width="1.1" />
<text transform="translate(464.93,1213.20) scale(1.0000,1)" font-size="11.90" font-family="Liberation Sans" fill="#111">9.2</text>
<line x1="538.95" y1="1199.90" x2="538.95" y2="1203.70" stroke="#242424" stroke-width="1.1" />
<text transform="translate(535.62,1213.20) scale(1.0000,1)" font-size="11.90" font-family="Liberation Sans" fill="#111">9</text>
<line x1="604.70" y1="1199.90" x2="604.70" y2="1203.70" stroke="#242424" stroke-width="1.1" />
<text transform="translate(596.49,1213.20) scale(1.0000,1)" font-size="11.90" font-family="Liberation Sans" fill="#111">8.8</text>
<line x1="670.45" y1="1199.90" x2="670.45" y2="1203.70" stroke="#242424" stroke-width="1.1" />
<text transform="translate(662.24,1213.20) scale(1.0000,1)" font-size="11.90" font-family="Liberation Sans" fill="#111">8.6</text>
<line x1="736.20" y1="1199.90" x2="736.20" y2="1203.70" stroke="#242424" stroke-width="1.1" />
<text transform="translate(727.87,1213.20) scale(1.0000,1)" font-size="11.90" font-family="Liberation Sans" fill="#111">8.4</text>
<line x1="801.95" y1="1199.90" x2="801.95" y2="1203.70" stroke="#242424" stroke-width="1.1" />
<text transform="translate(793.74,1213.20) scale(1.0000,1)" font-size="11.90" font-family="Liberation Sans" fill="#111">8.2</text>
<line x1="867.70" y1="1199.90" x2="867.70" y2="1203.70" stroke="#242424" stroke-width="1.1" />
<text transform="translate(864.43,1213.20) scale(1.0000,1)" font-size="11.90" font-family="Liberation Sans" fill="#111">8</text>
<line x1="933.45" y1="1199.90" x2="933.45" y2="1203.70" stroke="#242424" stroke-width="1.1" />
<text transform="translate(925.18,1213.20) scale(1.0000,1)" font-size="11.90" font-family="Liberation Sans" fill="#111">7.8</text>
<line x1="999.20" y1="1199.90" x2="999.20" y2="1203.70" stroke="#242424" stroke-width="1.1" />
<text transform="translate(990.93,1213.20) scale(1.0000,1)" font-size="11.90" font-family="Liberation Sans" fill="#111">7.6</text>
<line x1="1064.95" y1="1199.90" x2="1064.95" y2="1203.70" stroke="#242424" stroke-width="1.1" />
<text transform="translate(1056.56,1213.20) scale(1.0000,1)" font-size="11.90" font-family="Liberation Sans" fill="#111">7.4</text>
<line x1="357.20" y1="1324.30" x2="1046.20" y2="1324.30" stroke="#242424" stroke-width="1.3" />
<line x1="357.20" y1="1324.30" x2="357.20" y2="1328.10" stroke="#242424" stroke-width="1.1" />
<text transform="translate(347.03,1337.60) scale(1.0000,1)" font-size="11.90" font-family="Liberation Sans" fill="#111">100</text>
<line x1="529.45" y1="1324.30" x2="529.45" y2="1328.10" stroke="#242424" stroke-width="1.1" />
<text transform="translate(519.28,1337.60) scale(1.0000,1)" font-size="11.90" font-family="Liberation Sans" fill="#111">150</text>
<line x1="701.70" y1="1324.30" x2="701.70" y2="1328.10" stroke="#242424" stroke-width="1.1" />
<text transform="translate(691.70,1337.60) scale(1.0000,1)" font-size="11.90" font-family="Liberation Sans" fill="#111">200</text>
<line x1="873.95" y1="1324.30" x2="873.95" y2="1328.10" stroke="#242424" stroke-width="1.1" />
<text transform="translate(863.95,1337.60) scale(1.0000,1)" font-size="11.90" font-family="Liberation Sans" fill="#111">250</text>
<line x1="1046.20" y1="1324.30" x2="1046.20" y2="1328.10" stroke="#242424" stroke-width="1.1" />
<text transform="translate(1036.26,1337.60) scale(1.0000,1)" font-size="11.90" font-family="Liberation Sans" fill="#111">300</text>
<line x1="277.70" y1="1390.30" x2="1057.90" y2="1390.30" stroke="#242424" stroke-width="1.3" />
<line x1="277.70" y1="1390.30" x2="277.70" y2="1394.10" stroke="#242424" stroke-width="1.1" />
<text transform="translate(269.49,1403.60) scale(1.0000,1)" font-size="11.90" font-family="Liberation Sans" fill="#111">0.1</text>
<line x1="419.00" y1="1390.30" x2="419.00" y2="1394.10" stroke="#242424" stroke-width="1.1" />
<text transform="translate(410.79,1403.60) scale(1.0000,1)" font-size="11.90" font-family="Liberation Sans" fill="#111">0.3</text>
<line x1="506.60" y1="1390.30" x2="506.60" y2="1394.10" stroke="#242424" stroke-width="1.1" />
<text transform="translate(498.39,1403.60) scale(1.0000,1)" font-size="11.90" font-family="Liberation Sans" fill="#111">0.5</text>
<line x1="594.40" y1="1390.30" x2="594.40" y2="1394.10" stroke="#242424" stroke-width="1.1" />
<text transform="translate(586.19,1403.60) scale(1.0000,1)" font-size="11.90" font-family="Liberation Sans" fill="#111">0.7</text>
<line x1="687.40" y1="1390.30" x2="687.40" y2="1394.10" stroke="#242424" stroke-width="1.1" />
<text transform="translate(675.86,1403.60) scale(1.0000,1)" font-size="11.90" font-family="Liberation Sans" fill="#111">0.85</text>
<line x1="793.30" y1="1390.30" x2="793.30" y2="1394.10" stroke="#242424" stroke-width="1.1" />
<text transform="translate(781.64,1403.60) scale(1.0000,1)" font-size="11.90" font-family="Liberation Sans" fill="#111">0.94</text>
<line x1="868.80" y1="1390.30" x2="868.80" y2="1394.10" stroke="#242424" stroke-width="1.1" />
<text transform="translate(857.26,1403.60) scale(1.0000,1)" font-size="11.90" font-family="Liberation Sans" fill="#111">0.97</text>
<line x1="942.20" y1="1390.30" x2="942.20" y2="1394.10" stroke="#242424" stroke-width="1.1" />
<text transform="translate(927.33,1403.60) scale(1.0000,1)" font-size="11.90" font-family="Liberation Sans" fill="#111">0.985</text>
<line x1="1057.90" y1="1390.30" x2="1057.90" y2="1394.10" stroke="#242424" stroke-width="1.1" />
<text transform="translate(1043.03,1403.60) scale(1.0000,1)" font-size="11.90" font-family="Liberation Sans" fill="#111">0.995</text>
<text transform="translate(247.64,1393.23) scale(0.9813,1)" font-size="12.26" font-family="Liberation Sans" fill="#000" font-style="italic">Pr(</text>
<text transform="translate(271.50,1392.92) scale(0.8455,1)" font-size="11.83" font-family="Liberation Sans" fill="#000" font-style="italic">)</text>
<line x1="451.00" y1="877.50" x2="451.00" y2="1199.90" stroke="#E04848" stroke-width="1.0" stroke-dasharray="1.2,2.2"/>
<line x1="486.00" y1="877.50" x2="486.00" y2="1117.40" stroke="#E04848" stroke-width="1.0" stroke-dasharray="1.2,2.2"/>
<line x1="627.60" y1="877.50" x2="627.60" y2="952.00" stroke="#E04848" stroke-width="1.0" stroke-dasharray="1.2,2.2"/>
<line x1="728.10" y1="877.50" x2="728.10" y2="1034.80" stroke="#E04848" stroke-width="1.0" stroke-dasharray="1.2,2.2"/>
<circle cx="451.00" cy="877.50" r="3.40" fill="#EC0A0A"/>
<circle cx="486.00" cy="877.50" r="3.40" fill="#EC0A0A"/>
<circle cx="627.60" cy="877.50" r="3.40" fill="#EC0A0A"/>
<circle cx="728.10" cy="877.50" r="3.40" fill="#EC0A0A"/>
<circle cx="627.60" cy="952.00" r="3.40" fill="#EC0A0A"/>
<circle cx="728.10" cy="1034.80" r="3.40" fill="#EC0A0A"/>
<circle cx="486.00" cy="1117.40" r="3.40" fill="#EC0A0A"/>
<circle cx="451.00" cy="1199.90" r="3.40" fill="#EC0A0A"/>
<line x1="502.20" y1="1324.30" x2="502.20" y2="1381.00" stroke="#E05050" stroke-width="1.2" />
<polygon points="496.9,1324.3 502.2,1318.7 507.5,1324.3 502.2,1329.9" fill="#EC0A0A"/>
<polygon points="496.6,1378.5 507.8,1378.5 502.2,1389.5" fill="#EC0A0A"/>
<text transform="translate(493.86,1319.50) scale(0.9631,1)" font-size="11.86" font-family="Liberation Sans" fill="#E22" font-style="italic">142</text>
<text transform="translate(464.22,1384.68) scale(1.0160,1)" font-size="11.69" font-family="Liberation Sans" fill="#E22" font-style="italic">0.489</text>
<line x1="75.50" y1="1999.95" x2="75.50" y2="2239.85" stroke="#000" stroke-width="2.3" />
<line x1="74.35" y1="2238.70" x2="286.10" y2="2238.70" stroke="#000" stroke-width="2.3" />
<line x1="65.50" y1="2000.90" x2="75.50" y2="2000.90" stroke="#000" stroke-width="2.3" />
<text transform="translate(52.38,2007.80) scale(0.9700,1)" font-size="18.40" font-family="Liberation Sans" fill="#000" font-weight="bold">4</text>
<line x1="65.50" y1="2060.35" x2="75.50" y2="2060.35" stroke="#000" stroke-width="2.3" />
<text transform="translate(52.92,2067.25) scale(0.9700,1)" font-size="18.40" font-family="Liberation Sans" fill="#000" font-weight="bold">3</text>
<line x1="65.50" y1="2119.80" x2="75.50" y2="2119.80" stroke="#000" stroke-width="2.3" />
<text transform="translate(52.92,2126.70) scale(0.9700,1)" font-size="18.40" font-family="Liberation Sans" fill="#000" font-weight="bold">2</text>
<line x1="65.50" y1="2179.25" x2="75.50" y2="2179.25" stroke="#000" stroke-width="2.3" />
<text transform="translate(52.74,2186.15) scale(0.9700,1)" font-size="18.40" font-family="Liberation Sans" fill="#000" font-weight="bold">1</text>
<line x1="65.50" y1="2238.70" x2="75.50" y2="2238.70" stroke="#000" stroke-width="2.3" />
<text transform="translate(52.92,2245.60) scale(0.9700,1)" font-size="18.40" font-family="Liberation Sans" fill="#000" font-weight="bold">0</text>
<line x1="135.00" y1="2238.70" x2="135.00" y2="2248.70" stroke="#000" stroke-width="2.3" />
<line x1="225.00" y1="2238.70" x2="225.00" y2="2248.70" stroke="#000" stroke-width="2.3" />
<text transform="translate(40.86,2248.57) rotate(-90) scale(1.0160,1)" font-size="19.25" font-family="Liberation Sans" fill="#000" font-weight="bold">Relative mRNA level/β-actin</text>
<text transform="translate(149.18,1970.00) scale(0.9533,1)" font-size="27.43" font-family="Liberation Sans" fill="#000" font-weight="bold" font-style="italic">E2F1</text>
<text transform="translate(45.45,2361.06) rotate(-45)" font-size="17.96" font-family="Liberation Sans" fill="#000" font-weight="bold">BD without VTE</text>
<text transform="translate(155.63,2340.21) rotate(-45)" font-size="17.80" font-family="Liberation Sans" fill="#000" font-weight="bold">BD with VTE</text>
<line x1="128.90" y1="2061.60" x2="223.50" y2="2061.60" stroke="#000" stroke-width="3.9" />
<text transform="translate(161.80,2063.17) scale(1.0000,1)" font-size="24.59" font-family="Liberation Sans" fill="#000" font-weight="bold">*</text>
<text transform="translate(173.40,2063.17) scale(1.0000,1)" font-size="24.59" font-family="Liberation Sans" fill="#000" font-weight="bold">*</text>
<text transform="translate(185.01,2063.17) scale(1.0000,1)" font-size="24.59" font-family="Liberation Sans" fill="#000" font-weight="bold">*</text>
<line x1="135.00" y1="2155.90" x2="135.00" y2="2203.40" stroke="#F98000" stroke-width="1.5" />
<line x1="120.20" y1="2155.90" x2="149.90" y2="2155.90" stroke="#F98000" stroke-width="1.5" />
<line x1="120.20" y1="2203.40" x2="149.90" y2="2203.40" stroke="#F98000" stroke-width="1.5" />
<circle cx="135.00" cy="2140.80" r="4.90" fill="#F98000"/>
<circle cx="135.00" cy="2153.80" r="4.90" fill="#F98000"/>
<circle cx="135.00" cy="2166.40" r="4.90" fill="#F98000"/>
<circle cx="115.70" cy="2182.00" r="4.90" fill="#F98000"/>
<circle cx="135.00" cy="2191.00" r="4.90" fill="#F98000"/>
<circle cx="154.10" cy="2191.00" r="4.90" fill="#F98000"/>
<circle cx="154.10" cy="2201.60" r="4.90" fill="#F98000"/>
<circle cx="115.70" cy="2208.70" r="4.90" fill="#F98000"/>
<line x1="105.10" y1="2179.00" x2="164.70" y2="2179.00" stroke="#F98000" stroke-width="2.5" />
<line x1="225.00" y1="2090.50" x2="225.00" y2="2142.50" stroke="#5656F4" stroke-width="1.5" />
<line x1="210.00" y1="2090.50" x2="240.10" y2="2090.50" stroke="#5656F4" stroke-width="1.5" />
<line x1="210.00" y1="2142.50" x2="240.10" y2="2142.50" stroke="#5656F4" stroke-width="1.5" />
<rect x="220.25" y="2071.15" width="9.50" height="9.50" fill="#5656F4" stroke="none" stroke-width="1" />
<rect x="220.25" y="2092.55" width="9.50" height="9.50" fill="#5656F4" stroke="none" stroke-width="1" />
<rect x="200.95" y="2120.15" width="9.50" height="9.50" fill="#5656F4" stroke="none" stroke-width="1" />
<rect x="220.25" y="2115.65" width="9.50" height="9.50" fill="#5656F4" stroke="none" stroke-width="1" />
<rect x="239.15" y="2124.45" width="9.50" height="9.50" fill="#5656F4" stroke="none" stroke-width="1" />
<rect x="220.25" y="2145.25" width="9.50" height="9.50" fill="#5656F4" stroke="none" stroke-width="1" />
<line x1="194.90" y1="2116.10" x2="255.20" y2="2116.10" stroke="#5656F4" stroke-width="2.5" />
<line x1="394.50" y1="1996.75" x2="394.50" y2="2236.45" stroke="#000" stroke-width="2.3" />
<line x1="393.35" y1="2235.30" x2="604.70" y2="2235.30" stroke="#000" stroke-width="2.3" />
<line x1="384.50" y1="1997.70" x2="394.50" y2="1997.70" stroke="#000" stroke-width="2.3" />
<text transform="translate(356.93,2004.60) scale(0.9700,1)" font-size="18.40" font-family="Liberation Sans" fill="#000" font-weight="bold">2.5</text>
<line x1="384.50" y1="2045.22" x2="394.50" y2="2045.22" stroke="#000" stroke-width="2.3" />
<text transform="translate(357.11,2052.12) scale(0.9700,1)" font-size="18.40" font-family="Liberation Sans" fill="#000" font-weight="bold">2.0</text>
<line x1="384.50" y1="2092.74" x2="394.50" y2="2092.74" stroke="#000" stroke-width="2.3" />
<text transform="translate(356.93,2099.64) scale(0.9700,1)" font-size="18.40" font-family="Liberation Sans" fill="#000" font-weight="bold">1.5</text>
<line x1="384.50" y1="2140.26" x2="394.50" y2="2140.26" stroke="#000" stroke-width="2.3" />
<text transform="translate(357.11,2147.16) scale(0.9700,1)" font-size="18.40" font-family="Liberation Sans" fill="#000" font-weight="bold">1.0</text>
<line x1="384.50" y1="2187.78" x2="394.50" y2="2187.78" stroke="#000" stroke-width="2.3" />
<text transform="translate(356.93,2194.68) scale(0.9700,1)" font-size="18.40" font-family="Liberation Sans" fill="#000" font-weight="bold">0.5</text>
<line x1="384.50" y1="2235.30" x2="394.50" y2="2235.30" stroke="#000" stroke-width="2.3" />
<text transform="translate(357.11,2242.20) scale(0.9700,1)" font-size="18.40" font-family="Liberation Sans" fill="#000" font-weight="bold">0.0</text>
<line x1="453.80" y1="2235.30" x2="453.80" y2="2245.30" stroke="#000" stroke-width="2.3" />
<line x1="543.80" y1="2235.30" x2="543.80" y2="2245.30" stroke="#000" stroke-width="2.3" />
<text transform="translate(343.68,2244.87) rotate(-90) scale(1.0221,1)" font-size="19.14" font-family="Liberation Sans" fill="#000" font-weight="bold">Relative mRNA level/β-actin</text>
<text transform="translate(458.81,1966.53) scale(0.9361,1)" font-size="27.46" font-family="Liberation Sans" fill="#000" font-weight="bold" font-style="italic">GATA3</text>
<text transform="translate(364.27,2357.29) rotate(-45)" font-size="17.95" font-family="Liberation Sans" fill="#000" font-weight="bold">BD without VTE</text>
<text transform="translate(473.76,2337.13) rotate(-45)" font-size="17.81" font-family="Liberation Sans" fill="#000" font-weight="bold">BD with VTE</text>
<line x1="457.80" y1="2066.30" x2="540.10" y2="2066.30" stroke="#000" stroke-width="3.9" />
<text transform="translate(492.20,2066.24) scale(1.0000,1)" font-size="25.14" font-family="Liberation Sans" fill="#000" font-weight="bold">*</text>
<line x1="453.80" y1="2107.30" x2="453.80" y2="2174.00" stroke="#FA9D3C" stroke-width="1.5" />
<line x1="439.50" y1="2107.30" x2="468.40" y2="2107.30" stroke="#FA9D3C" stroke-width="1.5" />
<line x1="439.50" y1="2174.00" x2="468.40" y2="2174.00" stroke="#FA9D3C" stroke-width="1.5" />
<circle cx="453.80" cy="2080.20" r="4.90" fill="#FA9D3C"/>
<circle cx="472.90" cy="2117.60" r="4.90" fill="#FA9D3C"/>
<circle cx="453.80" cy="2121.90" r="4.90" fill="#FA9D3C"/>
<circle cx="453.80" cy="2139.30" r="4.90" fill="#FA9D3C"/>
<circle cx="453.80" cy="2149.30" r="4.90" fill="#FA9D3C"/>
<circle cx="453.80" cy="2159.40" r="4.90" fill="#FA9D3C"/>
<circle cx="472.90" cy="2174.70" r="4.90" fill="#FA9D3C"/>
<circle cx="435.00" cy="2180.20" r="4.90" fill="#FA9D3C"/>
<line x1="424.40" y1="2140.80" x2="483.50" y2="2140.80" stroke="#FA9D3C" stroke-width="2.5" />
<line x1="543.80" y1="2157.10" x2="543.80" y2="2191.60" stroke="#5656F4" stroke-width="1.5" />
<line x1="529.30" y1="2157.10" x2="558.90" y2="2157.10" stroke="#5656F4" stroke-width="1.5" />
<line x1="529.30" y1="2191.60" x2="558.90" y2="2191.60" stroke="#5656F4" stroke-width="1.5" />
<rect x="539.05" y="2142.85" width="9.50" height="9.50" fill="#5656F4" stroke="none" stroke-width="1" />
<rect x="539.05" y="2161.65" width="9.50" height="9.50" fill="#5656F4" stroke="none" stroke-width="1" />
<rect x="520.25" y="2168.75" width="9.50" height="9.50" fill="#5656F4" stroke="none" stroke-width="1" />
<rect x="557.95" y="2169.75" width="9.50" height="9.50" fill="#5656F4" stroke="none" stroke-width="1" />
<rect x="539.05" y="2181.75" width="9.50" height="9.50" fill="#5656F4" stroke="none" stroke-width="1" />
<rect x="539.05" y="2191.85" width="9.50" height="9.50" fill="#5656F4" stroke="none" stroke-width="1" />
<line x1="514.20" y1="2174.50" x2="573.50" y2="2174.50" stroke="#5656F4" stroke-width="2.5" />
<line x1="670.90" y1="1990.25" x2="670.90" y2="2229.85" stroke="#000" stroke-width="2.3" />
<line x1="669.75" y1="2228.70" x2="888.70" y2="2228.70" stroke="#000" stroke-width="2.3" />
<line x1="660.90" y1="1991.20" x2="670.90" y2="1991.20" stroke="#000" stroke-width="2.3" />
<text transform="translate(648.32,1998.10) scale(0.9700,1)" font-size="18.40" font-family="Liberation Sans" fill="#000" font-weight="bold">3</text>
<line x1="660.90" y1="2070.37" x2="670.90" y2="2070.37" stroke="#000" stroke-width="2.3" />
<text transform="translate(648.32,2077.27) scale(0.9700,1)" font-size="18.40" font-family="Liberation Sans" fill="#000" font-weight="bold">2</text>
<line x1="660.90" y1="2149.53" x2="670.90" y2="2149.53" stroke="#000" stroke-width="2.3" />
<text transform="translate(648.14,2156.43) scale(0.9700,1)" font-size="18.40" font-family="Liberation Sans" fill="#000" font-weight="bold">1</text>
<line x1="660.90" y1="2228.70" x2="670.90" y2="2228.70" stroke="#000" stroke-width="2.3" />
<text transform="translate(648.32,2235.60) scale(0.9700,1)" font-size="18.40" font-family="Liberation Sans" fill="#000" font-weight="bold">0</text>
<line x1="732.50" y1="2228.70" x2="732.50" y2="2238.70" stroke="#000" stroke-width="2.3" />
<line x1="825.80" y1="2228.70" x2="825.80" y2="2238.70" stroke="#000" stroke-width="2.3" />
<text transform="translate(636.56,2238.57) rotate(-90) scale(1.0192,1)" font-size="19.25" font-family="Liberation Sans" fill="#000" font-weight="bold">Relative mRNA level/β-actin</text>
<text transform="translate(735.59,1959.83) scale(0.9559,1)" font-size="26.76" font-family="Liberation Sans" fill="#000" font-weight="bold" font-style="italic">HDAC5</text>
<text transform="translate(643.20,2350.06) rotate(-45)" font-size="17.83" font-family="Liberation Sans" fill="#000" font-weight="bold">BD without VTE</text>
<text transform="translate(756.26,2330.83) rotate(-45)" font-size="17.81" font-family="Liberation Sans" fill="#000" font-weight="bold">BD with VTE</text>
<line x1="725.00" y1="2029.40" x2="823.80" y2="2029.40" stroke="#000" stroke-width="3.9" />
<text transform="translate(763.50,2032.94) scale(1.0000,1)" font-size="27.30" font-family="Liberation Sans" fill="#000" font-weight="bold">*</text>
<line x1="732.50" y1="2128.70" x2="732.50" y2="2170.70" stroke="#FA9D3C" stroke-width="1.5" />
<line x1="718.20" y1="2128.70" x2="748.40" y2="2128.70" stroke="#FA9D3C" stroke-width="1.5" />
<line x1="718.20" y1="2170.70" x2="748.40" y2="2170.70" stroke="#FA9D3C" stroke-width="1.5" />
<circle cx="706.90" cy="2128.20" r="4.90" fill="#FA9D3C"/>
<circle cx="758.90" cy="2127.40" r="4.90" fill="#FA9D3C"/>
<circle cx="724.00" cy="2135.70" r="4.90" fill="#FA9D3C"/>
<circle cx="741.60" cy="2136.20" r="4.90" fill="#FA9D3C"/>
<circle cx="724.00" cy="2147.60" r="4.90" fill="#FA9D3C"/>
<circle cx="741.60" cy="2172.00" r="4.90" fill="#FA9D3C"/>
<circle cx="758.90" cy="2172.00" r="4.90" fill="#FA9D3C"/>
<circle cx="706.90" cy="2176.50" r="4.90" fill="#FA9D3C"/>
<line x1="701.80" y1="2149.30" x2="763.90" y2="2149.30" stroke="#FA9D3C" stroke-width="2.5" />
<line x1="825.80" y1="2063.80" x2="825.80" y2="2141.30" stroke="#5656F4" stroke-width="1.5" />
<line x1="810.70" y1="2063.80" x2="840.90" y2="2063.80" stroke="#5656F4" stroke-width="1.5" />
<line x1="810.70" y1="2141.30" x2="840.90" y2="2141.30" stroke="#5656F4" stroke-width="1.5" />
<rect x="821.05" y="2037.25" width="9.50" height="9.50" fill="#5656F4" stroke="none" stroke-width="1" />
<rect x="821.05" y="2075.45" width="9.50" height="9.50" fill="#5656F4" stroke="none" stroke-width="1" />
<rect x="821.05" y="2087.75" width="9.50" height="9.50" fill="#5656F4" stroke="none" stroke-width="1" />
<rect x="821.05" y="2116.45" width="9.50" height="9.50" fill="#5656F4" stroke="none" stroke-width="1" />
<rect x="839.95" y="2133.55" width="9.50" height="9.50" fill="#5656F4" stroke="none" stroke-width="1" />
<rect x="802.65" y="2137.25" width="9.50" height="9.50" fill="#5656F4" stroke="none" stroke-width="1" />
<line x1="795.10" y1="2102.80" x2="856.50" y2="2102.80" stroke="#5656F4" stroke-width="2.5" />
<line x1="985.60" y1="1983.55" x2="985.60" y2="2223.05" stroke="#000" stroke-width="2.3" />
<line x1="984.45" y1="2221.90" x2="1195.00" y2="2221.90" stroke="#000" stroke-width="2.3" />
<line x1="975.60" y1="1984.50" x2="985.60" y2="1984.50" stroke="#000" stroke-width="2.3" />
<text transform="translate(948.21,1991.40) scale(0.9700,1)" font-size="18.40" font-family="Liberation Sans" fill="#000" font-weight="bold">2.0</text>
<line x1="975.60" y1="2043.85" x2="985.60" y2="2043.85" stroke="#000" stroke-width="2.3" />
<text transform="translate(948.03,2050.75) scale(0.9700,1)" font-size="18.40" font-family="Liberation Sans" fill="#000" font-weight="bold">1.5</text>
<line x1="975.60" y1="2103.20" x2="985.60" y2="2103.20" stroke="#000" stroke-width="2.3" />
<text transform="translate(948.21,2110.10) scale(0.9700,1)" font-size="18.40" font-family="Liberation Sans" fill="#000" font-weight="bold">1.0</text>
<line x1="975.60" y1="2162.55" x2="985.60" y2="2162.55" stroke="#000" stroke-width="2.3" />
<text transform="translate(948.03,2169.45) scale(0.9700,1)" font-size="18.40" font-family="Liberation Sans" fill="#000" font-weight="bold">0.5</text>
<line x1="975.60" y1="2221.90" x2="985.60" y2="2221.90" stroke="#000" stroke-width="2.3" />
<text transform="translate(948.21,2228.80) scale(0.9700,1)" font-size="18.40" font-family="Liberation Sans" fill="#000" font-weight="bold">0.0</text>
<line x1="1044.90" y1="2221.90" x2="1044.90" y2="2231.90" stroke="#000" stroke-width="2.3" />
<line x1="1134.50" y1="2221.90" x2="1134.50" y2="2231.90" stroke="#000" stroke-width="2.3" />
<text transform="translate(935.59,2231.37) rotate(-90) scale(0.9989,1)" font-size="19.57" font-family="Liberation Sans" fill="#000" font-weight="bold">Relative mRNA level/β-actin</text>
<text transform="translate(1054.28,1953.62) scale(0.9449,1)" font-size="27.75" font-family="Liberation Sans" fill="#000" font-weight="bold" font-style="italic">MSH2</text>
<text transform="translate(955.39,2343.73) rotate(-45)" font-size="17.88" font-family="Liberation Sans" fill="#000" font-weight="bold">BD without VTE</text>
<text transform="translate(1064.50,2324.17) rotate(-45)" font-size="18.06" font-family="Liberation Sans" fill="#000" font-weight="bold">BD with VTE</text>
<line x1="1044.10" y1="2007.00" x2="1141.80" y2="2007.00" stroke="#000" stroke-width="3.9" />
<text transform="translate(1086.10,2010.03) scale(1.0000,1)" font-size="25.41" font-family="Liberation Sans" fill="#000" font-weight="bold">*</text>
<line x1="1044.90" y1="2062.80" x2="1044.90" y2="2144.50" stroke="#F98000" stroke-width="1.5" />
<line x1="1031.00" y1="2062.80" x2="1060.10" y2="2062.80" stroke="#F98000" stroke-width="1.5" />
<line x1="1031.00" y1="2144.50" x2="1060.10" y2="2144.50" stroke="#F98000" stroke-width="1.5" />
<circle cx="1045.40" cy="2020.10" r="4.90" fill="#F98000"/>
<circle cx="1045.40" cy="2065.90" r="4.90" fill="#F98000"/>
<circle cx="1064.60" cy="2105.50" r="4.90" fill="#F98000"/>
<circle cx="1026.00" cy="2113.90" r="4.90" fill="#F98000"/>
<circle cx="1045.40" cy="2123.80" r="4.90" fill="#F98000"/>
<circle cx="1064.60" cy="2123.00" r="4.90" fill="#F98000"/>
<circle cx="1064.60" cy="2135.30" r="4.90" fill="#F98000"/>
<circle cx="1026.00" cy="2140.00" r="4.90" fill="#F98000"/>
<line x1="1015.60" y1="2103.40" x2="1075.00" y2="2103.40" stroke="#F98000" stroke-width="2.5" />
<line x1="1134.50" y1="2126.20" x2="1134.50" y2="2160.50" stroke="#5656F4" stroke-width="1.5" />
<line x1="1120.10" y1="2126.20" x2="1149.70" y2="2126.20" stroke="#5656F4" stroke-width="1.5" />
<line x1="1120.10" y1="2160.50" x2="1149.70" y2="2160.50" stroke="#5656F4" stroke-width="1.5" />
<rect x="1129.75" y="2110.45" width="9.50" height="9.50" fill="#5656F4" stroke="none" stroke-width="1" />
<rect x="1110.85" y="2130.05" width="9.50" height="9.50" fill="#5656F4" stroke="none" stroke-width="1" />
<rect x="1148.85" y="2136.65" width="9.50" height="9.50" fill="#5656F4" stroke="none" stroke-width="1" />
<rect x="1129.75" y="2141.85" width="9.50" height="9.50" fill="#5656F4" stroke="none" stroke-width="1" />
<rect x="1110.85" y="2158.35" width="9.50" height="9.50" fill="#5656F4" stroke="none" stroke-width="1" />
<rect x="1148.85" y="2154.45" width="9.50" height="9.50" fill="#5656F4" stroke="none" stroke-width="1" />
<line x1="1105.20" y1="2143.50" x2="1164.60" y2="2143.50" stroke="#5656F4" stroke-width="2.5" />
<text transform="translate(10.82,31.70) scale(0.9954,1)" font-size="38.03" font-family="Liberation Serif" fill="#231815">A</text>
<text transform="translate(0.73,385.00) scale(0.9751,1)" font-size="40.15" font-family="Liberation Serif" fill="#231815">B</text>
<text transform="translate(1.11,823.70) scale(1.0453,1)" font-size="40.45" font-family="Liberation Serif" fill="#231815">C</text>
<text transform="translate(4.72,1452.00) scale(1.0491,1)" font-size="40.77" font-family="Liberation Serif" fill="#231815">D</text>
<text transform="translate(0.65,1945.20) scale(1.0385,1)" font-size="40.15" font-family="Liberation Serif" fill="#231815">E</text>
</svg>
</body></html>
